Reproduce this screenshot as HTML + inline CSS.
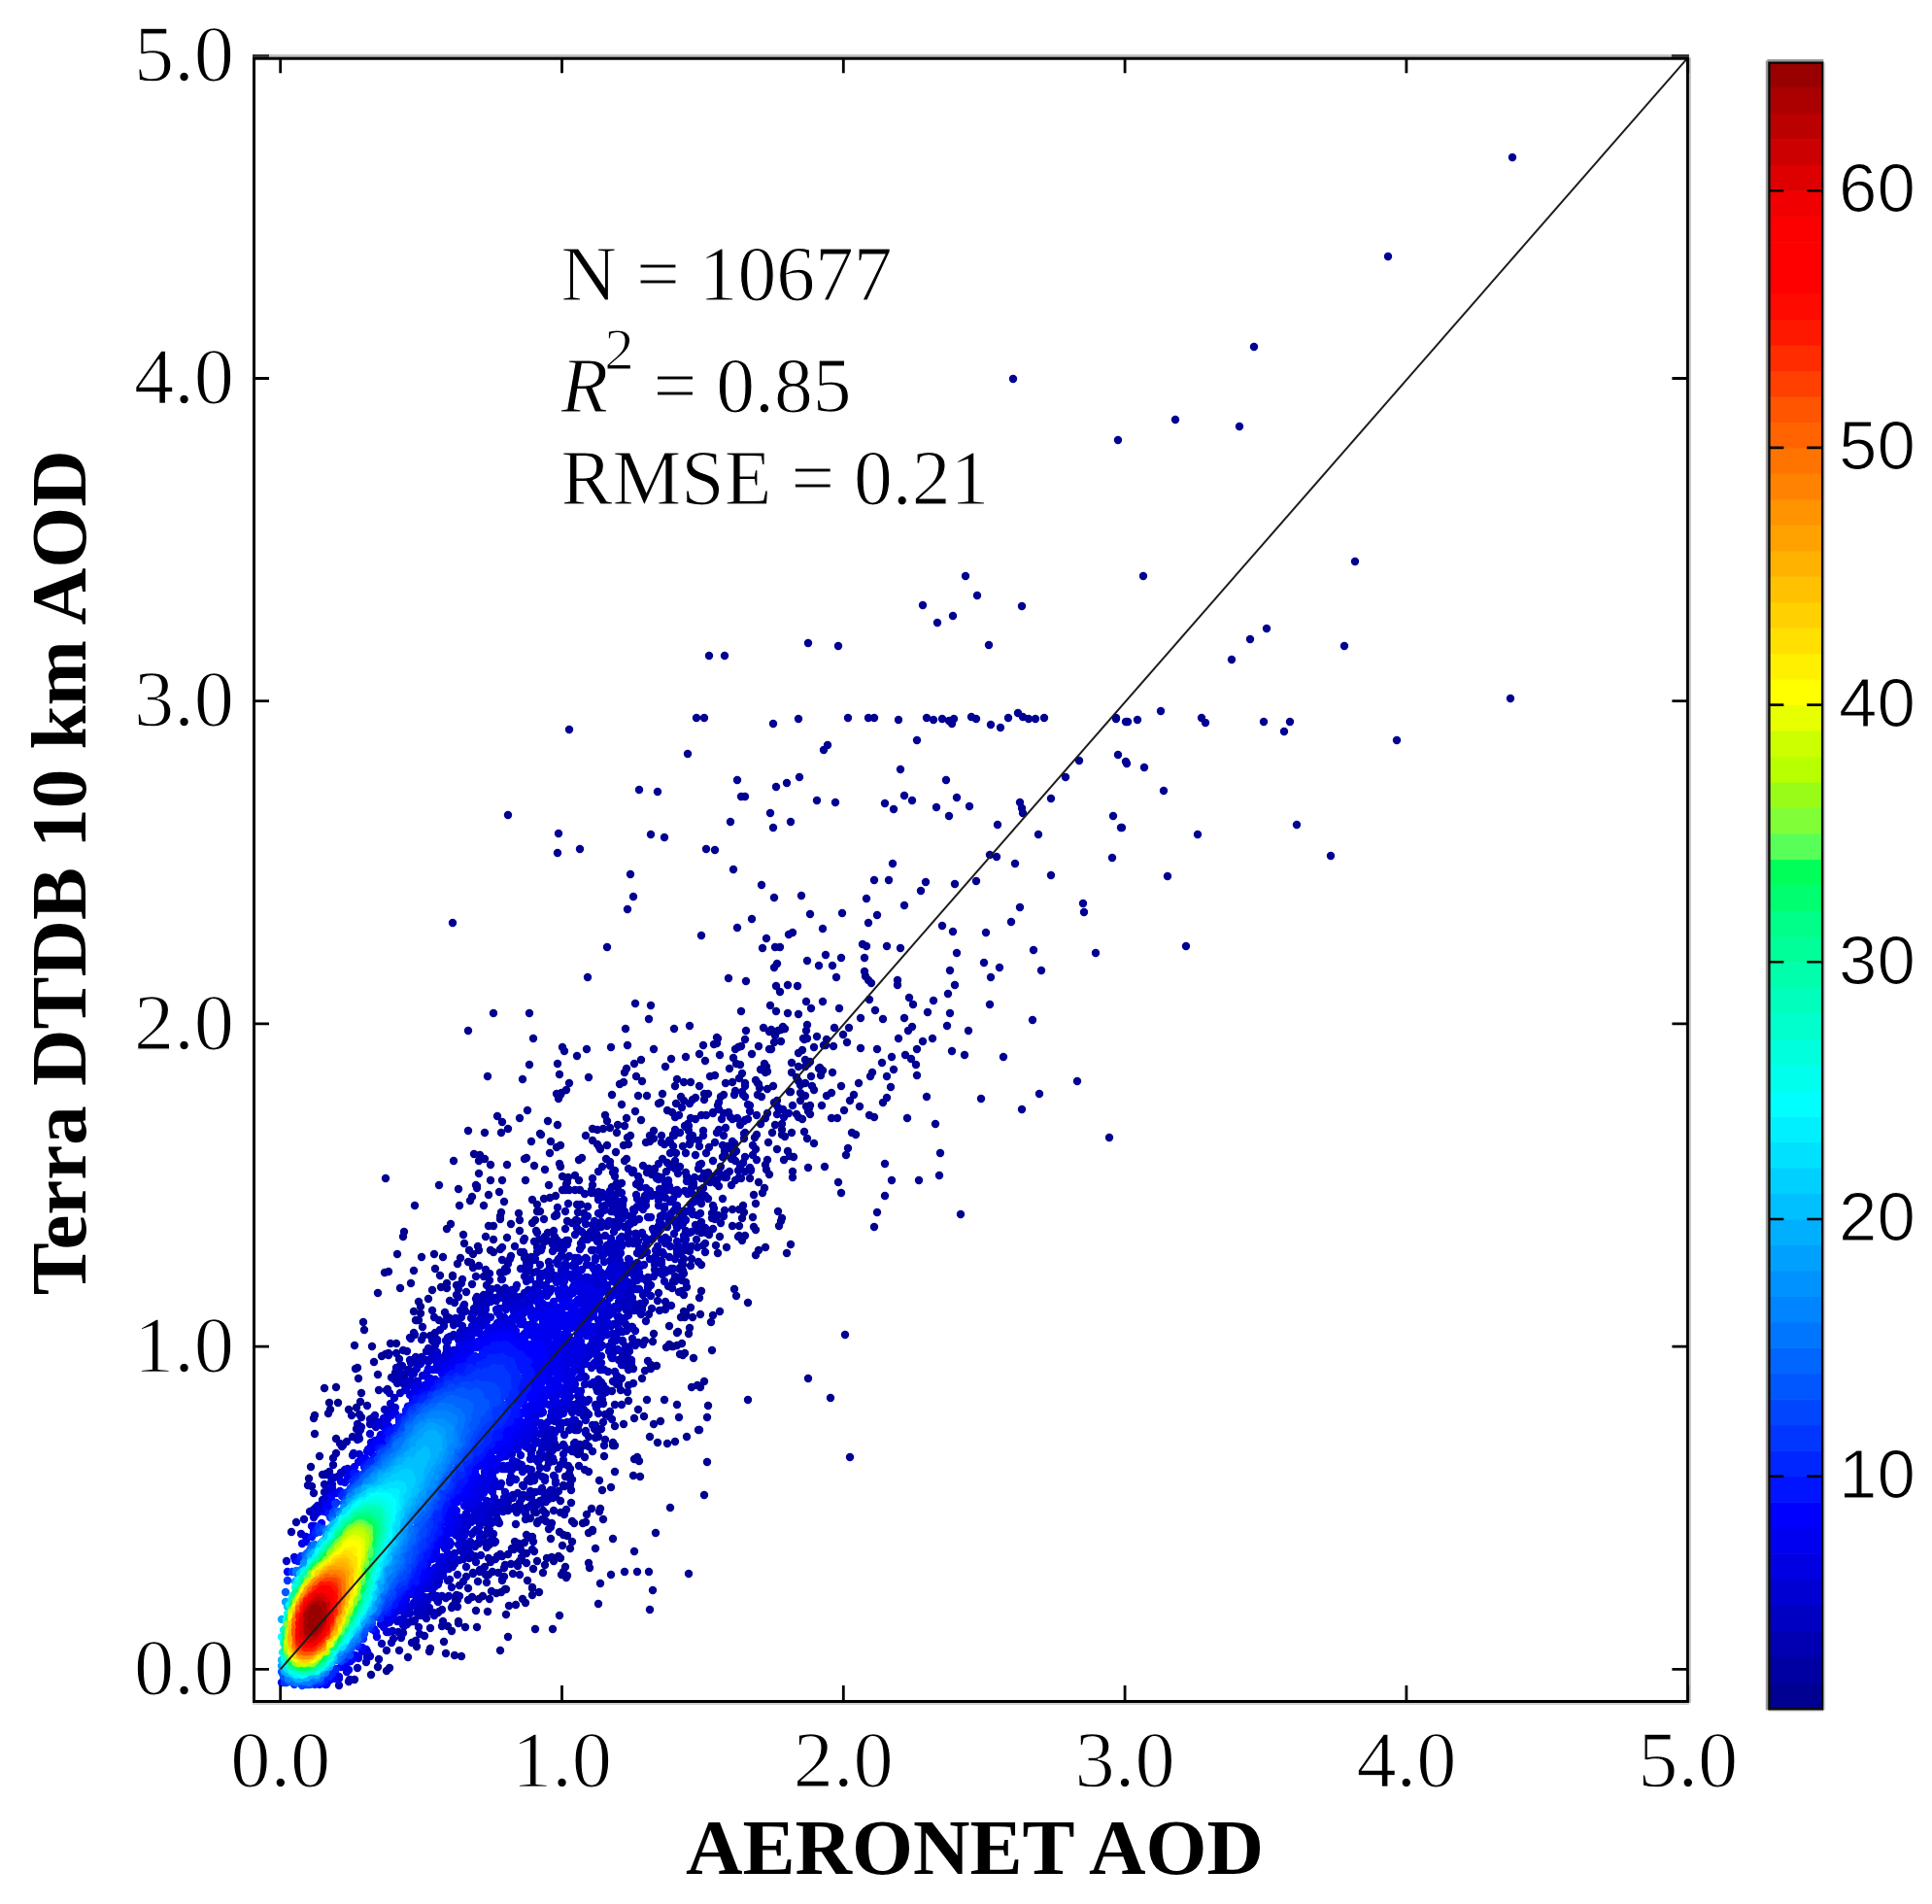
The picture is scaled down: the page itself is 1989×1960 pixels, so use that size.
<!DOCTYPE html>
<html><head><meta charset="utf-8"><title>Terra DTDB 10 km AOD vs AERONET AOD</title>
<style>html,body{margin:0;padding:0;background:#fff}svg{display:block}.s{font-family:"Liberation Serif",serif;font-size:79.6px;fill:#000;stroke:#fff;stroke-width:1.1px}.t{font-family:"Liberation Serif",serif;font-size:82.4px;fill:#000;stroke:#fff;stroke-width:1.3px}.b{font-family:"Liberation Serif",serif;font-size:81px;font-weight:bold;fill:#000}.c{font-family:"Liberation Sans",sans-serif;font-size:70.9px;fill:#000;stroke:#fff;stroke-width:1.2px}</style></head><body>
<svg width="1989" height="1960" viewBox="0 0 1989 1960">
<rect width="1989" height="1960" fill="#fff"/>
<g fill="none" stroke-linecap="round" stroke-width="8.4">
<path stroke="#000092" d="M1395 578h.01M1177 593h.01M1384 665h.01M1555 719h.01M1438 762h.01M1291 357h.01M1429 264h.01M1557 162h.01M586 751h.01M1221 974h.01M1043 390h.01M466 950h.01M875 1500h.01M1276 439h.01M1142 1171h.01M1210 432h.01M870 1374h.01M523 839h.01M1233 859h.01M1202 902h.01M1370 881h.01M1335 849h.01M989 1250h.01M1128 981h.01M1052 624h.01M1109 1113h.01M1063 1050h.01M1018 664h.01M397 1213h.01M1010 1131h.01M605 1006h.01M709 1620h.01M722 963h.01M770 1441h.01M625 975h.01M482 1061h.01M1033 1088h.01M708 776h.01M863 665h.01M832 662h.01M1082 901h.01M502 1108h.01M1198 814h.01M508 1043h.01M725 1539h.01M855 1439h.01M832 1419h.01M1268 679h.01M690 1552h.01M545 1043h.01M1052 1142h.01M1070 1126h.01M796 745h.01M1304 647h.01M994 593h.01M950 623h.01M822 740h.01M1072 999h.01M675 1578h.01M728 1505h.01M860 826h.01M658 813h.01M755 895h.01M1019 1034h.01M677 815h.01M927 792h.01M597 874h.01M1006 613h.01M649 900h.01M1064 978h.01M669 1657h.01M1287 658h.01M1195 732h.01M1301 743h.01M750 1007h.01M1111 783h.01M1069 859h.01M746 675h.01M730 675h.01M963 1157h.01M1050 934h.01M670 859h.01M427 1241h.01M684 862h.01M646 936h.01M1082 822h.01M1015 960h.01M968 1187h.01M575 858h.01M1097 800h.01M983 910h.01M974 803h.01M752 846h.01M1005 907h.01M784 911h.01M574 878h.01M1045 889h.01M841 824h.01M967 1210h.01M825 922h.01M873 739h.01M965 641h.01M1041 949h.01M1027 849h.01M759 955h.01M981 634h.01M946 1215h.01M616 1651h.01M1328 743h.01M1116 939h.01M911 1198h.01M1115 930h.01M900 1263h.01M549 1069h.01M759 803h.01M725 739h.01M1241 744h.01M717 739h.01M727 874h.01M1237 739h.01M954 1129h.01M652 923h.01M919 889h.01M970 953h.01M1151 453h.01M1151 453h.01M1322 753h.01M814 846h.01M866 1228h.01M797 924h.01M931 932h.01M944 762h.01M925 741h.01M867 940h.01M515 1699h.01M848 772h.01M852 767h.01M934 1151h.01M993 1086h.01M823 800h.01M736 875h.01M569 1677h.01M538 1111h.01M903 1248h.01M981 959h.01M997 1061h.01M774 946h.01M911 1231h.01M953 908h.01M998 830h.01M796 852h.01M770 1341h.01M927 976h.01M654 1033h.01M918 1215h.01M1145 883h.01M1145 883h.01M672 1637h.01M768 1010h.01M670 1035h.01M900 739h.01M900 906h.01M1029 996h.01M985 981h.01M948 917h.01M911 827h.01M1019 880h.01M894 739h.01M1178 790h.01M799 810h.01M964 831h.01M1020 1006h.01M545 1096h.01M576 1663h.01M389 1331h.01M1026 882h.01M977 840h.01M834 941h.01M892 925h.01M1013 991h.01M810 806h.01M644 1059h.01M694 1059h.01M863 1217h.01M551 1677h.01M920 833h.01M452 1220h.01M793 837h.01M915 906h.01M978 999h.01M668 1618h.01M710 1056h.01M416 1268h.01M847 956h.01M653 1597h.01M763 820h.01M939 824h.01M523 1685h.01M985 821h.01M767 820h.01M668 1049h.01M980 1082h.01M931 819h.01M903 942h.01M1050 826h.01M763 1041h.01M467 1195h.01M374 1361h.01M415 1273h.01M1053 837h.01M482 1164h.01M1052 832h.01M756 1327h.01M1146 840h.01M983 1014h.01M604 1080h.01M913 974h.01M894 950h.01M629 1078h.01M733 1390h.01M871 1189h.01M1075 739h.01M396 1310h.01M758 1334h.01M1146 840h.01M606 1109h.01M409 1291h.01M1155 852h.01M849 1201h.01M656 1618h.01M1030 749h.01M1154 852h.01M1005 740h.01M1020 746h.01M729 1447h.01M618 1630h.01M400 1309h.01M873 1182h.01M954 739h.01M643 1618h.01M976 1023h.01M978 1043h.01M543 1143h.01M629 1621h.01M728 1459h.01M673 1080h.01M1171 741h.01M1160 786h.01M924 1009h.01M975 1056h.01M1151 777h.01M1151 777h.01M831 989h.01M816 960h.01M579 1078h.01M375 1369h.01M1000 738h.01M475 1705h.01M861 1006h.01M1149 740h.01M1149 739h.01M631 1584h.01M924 1014h.01M1159 784h.01M512 1149h.01M850 983h.01M864 1038h.01M810 1290h.01M909 1049h.01M812 962h.01M843 994h.01M961 1030h.01M886 1048h.01M719 1472h.01M720 1472h.01M1066 740h.01M334 1429h.01M594 1087h.01M646 1076h.01M936 1027h.01M464 1260h.01M659 1520h.01M888 972h.01M1038 739h.01M365 1385h.01M900 1150h.01M892 974h.01M814 1281h.01M814 1281h.01M725 1422h.01M960 1069h.01M581 1082h.01M901 1040h.01M785 976h.01M847 1031h.01M1161 743h.01M535 1151h.01M697 1446h.01M789 966h.01M866 986h.01M1159 743h.01M961 741h.01M881 1168h.01M499 1166h.01M857 994h.01M324 1476h.01M895 1029h.01M944 1107h.01M695 1484h.01M460 1265h.01M886 1079h.01M1048 734h.01M940 1034h.01M877 1166h.01M323 1460h.01M707 1479h.01M721 1428h.01M574 1095h.01M821 1015h.01M1059 740h.01M712 1428h.01M955 1042h.01M517 1155h.01M913 1130h.01M832 1202h.01M909 1135h.01M434 1294h.01M1053 738h.01M741 1350h.01M980 745h.01M797 996h.01M718 1426h.01M699 1459h.01M982 740h.01M412 1326h.01M970 740h.01M652 1519h.01M691 1090h.01M799 1015h.01M895 1148h.01M426 1308h.01M890 986h.01M687 1486h.01M931 1048h.01M516 1166h.01M523 1162h.01M800 992h.01M977 742h.01M684 1441h.01M468 1704h.01M805 1254h.01M903 1080h.01M472 1224h.01M897 1012h.01M473 1241h.01M801 1247h.01M811 1014h.01M629 1531h.01M894 1009h.01M891 1005h.01M630 1127h.01M677 1485h.01M804 1257h.01M890 1000h.01M798 975h.01M778 1292h.01M803 975h.01M660 1091h.01M943 1096h.01M917 1119h.01M874 1058h.01M324 1457h.01M522 1199h.01M950 1072h.01M830 1031h.01M368 1408h.01M447 1291h.01M488 1188h.01M564 1154h.01M607 1614h.01M816 1212h.01M884 1115h.01M574 1158h.01M346 1428h.01M803 1021h.01M423 1321h.01M685 1098h.01M576 1106h.01M732 1361h.01M939 1057h.01M706 1088h.01M613 1594h.01M658 1504h.01M366 1409h.01M606 1609h.01M925 1069h.01M935 1061h.01M838 1177h.01M541 1215h.01M586 1115h.01M542 1192h.01M802 1262h.01M540 1193h.01M547 1175h.01M575 1131h.01M793 1035h.01M669 1479h.01M885 1139h.01M898 1104h.01M896 1108h.01M653 1095h.01M573 1126h.01M653 1502h.01M680 1463h.01M835 1038h.01M734 1354h.01M944 1080h.01M816 1206h.01M577 1127h.01M578 1125h.01M583 1122h.01M638 1116h.01M656 1500h.01M938 1090h.01M908 1094h.01M459 1702h.01M918 1088h.01M643 1104h.01M879 1127h.01M673 1466h.01M788 1284h.01M872 1073h.01M517 1215h.01M913 1108h.01M720 1085h.01M557 1168h.01M556 1167h.01M494 1189h.01M920 1101h.01M788 1284h.01M932 1086h.01M862 1151h.01M633 1515h.01M550 1200h.01M521 1662h.01M645 1100h.01M781 1287h.01M724 1076h.01M642 1114h.01M875 1133h.01M869 1143h.01M714 1398h.01M856 1151h.01M493 1195h.01M621 1564h.01M505 1199h.01M868 1065h.01M620 1534h.01M499 1193h.01M339 1444h.01M661 1113h.01M369 1419h.01M477 1271h.01M859 1058h.01M491 1675h.01M866 1118h.01M655 1108h.01M567 1175h.01M577 1179h.01M640 1137h.01M768 1061h.01M657 1128h.01M340 1451h.01M514 1227h.01M383 1386h.01M666 1128h.01M484 1236h.01M739 1069h.01M738 1068h.01M338 1455h.01M618 1553h.01M617 1524h.01M663 1458h.01M666 1441h.01M573 1181h.01M799 1041h.01M493 1208h.01M486 1232h.01M654 1144h.01M735 1075h.01M617 1556h.01M603 1169h.01M584 1622h.01M566 1187h.01M505 1215h.01M831 1172h.01M726 1092h.01M498 1241h.01M541 1650h.01M519 1237h.01M623 1148h.01M811 1043h.01M456 1294h.01M822 1044h.01M738 1074h.01M697 1111h.01M817 1191h.01M491 1223h.01M491 1221h.01M490 1220h.01M857 1104h.01M583 1624h.01M548 1642h.01M503 1230h.01M610 1162h.01M555 1639h.01M653 1460h.01M561 1204h.01M767 1070h.01M448 1306h.01M858 1077h.01M401 1717h.01M657 1451h.01M645 1151h.01M813 1190h.01M320 1510h.01M524 1653h.01M516 1248h.01M610 1576h.01M610 1575h.01M705 1393h.01M578 1621h.01M721 1353h.01M682 1126h.01M503 1262h.01M831 1055h.01M348 1444h.01M786 1058h.01M431 1340h.01M828 1165h.01M606 1578h.01M660 1153h.01M515 1252h.01M609 1553h.01M615 1163h.01M778 1266h.01M420 1706h.01M531 1652h.01M785 1228h.01M442 1700h.01M443 1697h.01M722 1329h.01M704 1114h.01M695 1118h.01M478 1280h.01M625 1154h.01M502 1659h.01M538 1646h.01M807 1194h.01M548 1235h.01M703 1395h.01M700 1394h.01M457 1690h.01M856 1125h.01M515 1255h.01M778 1239h.01M678 1136h.01M596 1194h.01M741 1086h.01M610 1174h.01M576 1198h.01M711 1114h.01M811 1185h.01M851 1070h.01M580 1618h.01M599 1192h.01M792 1209h.01M760 1078h.01M582 1613h.01M763 1077h.01M680 1135h.01M764 1277h.01M508 1262h.01M787 1223h.01M479 1675h.01M731 1108h.01M850 1076h.01M643 1159h.01M709 1373h.01M534 1249h.01M776 1263h.01M676 1406h.01M841 1067h.01M775 1253h.01M329 1499h.01M398 1720h.01M767 1272h.01M776 1230h.01M736 1107h.01M851 1128h.01M636 1158h.01M621 1162h.01M830 1061h.01M757 1080h.01M577 1201h.01M748 1284h.01M426 1350h.01M846 1138h.01M445 1328h.01M720 1336h.01M589 1587h.01M781 1077h.01M587 1594h.01M372 1434h.01M710 1367h.01M615 1178h.01M483 1287h.01M565 1220h.01M794 1060h.01M792 1062h.01M500 1273h.01M548 1634h.01M548 1635h.01M713 1356h.01M760 1273h.01M806 1057h.01M808 1059h.01M603 1567h.01M526 1260h.01M604 1559h.01M453 1313h.01M649 1169h.01M720 1118h.01M385 1402h.01M628 1161h.01M792 1080h.01M474 1295h.01M794 1080h.01M702 1383h.01M755 1089h.01M739 1290h.01M848 1076h.01M697 1385h.01M646 1171h.01M774 1085h.01M508 1276h.01M560 1234h.01M804 1060h.01M801 1061h.01M642 1466h.01M798 1066h.01M492 1283h.01M797 1073h.01M751 1100h.01M789 1204h.01M693 1386h.01M635 1166h.01M577 1604h.01M600 1568h.01M804 1072h.01M761 1272h.01M617 1181h.01M618 1183h.01M800 1183h.01M490 1658h.01M692 1386h.01M828 1070h.01M831 1069h.01M781 1217h.01M827 1069h.01M465 1679h.01M787 1095h.01M441 1337h.01M359 1451h.01M765 1241h.01M433 1345h.01M758 1095h.01M633 1488h.01M535 1256h.01M789 1098h.01M687 1143h.01M766 1248h.01M647 1178h.01M553 1240h.01M686 1387h.01M845 1107h.01M847 1102h.01M402 1383h.01M579 1211h.01M815 1094h.01M697 1372h.01M689 1384h.01M815 1166h.01M762 1096h.01M471 1301h.01M642 1179h.01M487 1291h.01M698 1371h.01M834 1147h.01M559 1619h.01M493 1287h.01M790 1103h.01M788 1104h.01M808 1170h.01M805 1168h.01M625 1179h.01M711 1346h.01M838 1078h.01M790 1194h.01M826 1152h.01M705 1356h.01M472 1671h.01M472 1669h.01M575 1602h.01M318 1522h.01M631 1488h.01M371 1443h.01M701 1356h.01M822 1084h.01M579 1591h.01M761 1262h.01M584 1581h.01M504 1646h.01M669 1169h.01M689 1365h.01M761 1245h.01M570 1607h.01M553 1247h.01M706 1352h.01M815 1104h.01M747 1115h.01M833 1141h.01M670 1409h.01M701 1129h.01M826 1081h.01M346 1481h.01M764 1254h.01M783 1101h.01M791 1176h.01M844 1099h.01M673 1164h.01M585 1212h.01M843 1100h.01M454 1325h.01M665 1176h.01M832 1144h.01M568 1603h.01M566 1233h.01M622 1499h.01M393 1396h.01M589 1566h.01M591 1568h.01M696 1136h.01M725 1126h.01M561 1611h.01M788 1199h.01M634 1186h.01M592 1210h.01M543 1627h.01M834 1138h.01M482 1299h.01M408 1383h.01M669 1175h.01M429 1695h.01M522 1274h.01M580 1580h.01M631 1485h.01M632 1487h.01M704 1350h.01M838 1122h.01M729 1126h.01M572 1231h.01M624 1193h.01M822 1098h.01M795 1166h.01M836 1118h.01M505 1287h.01M556 1247h.01M805 1163h.01M796 1118h.01M511 1640h.01M764 1105h.01M673 1172h.01M535 1267h.01M829 1091h.01M716 1130h.01M563 1604h.01M382 1724h.01M670 1405h.01M431 1359h.01M428 1359h.01M431 1359h.01M822 1150h.01M647 1442h.01M737 1282h.01M754 1114h.01M832 1095h.01M834 1093h.01M516 1639h.01M831 1095h.01M433 1352h.01M606 1515h.01M830 1139h.01M466 1314h.01M466 1313h.01M761 1110h.01M778 1112h.01M583 1219h.01M584 1217h.01M820 1109h.01M704 1133h.01M805 1157h.01M754 1262h.01M829 1098h.01M790 1121h.01M781 1116h.01M780 1115h.01M835 1108h.01M460 1326h.01M549 1615h.01M814 1124h.01M813 1124h.01M389 1415h.01M822 1113h.01M798 1158h.01M461 1674h.01M829 1128h.01M389 1716h.01M493 1646h.01M722 1302h.01M692 1145h.01M829 1115h.01M772 1213h.01M824 1117h.01M367 1449h.01M713 1132h.01M661 1419h.01M754 1245h.01M520 1636h.01M521 1636h.01M672 1381h.01M515 1286h.01M579 1225h.01M576 1577h.01M645 1193h.01M643 1195h.01M745 1127h.01M596 1215h.01M633 1468h.01M460 1321h.01M767 1115h.01M485 1300h.01M824 1133h.01M567 1584h.01M725 1132h.01M782 1120h.01M548 1259h.01M551 1256h.01M820 1147h.01M553 1607h.01M741 1273h.01M397 1394h.01M400 1395h.01M673 1373h.01M508 1289h.01M824 1125h.01M704 1333h.01M783 1157h.01M784 1129h.01M788 1151h.01M497 1643h.01M742 1129h.01M777 1171h.01M797 1135h.01M780 1127h.01M800 1133h.01M778 1183h.01M779 1168h.01M790 1146h.01"/>
<path stroke="#0000a2" d="M807 1150h.01M767 1118h.01M757 1123h.01M616 1206h.01M695 1150h.01M710 1136h.01M506 1638h.01M317 1529h.01M799 1137h.01M702 1140h.01M628 1200h.01M628 1196h.01M517 1284h.01M756 1127h.01M801 1140h.01M812 1146h.01M764 1124h.01M800 1147h.01M620 1201h.01M779 1194h.01M816 1138h.01M582 1225h.01M806 1142h.01M779 1148h.01M740 1135h.01M428 1689h.01M535 1621h.01M681 1169h.01M765 1127h.01M362 1457h.01M602 1513h.01M411 1699h.01M775 1179h.01M487 1305h.01M493 1303h.01M773 1205h.01M739 1138h.01M767 1129h.01M574 1243h.01M770 1137h.01M772 1138h.01M560 1255h.01M646 1433h.01M699 1148h.01M772 1144h.01M550 1597h.01M586 1225h.01M772 1202h.01M773 1204h.01M445 1349h.01M726 1289h.01M740 1142h.01M681 1176h.01M548 1595h.01M727 1148h.01M775 1189h.01M640 1446h.01M770 1152h.01M734 1145h.01M734 1146h.01M542 1609h.01M722 1148h.01M486 1644h.01M581 1559h.01M300 1577h.01M350 1486h.01M622 1488h.01M424 1691h.01M707 1325h.01M685 1348h.01M685 1347h.01M400 1393h.01M745 1252h.01M549 1587h.01M766 1154h.01M767 1153h.01M455 1674h.01M746 1246h.01M390 1431h.01M684 1178h.01M691 1344h.01M766 1167h.01M767 1166h.01M743 1152h.01M667 1401h.01M745 1146h.01M470 1323h.01M530 1283h.01M652 1424h.01M588 1547h.01M738 1166h.01M567 1572h.01M565 1574h.01M766 1172h.01M750 1145h.01M740 1163h.01M702 1329h.01M588 1534h.01M647 1203h.01M761 1212h.01M763 1213h.01M744 1234h.01M552 1267h.01M528 1620h.01M711 1151h.01M762 1158h.01M426 1372h.01M427 1374h.01M759 1151h.01M630 1461h.01M422 1377h.01M423 1378h.01M573 1250h.01M573 1251h.01M517 1626h.01M517 1627h.01M695 1163h.01M548 1582h.01M583 1554h.01M754 1152h.01M752 1150h.01M747 1161h.01M664 1411h.01M346 1496h.01M542 1599h.01M571 1252h.01M610 1213h.01M456 1669h.01M540 1588h.01M754 1152h.01M623 1482h.01M378 1447h.01M435 1366h.01M724 1164h.01M745 1169h.01M546 1583h.01M736 1176h.01M716 1152h.01M482 1647h.01M592 1225h.01M767 1206h.01M742 1259h.01M540 1275h.01M719 1299h.01M685 1340h.01M532 1610h.01M533 1612h.01M476 1317h.01M631 1207h.01M679 1349h.01M537 1603h.01M542 1580h.01M724 1169h.01M753 1220h.01M577 1557h.01M437 1684h.01M539 1277h.01M730 1181h.01M472 1327h.01M757 1215h.01M585 1239h.01M475 1321h.01M767 1191h.01M689 1174h.01M754 1175h.01M370 1456h.01M633 1205h.01M501 1629h.01M633 1446h.01M744 1179h.01M463 1339h.01M500 1307h.01M519 1623h.01M535 1607h.01M705 1159h.01M706 1160h.01M765 1197h.01M709 1159h.01M708 1157h.01M582 1247h.01M699 1330h.01M693 1168h.01M694 1169h.01M749 1180h.01M756 1177h.01M517 1297h.01M727 1187h.01M690 1176h.01M534 1589h.01M536 1595h.01M719 1174h.01M408 1393h.01M720 1180h.01M597 1225h.01M754 1184h.01M321 1530h.01M596 1509h.01M726 1280h.01M724 1282h.01M652 1205h.01M651 1207h.01M706 1320h.01M758 1185h.01M443 1676h.01M762 1201h.01M662 1200h.01M713 1169h.01M647 1426h.01M610 1494h.01M610 1494h.01M700 1166h.01M693 1180h.01M490 1314h.01M709 1164h.01M746 1185h.01M610 1220h.01M716 1189h.01M447 1356h.01M755 1188h.01M529 1595h.01M343 1501h.01M530 1587h.01M526 1610h.01M690 1187h.01M305 1567h.01M710 1171h.01M526 1293h.01M525 1296h.01M760 1205h.01M710 1178h.01M710 1177h.01M711 1175h.01M736 1255h.01M744 1191h.01M553 1269h.01M353 1488h.01M757 1195h.01M568 1568h.01M739 1251h.01M734 1265h.01M706 1187h.01M589 1523h.01M703 1180h.01M746 1188h.01M696 1187h.01M734 1195h.01M633 1211h.01M513 1619h.01M504 1311h.01M753 1193h.01M471 1654h.01M520 1611h.01M682 1193h.01M682 1193h.01M712 1296h.01M519 1614h.01M527 1594h.01M587 1528h.01M587 1529h.01M627 1458h.01M390 1708h.01M415 1390h.01M668 1353h.01M665 1360h.01M616 1479h.01M372 1459h.01M748 1212h.01M594 1240h.01M740 1221h.01M740 1221h.01M472 1335h.01M470 1333h.01M730 1271h.01M722 1198h.01M720 1199h.01M746 1212h.01M562 1566h.01M751 1206h.01M436 1375h.01M678 1198h.01M668 1203h.01M503 1621h.01M621 1464h.01M458 1351h.01M695 1195h.01M702 1318h.01M523 1301h.01M492 1628h.01M628 1453h.01M498 1314h.01M748 1208h.01M577 1545h.01M639 1431h.01M523 1600h.01M602 1229h.01M735 1254h.01M733 1254h.01M602 1500h.01M692 1326h.01M432 1682h.01M733 1249h.01M711 1303h.01M742 1201h.01M735 1244h.01M734 1241h.01M570 1267h.01M507 1618h.01M564 1269h.01M482 1635h.01M486 1322h.01M486 1322h.01M664 1380h.01M662 1384h.01M740 1207h.01M718 1284h.01M500 1621h.01M550 1278h.01M719 1203h.01M743 1211h.01M666 1207h.01M674 1203h.01M657 1211h.01M352 1489h.01M687 1197h.01M587 1522h.01M517 1602h.01M419 1391h.01M465 1655h.01M466 1653h.01M737 1218h.01M702 1313h.01M606 1489h.01M619 1471h.01M677 1339h.01M595 1248h.01M539 1289h.01M536 1289h.01M554 1566h.01M553 1568h.01M738 1215h.01M613 1480h.01M365 1729h.01M580 1529h.01M581 1530h.01M727 1269h.01M729 1207h.01M700 1201h.01M623 1456h.01M473 1643h.01M652 1409h.01M570 1555h.01M515 1310h.01M520 1306h.01M584 1257h.01M609 1228h.01M609 1225h.01M586 1517h.01M587 1520h.01M733 1211h.01M596 1241h.01M598 1240h.01M411 1399h.01M434 1379h.01M637 1425h.01M460 1355h.01M452 1359h.01M555 1276h.01M512 1602h.01M515 1600h.01M398 1699h.01M729 1209h.01M695 1203h.01M561 1273h.01M671 1347h.01M726 1264h.01M729 1234h.01M471 1647h.01M469 1648h.01M469 1644h.01M615 1474h.01M690 1201h.01M323 1537h.01M558 1564h.01M704 1311h.01M468 1341h.01M363 1479h.01M357 1484h.01M706 1207h.01M725 1212h.01M725 1208h.01M367 1471h.01M659 1216h.01M510 1605h.01M674 1204h.01M531 1569h.01M520 1309h.01M630 1432h.01M540 1295h.01M540 1292h.01M480 1330h.01M601 1488h.01M731 1217h.01M399 1430h.01M398 1431h.01M635 1218h.01M640 1218h.01M562 1558h.01M335 1518h.01M332 1518h.01M336 1517h.01M495 1616h.01M494 1618h.01M582 1265h.01M589 1259h.01M572 1541h.01M597 1495h.01M597 1493h.01M693 1319h.01M695 1319h.01M722 1269h.01M698 1208h.01M715 1212h.01M504 1318h.01M403 1418h.01M700 1305h.01M703 1308h.01M671 1209h.01M593 1256h.01M553 1284h.01M595 1497h.01M585 1509h.01M587 1512h.01M655 1219h.01M499 1613h.01M582 1520h.01M635 1425h.01M638 1421h.01M722 1213h.01M728 1216h.01M413 1686h.01M712 1283h.01M522 1308h.01M505 1608h.01M472 1643h.01M470 1642h.01M726 1231h.01M707 1211h.01M571 1273h.01M686 1206h.01M724 1223h.01M657 1382h.01M443 1375h.01M564 1277h.01M561 1278h.01M640 1419h.01M717 1276h.01M368 1466h.01M603 1486h.01M545 1563h.01M546 1563h.01M656 1218h.01M339 1515h.01M621 1445h.01M473 1632h.01M473 1632h.01M703 1302h.01M710 1288h.01M613 1467h.01M688 1324h.01M541 1564h.01M678 1331h.01M695 1314h.01M616 1227h.01M722 1262h.01M573 1276h.01M594 1496h.01M595 1257h.01M494 1616h.01M575 1535h.01M614 1228h.01M615 1230h.01M606 1479h.01M605 1242h.01M677 1211h.01M630 1222h.01M722 1258h.01M343 1508h.01M552 1557h.01M721 1225h.01M503 1604h.01M569 1542h.01M720 1232h.01M723 1230h.01M702 1299h.01M620 1441h.01M699 1306h.01M722 1239h.01M721 1236h.01M633 1221h.01M636 1222h.01M480 1623h.01M477 1628h.01M721 1249h.01M451 1660h.01M612 1471h.01M681 1212h.01M714 1218h.01M487 1620h.01M487 1619h.01M601 1249h.01M597 1487h.01M452 1659h.01M455 1657h.01M550 1556h.01M661 1348h.01M659 1222h.01M718 1267h.01M509 1588h.01M547 1295h.01M547 1294h.01M704 1296h.01M559 1555h.01M542 1299h.01M572 1525h.01M707 1287h.01M704 1285h.01M412 1406h.01M501 1323h.01M407 1413h.01M711 1217h.01M709 1216h.01M648 1405h.01M650 1405h.01M676 1213h.01M580 1507h.01M360 1729h.01M589 1494h.01M588 1492h.01M617 1229h.01M463 1357h.01M462 1358h.01M712 1223h.01M714 1221h.01M718 1262h.01M716 1261h.01M457 1361h.01M716 1231h.01M448 1372h.01M664 1340h.01M647 1410h.01"/>
<path stroke="#0000b2" d="M541 1558h.01M701 1291h.01M558 1284h.01M557 1287h.01M707 1216h.01M372 1469h.01M371 1472h.01M370 1472h.01M570 1535h.01M610 1467h.01M693 1306h.01M628 1226h.01M678 1214h.01M478 1343h.01M706 1282h.01M577 1508h.01M516 1317h.01M510 1587h.01M602 1255h.01M565 1543h.01M568 1541h.01M616 1446h.01M718 1251h.01M690 1308h.01M553 1289h.01M592 1485h.01M580 1503h.01M688 1215h.01M621 1435h.01M624 1433h.01M631 1422h.01M665 1223h.01M660 1353h.01M670 1334h.01M431 1675h.01M684 1319h.01M403 1691h.01M594 1264h.01M591 1491h.01M406 1420h.01M654 1385h.01M562 1546h.01M653 1381h.01M577 1279h.01M572 1527h.01M575 1512h.01M624 1230h.01M620 1228h.01M654 1370h.01M697 1290h.01M542 1302h.01M565 1537h.01M648 1401h.01M650 1402h.01M616 1455h.01M536 1306h.01M616 1235h.01M695 1296h.01M569 1281h.01M569 1280h.01M532 1557h.01M691 1306h.01M447 1663h.01M446 1660h.01M408 1408h.01M603 1473h.01M603 1475h.01M517 1317h.01M490 1608h.01M715 1237h.01M710 1269h.01M697 1287h.01M699 1285h.01M655 1230h.01M655 1230h.01M603 1260h.01M685 1310h.01M685 1309h.01M567 1534h.01M415 1681h.01M583 1277h.01M570 1519h.01M571 1520h.01M553 1549h.01M624 1430h.01M543 1552h.01M706 1276h.01M422 1400h.01M708 1229h.01M712 1228h.01M688 1216h.01M682 1312h.01M591 1486h.01M646 1407h.01M628 1231h.01M605 1252h.01M704 1276h.01M713 1250h.01M705 1226h.01M313 1564h.01M558 1547h.01M556 1545h.01M685 1218h.01M685 1219h.01M491 1335h.01M592 1271h.01M698 1282h.01M664 1231h.01M659 1351h.01M573 1284h.01M614 1449h.01M504 1328h.01M618 1440h.01M640 1228h.01M712 1268h.01M414 1406h.01M537 1554h.01M539 1553h.01M474 1349h.01M501 1593h.01M689 1294h.01M477 1345h.01M478 1348h.01M405 1687h.01M597 1267h.01M445 1380h.01M457 1365h.01M650 1400h.01M453 1369h.01M669 1228h.01M669 1226h.01M561 1539h.01M631 1232h.01M629 1231h.01M662 1343h.01M622 1232h.01M665 1232h.01M583 1492h.01M585 1277h.01M656 1234h.01M704 1272h.01M697 1278h.01M635 1229h.01M505 1586h.01M551 1296h.01M550 1297h.01M462 1643h.01M711 1240h.01M679 1224h.01M663 1235h.01M545 1303h.01M547 1549h.01M556 1545h.01M559 1544h.01M578 1282h.01M368 1482h.01M543 1307h.01M690 1283h.01M580 1497h.01M621 1426h.01M633 1412h.01M635 1416h.01M689 1221h.01M688 1221h.01M665 1236h.01M533 1553h.01M439 1666h.01M671 1231h.01M620 1432h.01M411 1413h.01M613 1446h.01M465 1634h.01M401 1434h.01M508 1579h.01M687 1222h.01M685 1280h.01M712 1246h.01M661 1239h.01M697 1225h.01M659 1239h.01M684 1307h.01M706 1267h.01M495 1601h.01M561 1524h.01M551 1547h.01M627 1235h.01M599 1268h.01M682 1289h.01M683 1291h.01M681 1301h.01M503 1589h.01M504 1590h.01M501 1590h.01M581 1489h.01M657 1346h.01M659 1346h.01M665 1241h.01M561 1521h.01M506 1327h.01M681 1298h.01M459 1645h.01M673 1230h.01M642 1235h.01M646 1402h.01M688 1276h.01M696 1226h.01M694 1226h.01M693 1226h.01M570 1504h.01M685 1274h.01M656 1242h.01M660 1243h.01M681 1276h.01M556 1535h.01M559 1535h.01M558 1532h.01M662 1245h.01M648 1391h.01M677 1283h.01M683 1226h.01M670 1253h.01M676 1310h.01M679 1309h.01M631 1235h.01M630 1233h.01M643 1405h.01M428 1397h.01M507 1582h.01M667 1253h.01M698 1229h.01M687 1225h.01M677 1269h.01M694 1270h.01M572 1285h.01M678 1229h.01M679 1229h.01M651 1384h.01M672 1265h.01M673 1267h.01M706 1256h.01M674 1269h.01M672 1275h.01M707 1247h.01M490 1337h.01M680 1261h.01M678 1262h.01M679 1264h.01M651 1378h.01M584 1281h.01M679 1257h.01M372 1469h.01M705 1248h.01M558 1520h.01M514 1568h.01M545 1541h.01M547 1542h.01M675 1287h.01M702 1261h.01M678 1236h.01M620 1242h.01M623 1241h.01M424 1401h.01M423 1403h.01M678 1241h.01M479 1350h.01M551 1536h.01M569 1501h.01M480 1613h.01M650 1366h.01M650 1367h.01M651 1366h.01M393 1692h.01M653 1247h.01M652 1245h.01M670 1276h.01M410 1418h.01M673 1314h.01M681 1260h.01M504 1331h.01M469 1357h.01M641 1239h.01M602 1271h.01M682 1232h.01M500 1588h.01M542 1310h.01M544 1541h.01M687 1263h.01M512 1326h.01M578 1286h.01M565 1506h.01M565 1505h.01M606 1456h.01M653 1349h.01M681 1253h.01M670 1323h.01M658 1255h.01M703 1260h.01M703 1260h.01M702 1257h.01M693 1234h.01M683 1250h.01M680 1252h.01M699 1261h.01M697 1264h.01M450 1379h.01M675 1293h.01M618 1250h.01M616 1249h.01M441 1388h.01M489 1602h.01M685 1233h.01M703 1247h.01M659 1342h.01M563 1511h.01M630 1240h.01M369 1478h.01M696 1260h.01M703 1252h.01M702 1252h.01M439 1391h.01M569 1288h.01M675 1297h.01M675 1296h.01M546 1535h.01M537 1543h.01M633 1238h.01M636 1237h.01M359 1731h.01M540 1314h.01M535 1547h.01M622 1246h.01M697 1243h.01M696 1241h.01M697 1241h.01M471 1621h.01M550 1524h.01M674 1302h.01M674 1307h.01M689 1257h.01M684 1242h.01M684 1244h.01M690 1237h.01M600 1277h.01M529 1552h.01M531 1551h.01M610 1261h.01M580 1286h.01M319 1556h.01M554 1518h.01M697 1246h.01M498 1333h.01M603 1462h.01M699 1256h.01M640 1405h.01M662 1333h.01M688 1254h.01M691 1254h.01M612 1257h.01M644 1402h.01M644 1400h.01M539 1539h.01M526 1553h.01M641 1241h.01M548 1523h.01M551 1520h.01M691 1249h.01M661 1270h.01M661 1270h.01M661 1269h.01M694 1246h.01M595 1472h.01M592 1472h.01M595 1469h.01M651 1251h.01M546 1525h.01M556 1302h.01M665 1281h.01M646 1395h.01M669 1296h.01M667 1327h.01M667 1327h.01M667 1325h.01M580 1487h.01M626 1412h.01M605 1271h.01M608 1268h.01M653 1258h.01M637 1243h.01M556 1511h.01M496 1337h.01M664 1274h.01M411 1420h.01M439 1660h.01M574 1490h.01M548 1524h.01M545 1522h.01M416 1416h.01M412 1413h.01M543 1524h.01M533 1537h.01M491 1342h.01M616 1420h.01M619 1423h.01M381 1461h.01M383 1460h.01M643 1247h.01M615 1432h.01M614 1429h.01M334 1528h.01M539 1530h.01M538 1529h.01M598 1280h.01M599 1283h.01M615 1263h.01M616 1263h.01M614 1260h.01M513 1566h.01M645 1390h.01M666 1289h.01M665 1289h.01M619 1258h.01M488 1347h.01M629 1247h.01M631 1247h.01M569 1493h.01M604 1272h.01M605 1276h.01M606 1272h.01M639 1247h.01M386 1457h.01M651 1257h.01M483 1604h.01M427 1668h.01M426 1669h.01M578 1292h.01M581 1477h.01M646 1388h.01M451 1649h.01M667 1321h.01M565 1498h.01M664 1331h.01M648 1252h.01M601 1458h.01M643 1249h.01M640 1398h.01M643 1399h.01M520 1326h.01M547 1519h.01M562 1500h.01M381 1705h.01M475 1356h.01M420 1410h.01M589 1470h.01M663 1285h.01M663 1288h.01M504 1575h.01M648 1260h.01M649 1260h.01M637 1400h.01M368 1717h.01M619 1263h.01M657 1278h.01M596 1466h.01M654 1270h.01M655 1270h.01M635 1248h.01M636 1250h.01M467 1364h.01M645 1370h.01M647 1260h.01M653 1342h.01M641 1254h.01M520 1553h.01M523 1555h.01M493 1589h.01M450 1381h.01M448 1385h.01M660 1292h.01M663 1290h.01M377 1711h.01M502 1578h.01M646 1368h.01M667 1318h.01M665 1318h.01M443 1391h.01M611 1274h.01M597 1286h.01M370 1481h.01M569 1489h.01M637 1254h.01M655 1275h.01M627 1257h.01M646 1264h.01M565 1299h.01M615 1272h.01M614 1270h.01M613 1271h.01M612 1268h.01M549 1310h.01M547 1513h.01M545 1513h.01M409 1424h.01M644 1363h.01M641 1396h.01M667 1315h.01M489 1592h.01M416 1419h.01M496 1342h.01M554 1505h.01M658 1285h.01M631 1258h.01M629 1259h.01M434 1397h.01M655 1279h.01M656 1278h.01M638 1257h.01M562 1499h.01M556 1502h.01M604 1454h.01M602 1453h.01M528 1542h.01M643 1263h.01M625 1262h.01M586 1472h.01M455 1643h.01M491 1347h.01M615 1423h.01M515 1331h.01M614 1274h.01M532 1323h.01M532 1323h.01M481 1603h.01M640 1400h.01M323 1554h.01M477 1605h.01M433 1663h.01M632 1262h.01M636 1263h.01M486 1352h.01M429 1403h.01M431 1400h.01M644 1389h.01M656 1290h.01M512 1567h.01M512 1564h.01M590 1467h.01M410 1680h.01M528 1539h.01M647 1269h.01M571 1486h.01M542 1319h.01M606 1441h.01M615 1278h.01M652 1280h.01M421 1670h.01M423 1669h.01M647 1354h.01M623 1272h.01M418 1414h.01M450 1647h.01M451 1645h.01M663 1302h.01M502 1574h.01M644 1386h.01M617 1274h.01M503 1338h.01M622 1410h.01M565 1491h.01M646 1274h.01M647 1275h.01M461 1627h.01M463 1626h.01M491 1589h.01M583 1295h.01M556 1312h.01M553 1309h.01M421 1410h.01M641 1381h.01M523 1546h.01M601 1451h.01M520 1554h.01M518 1556h.01M516 1330h.01M519 1328h.01M499 1580h.01M472 1362h.01M661 1316h.01M442 1655h.01M381 1466h.01M334 1536h.01M641 1380h.01M510 1336h.01M608 1425h.01M566 1304h.01M617 1279h.01M609 1287h.01M611 1287h.01M632 1268h.01M647 1280h.01M586 1293h.01M640 1273h.01M412 1423h.01M531 1326h.01M349 1735h.01M645 1349h.01"/>
<path stroke="#0000c2" d="M573 1299h.01M575 1296h.01M494 1583h.01M641 1371h.01M570 1481h.01M341 1521h.01M495 1346h.01M538 1515h.01M658 1327h.01M531 1523h.01M592 1295h.01M416 1674h.01M415 1673h.01M638 1275h.01M639 1275h.01M638 1275h.01M484 1599h.01M481 1597h.01M546 1317h.01M629 1275h.01M543 1512h.01M590 1462h.01M592 1462h.01M565 1485h.01M406 1439h.01M595 1295h.01M522 1540h.01M637 1390h.01M506 1337h.01M505 1340h.01M616 1287h.01M519 1549h.01M363 1498h.01M660 1303h.01M525 1526h.01M473 1606h.01M295 1607h.01M611 1423h.01M506 1568h.01M559 1311h.01M647 1344h.01M551 1502h.01M651 1336h.01M639 1279h.01M618 1410h.01M619 1410h.01M572 1473h.01M576 1469h.01M577 1471h.01M628 1280h.01M556 1496h.01M429 1660h.01M643 1357h.01M635 1280h.01M558 1492h.01M500 1344h.01M502 1340h.01M657 1308h.01M603 1295h.01M556 1316h.01M484 1589h.01M485 1591h.01M450 1643h.01M493 1577h.01M310 1579h.01M631 1398h.01M630 1398h.01M630 1398h.01M430 1406h.01M618 1285h.01M524 1329h.01M527 1328h.01M656 1300h.01M659 1316h.01M656 1318h.01M419 1672h.01M417 1670h.01M417 1669h.01M604 1443h.01M600 1441h.01M603 1443h.01M600 1441h.01M625 1282h.01M327 1550h.01M658 1310h.01M656 1310h.01M512 1555h.01M515 1555h.01M640 1283h.01M637 1283h.01M396 1451h.01M567 1308h.01M596 1452h.01M596 1449h.01M435 1658h.01M658 1313h.01M537 1511h.01M604 1296h.01M466 1613h.01M425 1412h.01M511 1339h.01M520 1334h.01M631 1281h.01M526 1520h.01M525 1524h.01M482 1592h.01M574 1301h.01M476 1365h.01M650 1335h.01M437 1652h.01M636 1372h.01M519 1542h.01M636 1389h.01M440 1648h.01M655 1327h.01M596 1454h.01M563 1309h.01M495 1351h.01M511 1559h.01M592 1299h.01M546 1502h.01M529 1328h.01M477 1599h.01M637 1368h.01M465 1376h.01M467 1374h.01M351 1516h.01M626 1286h.01M402 1445h.01M638 1286h.01M378 1706h.01M380 1704h.01M504 1340h.01M595 1297h.01M593 1299h.01M631 1393h.01M629 1396h.01M571 1475h.01M461 1377h.01M463 1376h.01M559 1490h.01M558 1488h.01M500 1567h.01M503 1567h.01M459 1380h.01M559 1313h.01M579 1465h.01M576 1467h.01M577 1465h.01M523 1336h.01M450 1392h.01M488 1352h.01M515 1550h.01M446 1393h.01M630 1285h.01M632 1288h.01M596 1298h.01M648 1297h.01M444 1398h.01M443 1400h.01M514 1336h.01M597 1445h.01M648 1340h.01M637 1361h.01M566 1478h.01M647 1296h.01M472 1606h.01M488 1577h.01M336 1537h.01M613 1295h.01M438 1400h.01M622 1291h.01M622 1291h.01M520 1536h.01M649 1331h.01M584 1464h.01M485 1357h.01M482 1590h.01M481 1589h.01M544 1328h.01M654 1310h.01M654 1317h.01M566 1310h.01M566 1312h.01M565 1311h.01M566 1309h.01M653 1314h.01M537 1508h.01M433 1404h.01M639 1290h.01M638 1290h.01M582 1302h.01M582 1301h.01M561 1480h.01M516 1548h.01M514 1547h.01M468 1610h.01M464 1611h.01M511 1553h.01M595 1451h.01M341 1526h.01M342 1528h.01M651 1302h.01M650 1301h.01M633 1378h.01M634 1380h.01M636 1379h.01M387 1466h.01M499 1348h.01M499 1348h.01M518 1336h.01M635 1291h.01M630 1292h.01M643 1340h.01M589 1454h.01M477 1595h.01M479 1592h.01M637 1355h.01M644 1336h.01M429 1409h.01M634 1376h.01M616 1403h.01M619 1403h.01M648 1326h.01M649 1327h.01M560 1486h.01M558 1485h.01M547 1497h.01M445 1644h.01M494 1571h.01M506 1557h.01M507 1557h.01M426 1414h.01M424 1414h.01M499 1566h.01M500 1565h.01M616 1406h.01M630 1384h.01M567 1474h.01M568 1472h.01M490 1575h.01M504 1564h.01M589 1303h.01M592 1304h.01M590 1303h.01M389 1464h.01M620 1293h.01M652 1306h.01M474 1596h.01M530 1334h.01M484 1587h.01M433 1653h.01M435 1652h.01M474 1371h.01M442 1644h.01M462 1615h.01M613 1297h.01M637 1294h.01M602 1425h.01M521 1337h.01M521 1338h.01M651 1323h.01M510 1552h.01M471 1376h.01M628 1390h.01M627 1391h.01M486 1579h.01M630 1381h.01M630 1381h.01M597 1437h.01M578 1307h.01M645 1332h.01M527 1513h.01M525 1513h.01M532 1510h.01M651 1308h.01M491 1360h.01M595 1445h.01M552 1322h.01M647 1303h.01M500 1348h.01M637 1347h.01M640 1345h.01M461 1381h.01M404 1679h.01M632 1292h.01M633 1363h.01M636 1363h.01M533 1506h.01M533 1506h.01M460 1387h.01M325 1552h.01M338 1534h.01M448 1633h.01M567 1314h.01M451 1396h.01M344 1521h.01M348 1520h.01M631 1380h.01M479 1591h.01M477 1589h.01M536 1335h.01M604 1302h.01M540 1331h.01M399 1455h.01M416 1425h.01M419 1428h.01M441 1402h.01M592 1450h.01M511 1348h.01M527 1337h.01M528 1337h.01M465 1606h.01M582 1305h.01M582 1307h.01M507 1555h.01M627 1386h.01M364 1496h.01M597 1436h.01M598 1432h.01M512 1548h.01M452 1628h.01M550 1327h.01M552 1325h.01M631 1373h.01M630 1373h.01M637 1340h.01M499 1355h.01M609 1303h.01M422 1661h.01M638 1298h.01M622 1299h.01M500 1557h.01M548 1492h.01M610 1406h.01M611 1406h.01M609 1408h.01M610 1405h.01M636 1356h.01M515 1530h.01M560 1476h.01M562 1474h.01M643 1303h.01M595 1444h.01M323 1562h.01M445 1637h.01M558 1323h.01M635 1297h.01M528 1337h.01M528 1337h.01M422 1423h.01M423 1421h.01M509 1542h.01M646 1323h.01M514 1347h.01M521 1341h.01M647 1310h.01M628 1298h.01M619 1396h.01M569 1316h.01M571 1313h.01M602 1417h.01M601 1417h.01M603 1418h.01M546 1332h.01M548 1332h.01M412 1434h.01M642 1331h.01M640 1331h.01M351 1517h.01M332 1544h.01M629 1365h.01M495 1357h.01M478 1371h.01M479 1372h.01M479 1370h.01M468 1599h.01M505 1549h.01M506 1550h.01M647 1320h.01M578 1309h.01M578 1311h.01M525 1510h.01M599 1307h.01M615 1397h.01M615 1397h.01M620 1385h.01M528 1504h.01M531 1505h.01M529 1507h.01M409 1669h.01M387 1469h.01M429 1655h.01M432 1656h.01M589 1446h.01M516 1527h.01M564 1464h.01M565 1317h.01M633 1345h.01M571 1463h.01M632 1363h.01M489 1565h.01M642 1306h.01M640 1305h.01M450 1628h.01M451 1631h.01M500 1354h.01M587 1448h.01M584 1450h.01M595 1437h.01M433 1650h.01"/>
<path stroke="#0000d2" d="M437 1644h.01M494 1563h.01M342 1532h.01M625 1374h.01M527 1344h.01M612 1403h.01M472 1379h.01M512 1349h.01M637 1334h.01M642 1325h.01M520 1345h.01M520 1346h.01M543 1336h.01M456 1622h.01M466 1602h.01M497 1560h.01M553 1484h.01M575 1458h.01M561 1324h.01M562 1323h.01M582 1311h.01M355 1513h.01M357 1721h.01M633 1304h.01M634 1303h.01M458 1614h.01M458 1616h.01M611 1306h.01M548 1331h.01M550 1332h.01M506 1546h.01M412 1667h.01M478 1581h.01M460 1390h.01M641 1309h.01M551 1486h.01M389 1466h.01M448 1398h.01M417 1431h.01M544 1491h.01M642 1320h.01M332 1548h.01M614 1393h.01M612 1392h.01M596 1433h.01M638 1306h.01M613 1306h.01M556 1476h.01M636 1332h.01M580 1455h.01M521 1348h.01M486 1365h.01M488 1364h.01M487 1368h.01M642 1315h.01M617 1387h.01M618 1387h.01M643 1316h.01M512 1351h.01M505 1356h.01M445 1636h.01M511 1530h.01M631 1352h.01M631 1350h.01M417 1662h.01M544 1334h.01M592 1310h.01M485 1567h.01M484 1566h.01M616 1305h.01M395 1460h.01M396 1463h.01M501 1549h.01M576 1314h.01M578 1313h.01M623 1373h.01M593 1309h.01M562 1466h.01M562 1467h.01M633 1307h.01M635 1308h.01M635 1306h.01M633 1306h.01M585 1445h.01M636 1326h.01M521 1512h.01M523 1509h.01M484 1369h.01M482 1371h.01M597 1418h.01M381 1476h.01M568 1456h.01M624 1362h.01M627 1363h.01M555 1331h.01M554 1331h.01M554 1331h.01M495 1559h.01M423 1426h.01M638 1311h.01M596 1309h.01M632 1346h.01M481 1568h.01M481 1571h.01M500 1554h.01M533 1340h.01M517 1512h.01M520 1512h.01M421 1658h.01M494 1364h.01M628 1307h.01M629 1305h.01M630 1307h.01M398 1680h.01M400 1680h.01M325 1557h.01M325 1559h.01M453 1620h.01M543 1337h.01M542 1337h.01M396 1460h.01M639 1324h.01M638 1323h.01M623 1370h.01M536 1498h.01M624 1357h.01M558 1469h.01M501 1360h.01M574 1455h.01M573 1454h.01M581 1315h.01M636 1318h.01M619 1377h.01M619 1376h.01M551 1483h.01M632 1329h.01M612 1386h.01M551 1336h.01M549 1334h.01M476 1377h.01M632 1309h.01M501 1545h.01M598 1412h.01M531 1346h.01M532 1347h.01M613 1312h.01M615 1310h.01M430 1650h.01M543 1489h.01M541 1489h.01M543 1488h.01M627 1354h.01M626 1355h.01M628 1352h.01M479 1576h.01M621 1364h.01M621 1367h.01M435 1645h.01M539 1343h.01M537 1343h.01M507 1536h.01M505 1534h.01M484 1562h.01M605 1397h.01M401 1452h.01M585 1314h.01M587 1312h.01M586 1314h.01M588 1314h.01M472 1590h.01M616 1308h.01M617 1310h.01M619 1310h.01M618 1311h.01M579 1449h.01M578 1449h.01M473 1584h.01M474 1584h.01M631 1310h.01M631 1311h.01M614 1382h.01M615 1380h.01M490 1558h.01M608 1392h.01M610 1392h.01M610 1389h.01M461 1601h.01M515 1355h.01M515 1355h.01M514 1353h.01M567 1458h.01M626 1349h.01M624 1352h.01M633 1312h.01M498 1551h.01M463 1391h.01M627 1309h.01M626 1311h.01M548 1338h.01M632 1333h.01M495 1556h.01M582 1445h.01M635 1322h.01M634 1320h.01M459 1394h.01M620 1364h.01M623 1364h.01M633 1319h.01M509 1524h.01M565 1327h.01M568 1327h.01M496 1361h.01M535 1345h.01M532 1347h.01M598 1408h.01M598 1408h.01M450 1402h.01M625 1347h.01M625 1346h.01M594 1315h.01M594 1314h.01M601 1402h.01M603 1404h.01M557 1465h.01M616 1370h.01M568 1453h.01M571 1454h.01M570 1453h.01M571 1452h.01M508 1529h.01M507 1532h.01M505 1531h.01M507 1531h.01M370 1497h.01M597 1315h.01M451 1623h.01M487 1371h.01M487 1369h.01M607 1392h.01M607 1395h.01M608 1385h.01M631 1316h.01M628 1314h.01M630 1315h.01M629 1313h.01M603 1315h.01M407 1449h.01M477 1571h.01M518 1509h.01M520 1510h.01M455 1612h.01M605 1315h.01M519 1356h.01M528 1504h.01M623 1357h.01M620 1357h.01M624 1341h.01M624 1344h.01M624 1343h.01M625 1342h.01M549 1478h.01M610 1316h.01M573 1320h.01M441 1409h.01M475 1577h.01M475 1577h.01M581 1317h.01M581 1319h.01M592 1430h.01M631 1319h.01M530 1349h.01M529 1350h.01M458 1606h.01M620 1313h.01M623 1313h.01M622 1314h.01M628 1336h.01M611 1380h.01M440 1634h.01M442 1635h.01M444 1633h.01M599 1404h.01M620 1353h.01M587 1438h.01M603 1399h.01M606 1390h.01M547 1481h.01M437 1416h.01M507 1525h.01M494 1367h.01M419 1657h.01M493 1551h.01M495 1550h.01M494 1550h.01M558 1332h.01M560 1332h.01M624 1348h.01M480 1378h.01M477 1378h.01M617 1363h.01M590 1427h.01M592 1425h.01M627 1330h.01M625 1330h.01M581 1442h.01M583 1443h.01M611 1380h.01M610 1380h.01M329 1556h.01M329 1554h.01M614 1371h.01M435 1416h.01M479 1567h.01M461 1599h.01M625 1323h.01M545 1343h.01M625 1326h.01M624 1327h.01M621 1319h.01M589 1316h.01M602 1394h.01M604 1393h.01M474 1574h.01M427 1428h.01M427 1426h.01M473 1381h.01M599 1404h.01M396 1466h.01M394 1468h.01M565 1331h.01M566 1330h.01M430 1422h.01M429 1422h.01M593 1318h.01M377 1698h.01M378 1700h.01M549 1475h.01M551 1474h.01M551 1475h.01M613 1317h.01M614 1317h.01M425 1652h.01M426 1650h.01M595 1410h.01M595 1409h.01M605 1319h.01M608 1317h.01M601 1317h.01M601 1316h.01M602 1320h.01M616 1359h.01M586 1433h.01M585 1433h.01M586 1433h.01M591 1422h.01M572 1449h.01M556 1340h.01M552 1339h.01M429 1645h.01M431 1648h.01M452 1617h.01M449 1617h.01M611 1374h.01M621 1323h.01M614 1368h.01M469 1580h.01M454 1609h.01M452 1611h.01M456 1609h.01M467 1390h.01M600 1389h.01M602 1388h.01M507 1522h.01M504 1521h.01M580 1323h.01M337 1543h.01M620 1326h.01M621 1326h.01M358 1512h.01M563 1334h.01M462 1394h.01M463 1394h.01M463 1395h.01M480 1558h.01M538 1351h.01M619 1320h.01M619 1322h.01M399 1461h.01M594 1407h.01M487 1554h.01M589 1419h.01M460 1396h.01M457 1397h.01M545 1478h.01M492 1546h.01M492 1546h.01M527 1497h.01M498 1364h.01M477 1562h.01M601 1387h.01M373 1700h.01M491 1551h.01M455 1403h.01M453 1402h.01M582 1436h.01M583 1438h.01M612 1323h.01M615 1322h.01M614 1323h.01M619 1349h.01M587 1431h.01"/>
<path stroke="#0000e2" d="M497 1536h.01M496 1538h.01M498 1536h.01M498 1537h.01M600 1393h.01M486 1374h.01M484 1375h.01M450 1404h.01M580 1443h.01M511 1513h.01M542 1481h.01M579 1327h.01M349 1726h.01M349 1728h.01M533 1492h.01M533 1489h.01M532 1352h.01M532 1355h.01M550 1471h.01M546 1347h.01M590 1413h.01M590 1413h.01M556 1336h.01M379 1492h.01M592 1401h.01M594 1402h.01M595 1403h.01M595 1401h.01M537 1487h.01M591 1323h.01M617 1330h.01M619 1331h.01M369 1706h.01M369 1707h.01M446 1410h.01M448 1409h.01M617 1342h.01M620 1343h.01M608 1372h.01M359 1719h.01M460 1592h.01M604 1323h.01M602 1322h.01M616 1332h.01M617 1336h.01M617 1337h.01M594 1321h.01M595 1323h.01M403 1457h.01M597 1388h.01M598 1392h.01M600 1390h.01M611 1366h.01M599 1323h.01M598 1321h.01M503 1525h.01M401 1670h.01M586 1426h.01M584 1426h.01M542 1349h.01M541 1349h.01M527 1360h.01M524 1359h.01M504 1518h.01M505 1520h.01M507 1519h.01M588 1412h.01M473 1565h.01M595 1398h.01M595 1400h.01M440 1412h.01M575 1331h.01M575 1328h.01M405 1664h.01M315 1582h.01M582 1327h.01M583 1328h.01M495 1541h.01M555 1344h.01M554 1341h.01M596 1387h.01M448 1614h.01M580 1434h.01M581 1434h.01M608 1326h.01M492 1372h.01M479 1382h.01M608 1369h.01M606 1371h.01M613 1331h.01M539 1352h.01M438 1635h.01M503 1367h.01M547 1472h.01M588 1420h.01M528 1356h.01M591 1405h.01M303 1603h.01M515 1362h.01M512 1362h.01M485 1552h.01M488 1546h.01M492 1545h.01M489 1546h.01M604 1326h.01M605 1327h.01M604 1327h.01M613 1332h.01M475 1384h.01M473 1386h.01M413 1658h.01M422 1436h.01M423 1435h.01M407 1455h.01M598 1381h.01M551 1465h.01M574 1444h.01M572 1441h.01M613 1348h.01M604 1375h.01M615 1343h.01M559 1454h.01M557 1455h.01M351 1525h.01M418 1652h.01M595 1389h.01M502 1521h.01M504 1523h.01M501 1522h.01M611 1328h.01M609 1331h.01M586 1419h.01M587 1416h.01M589 1400h.01M388 1685h.01M578 1329h.01M578 1328h.01M433 1639h.01M590 1325h.01M607 1365h.01M342 1538h.01M499 1530h.01M545 1350h.01M520 1499h.01M521 1499h.01M321 1571h.01M324 1571h.01M593 1324h.01M552 1456h.01M552 1457h.01M542 1477h.01M544 1480h.01M581 1431h.01M427 1429h.01M382 1485h.01M383 1487h.01M509 1509h.01M511 1510h.01M472 1563h.01M431 1642h.01M596 1377h.01M467 1394h.01M464 1396h.01M596 1385h.01M595 1385h.01M559 1342h.01M557 1341h.01M587 1415h.01M586 1412h.01M608 1332h.01M461 1590h.01M463 1591h.01M460 1590h.01M464 1589h.01M462 1591h.01M461 1592h.01M530 1489h.01M529 1489h.01M611 1354h.01M610 1355h.01M602 1372h.01M567 1446h.01M565 1446h.01M536 1483h.01M539 1484h.01M534 1488h.01M536 1484h.01M521 1361h.01M522 1364h.01M580 1329h.01M504 1514h.01M505 1514h.01M468 1571h.01M472 1569h.01M443 1624h.01M444 1625h.01M441 1627h.01M590 1394h.01M605 1361h.01M576 1333h.01M609 1338h.01M610 1340h.01M611 1349h.01M544 1472h.01M600 1331h.01M457 1403h.01M609 1341h.01M611 1341h.01M608 1342h.01M609 1343h.01M611 1346h.01M538 1359h.01M549 1461h.01M552 1463h.01M590 1390h.01M579 1433h.01M578 1435h.01M492 1542h.01M527 1364h.01M525 1361h.01M485 1380h.01M485 1379h.01M570 1441h.01M585 1404h.01M447 1617h.01M586 1329h.01M585 1332h.01M585 1330h.01M605 1334h.01M500 1526h.01M599 1331h.01M597 1330h.01M483 1552h.01M482 1551h.01M480 1550h.01M483 1548h.01M602 1366h.01M600 1365h.01M607 1357h.01M606 1357h.01M590 1329h.01M590 1331h.01M596 1329h.01M502 1517h.01M494 1535h.01M455 1603h.01M595 1378h.01M595 1376h.01M591 1385h.01M588 1384h.01M583 1422h.01M583 1421h.01M580 1336h.01M580 1334h.01M578 1334h.01M578 1334h.01M578 1335h.01M450 1410h.01M449 1409h.01M570 1340h.01M605 1338h.01M557 1450h.01M558 1452h.01M311 1589h.01M511 1367h.01M509 1366h.01M510 1365h.01M510 1366h.01M585 1398h.01M481 1381h.01M480 1380h.01M547 1355h.01M599 1369h.01M598 1368h.01M604 1353h.01M543 1475h.01M543 1475h.01M581 1417h.01M580 1419h.01M584 1418h.01M607 1343h.01M605 1343h.01M560 1445h.01M592 1380h.01M458 1594h.01M602 1363h.01M602 1363h.01M602 1362h.01M400 1468h.01M397 1464h.01M440 1631h.01M440 1629h.01M386 1483h.01M605 1349h.01M606 1350h.01M535 1361h.01M536 1363h.01M579 1429h.01M608 1345h.01M584 1333h.01M583 1333h.01M584 1332h.01M581 1335h.01M596 1373h.01M595 1374h.01M598 1336h.01M599 1336h.01M545 1467h.01M583 1413h.01M581 1416h.01M588 1390h.01M461 1586h.01M463 1587h.01M460 1586h.01M558 1345h.01M557 1345h.01M496 1522h.01M515 1368h.01M516 1500h.01M587 1333h.01M517 1497h.01M583 1410h.01M492 1529h.01M598 1365h.01M539 1480h.01M537 1477h.01M538 1476h.01M604 1360h.01M601 1357h.01M502 1371h.01M520 1492h.01M378 1494h.01M585 1387h.01M583 1405h.01M582 1407h.01M576 1432h.01M575 1435h.01M573 1434h.01M573 1432h.01M574 1435h.01M443 1419h.01M537 1363h.01M538 1362h.01M536 1363h.01M553 1349h.01M602 1342h.01M601 1343h.01M570 1436h.01M568 1436h.01M570 1439h.01M569 1439h.01M534 1481h.01M531 1484h.01M531 1485h.01M584 1402h.01M465 1575h.01M467 1574h.01M468 1575h.01M359 1516h.01M359 1518h.01M434 1636h.01M435 1634h.01M434 1632h.01M602 1354h.01M603 1354h.01M519 1367h.01M485 1543h.01M470 1560h.01M472 1562h.01M581 1397h.01M581 1397h.01M440 1621h.01M444 1620h.01M441 1620h.01M552 1353h.01M550 1355h.01M548 1354h.01M603 1346h.01M603 1348h.01M576 1336h.01M578 1338h.01M484 1546h.01M483 1548h.01M478 1550h.01M504 1512h.01M500 1513h.01M599 1363h.01M597 1364h.01M581 1395h.01M583 1392h.01M451 1605h.01M452 1606h.01M595 1338h.01M562 1344h.01M431 1639h.01M555 1449h.01M581 1391h.01M580 1391h.01M582 1340h.01M408 1659h.01M599 1342h.01M547 1463h.01M545 1462h.01M544 1461h.01M524 1365h.01M526 1364h.01M404 1662h.01M424 1641h.01M428 1643h.01M494 1524h.01M392 1477h.01M586 1340h.01M584 1338h.01M541 1364h.01M491 1534h.01M579 1416h.01M577 1419h.01M403 1667h.01M587 1379h.01M529 1367h.01M573 1429h.01M576 1431h.01M573 1429h.01M572 1430h.01M580 1385h.01M504 1370h.01M461 1401h.01M499 1519h.01M552 1456h.01M400 1670h.01M397 1671h.01M398 1671h.01M579 1413h.01M464 1568h.01M467 1571h.01M458 1590h.01M599 1354h.01M598 1355h.01M433 1427h.01M558 1350h.01M558 1349h.01M600 1348h.01M597 1351h.01M599 1350h.01M594 1342h.01M565 1436h.01M498 1374h.01M499 1374h.01M429 1429h.01M430 1429h.01M579 1402h.01M537 1472h.01M538 1472h.01M395 1675h.01M392 1672h.01M596 1363h.01M593 1364h.01M594 1364h.01M459 1408h.01M566 1344h.01M582 1381h.01M382 1489h.01"/>
<path stroke="#0000f1" d="M553 1354h.01M592 1341h.01M588 1342h.01M365 1510h.01M580 1341h.01M584 1373h.01M585 1375h.01M549 1358h.01M551 1357h.01M549 1357h.01M575 1426h.01M488 1539h.01M483 1385h.01M437 1625h.01M585 1341h.01M594 1357h.01M592 1359h.01M540 1467h.01M543 1465h.01M592 1366h.01M588 1367h.01M454 1411h.01M533 1477h.01M546 1460h.01M336 1552h.01M334 1556h.01M593 1351h.01M594 1351h.01M594 1351h.01M515 1498h.01M511 1502h.01M512 1504h.01M518 1494h.01M519 1495h.01M516 1494h.01M583 1378h.01M507 1507h.01M480 1390h.01M477 1388h.01M479 1391h.01M521 1490h.01M523 1492h.01M524 1491h.01M522 1491h.01M520 1491h.01M465 1565h.01M465 1568h.01M570 1347h.01M529 1481h.01M526 1485h.01M563 1351h.01M592 1348h.01M591 1344h.01M369 1505h.01M341 1540h.01M554 1444h.01M501 1510h.01M463 1578h.01M462 1576h.01M443 1617h.01M443 1617h.01M570 1430h.01M557 1443h.01M558 1442h.01M560 1442h.01M556 1441h.01M591 1363h.01M591 1364h.01M574 1420h.01M575 1418h.01M574 1418h.01M551 1451h.01M548 1451h.01M496 1378h.01M576 1347h.01M572 1347h.01M572 1345h.01M472 1392h.01M585 1345h.01M315 1587h.01M562 1436h.01M574 1413h.01M574 1414h.01M556 1355h.01M558 1354h.01M367 1705h.01M366 1706h.01M366 1704h.01M499 1515h.01M580 1375h.01M580 1374h.01M580 1376h.01M581 1374h.01M589 1360h.01M591 1358h.01M576 1408h.01M573 1407h.01M573 1402h.01M584 1344h.01M578 1345h.01M579 1346h.01M578 1346h.01M579 1347h.01M573 1397h.01M363 1708h.01M361 1710h.01M504 1373h.01M504 1373h.01M503 1374h.01M501 1376h.01M575 1393h.01M540 1471h.01M588 1365h.01M587 1366h.01M519 1370h.01M518 1369h.01M567 1351h.01M485 1534h.01M488 1536h.01M485 1532h.01M356 1714h.01M574 1391h.01M575 1389h.01M471 1398h.01M470 1555h.01M521 1371h.01M522 1371h.01M522 1371h.01M448 1420h.01M569 1428h.01M490 1526h.01M531 1370h.01M524 1369h.01M545 1364h.01M577 1377h.01M323 1573h.01M386 1485h.01M388 1484h.01M387 1487h.01M465 1562h.01M547 1455h.01M304 1606h.01M345 1728h.01M574 1385h.01M584 1363h.01M398 1472h.01M462 1574h.01M461 1574h.01M571 1351h.01M588 1352h.01M564 1355h.01M562 1355h.01M563 1356h.01M562 1355h.01M561 1353h.01M569 1423h.01M534 1474h.01M482 1539h.01M480 1538h.01M482 1539h.01M482 1538h.01M573 1351h.01M574 1352h.01M578 1351h.01M572 1382h.01M575 1382h.01M543 1369h.01M443 1424h.01M441 1421h.01M559 1360h.01M559 1358h.01M559 1359h.01M583 1368h.01M485 1385h.01M556 1437h.01M559 1438h.01M564 1432h.01M561 1433h.01M563 1434h.01M355 1526h.01M551 1365h.01M551 1445h.01M583 1355h.01M582 1355h.01M582 1356h.01M582 1354h.01M570 1412h.01M422 1641h.01M479 1544h.01M440 1623h.01M569 1402h.01M568 1403h.01M571 1401h.01M418 1647h.01M570 1408h.01M571 1392h.01M569 1395h.01M569 1392h.01M565 1354h.01M462 1406h.01M461 1405h.01M461 1406h.01M528 1481h.01M527 1483h.01M574 1377h.01M537 1464h.01M540 1467h.01M540 1465h.01M570 1391h.01M582 1358h.01M521 1485h.01M523 1487h.01M445 1605h.01M499 1377h.01M497 1377h.01M482 1390h.01M481 1391h.01M489 1523h.01M507 1503h.01M545 1369h.01M548 1370h.01M546 1370h.01M420 1448h.01M501 1508h.01M504 1504h.01M501 1506h.01M449 1596h.01M449 1598h.01M456 1583h.01M457 1582h.01M459 1584h.01M577 1353h.01M567 1427h.01M566 1425h.01M466 1558h.01M570 1386h.01M571 1388h.01M410 1653h.01M412 1655h.01M290 1732h.01M547 1449h.01M439 1428h.01M437 1426h.01M438 1428h.01M438 1426h.01M453 1590h.01M574 1356h.01M564 1358h.01M575 1375h.01M579 1365h.01M577 1364h.01M576 1364h.01M577 1364h.01M390 1484h.01M391 1480h.01M571 1383h.01M346 1537h.01M457 1409h.01M559 1363h.01M576 1358h.01M578 1358h.01M579 1360h.01M554 1368h.01M552 1366h.01M554 1367h.01M337 1549h.01M405 1658h.01M509 1375h.01M510 1373h.01M577 1363h.01M576 1361h.01M567 1420h.01M564 1422h.01M549 1371h.01M563 1432h.01M564 1430h.01M539 1374h.01M571 1376h.01M533 1469h.01M567 1359h.01M565 1359h.01M574 1371h.01M541 1372h.01M483 1536h.01M484 1535h.01M574 1357h.01M572 1360h.01M557 1435h.01M558 1435h.01M557 1436h.01M566 1419h.01M532 1375h.01M528 1373h.01M492 1381h.01M555 1437h.01M567 1392h.01M571 1356h.01M570 1357h.01M473 1397h.01M475 1397h.01M473 1397h.01M566 1391h.01M566 1397h.01M430 1436h.01M431 1435h.01M462 1565h.01M568 1401h.01M565 1415h.01M402 1660h.01M401 1663h.01M434 1628h.01M455 1414h.01M567 1387h.01M567 1388h.01M565 1387h.01M540 1455h.01M512 1374h.01M358 1521h.01M545 1372h.01M545 1374h.01M487 1527h.01M485 1527h.01M484 1525h.01M564 1361h.01M562 1361h.01M566 1408h.01M550 1444h.01M573 1360h.01M575 1364h.01M565 1409h.01M564 1411h.01M527 1374h.01M524 1375h.01M527 1373h.01M552 1369h.01M521 1376h.01M518 1372h.01M490 1519h.01M489 1518h.01M459 1576h.01M381 1494h.01M382 1495h.01M529 1472h.01M530 1475h.01M572 1361h.01M568 1363h.01M567 1364h.01M567 1362h.01M568 1361h.01M500 1379h.01M569 1371h.01M571 1370h.01M571 1371h.01M548 1373h.01M548 1373h.01M550 1375h.01M564 1380h.01M546 1447h.01M571 1365h.01M490 1387h.01M489 1387h.01M490 1385h.01M465 1555h.01M563 1366h.01M561 1367h.01M563 1367h.01M469 1401h.01M471 1400h.01M558 1370h.01M398 1665h.01M397 1665h.01M566 1375h.01M567 1373h.01M566 1366h.01M568 1368h.01M564 1366h.01M556 1373h.01M567 1371h.01M565 1371h.01M446 1603h.01M447 1603h.01M474 1542h.01M472 1543h.01M439 1618h.01M437 1617h.01M558 1431h.01M523 1483h.01M523 1481h.01M562 1421h.01M560 1386h.01M561 1388h.01M440 1610h.01M561 1390h.01M560 1380h.01M335 1734h.01M336 1734h.01M562 1374h.01M563 1373h.01M564 1375h.01M563 1373h.01M558 1375h.01M558 1374h.01M430 1630h.01M485 1389h.01M564 1395h.01M516 1490h.01M535 1465h.01M536 1465h.01M536 1467h.01M509 1493h.01M561 1397h.01M504 1498h.01M506 1500h.01M481 1530h.01M481 1532h.01M551 1379h.01M550 1377h.01M501 1502h.01M500 1502h.01M555 1434h.01M555 1433h.01M555 1435h.01M558 1380h.01M558 1379h.01M496 1507h.01M538 1378h.01M538 1379h.01M539 1378h.01M537 1378h.01M540 1378h.01M541 1450h.01M562 1403h.01M561 1402h.01M465 1405h.01M472 1544h.01M471 1546h.01M471 1546h.01M470 1544h.01M558 1381h.01M559 1384h.01M560 1381h.01M559 1383h.01M560 1381h.01M563 1414h.01M562 1413h.01M561 1404h.01M563 1405h.01M564 1406h.01M493 1509h.01M494 1508h.01M482 1394h.01M426 1635h.01M411 1460h.01M411 1460h.01M505 1378h.01M506 1378h.01M560 1386h.01M499 1384h.01M500 1381h.01"/>
<path stroke="#0000ff" d="M557 1428h.01M365 1516h.01M350 1535h.01M559 1390h.01M422 1639h.01M388 1490h.01M384 1491h.01M549 1384h.01M489 1515h.01M488 1515h.01M529 1468h.01M478 1398h.01M478 1398h.01M480 1398h.01M480 1399h.01M476 1398h.01M476 1398h.01M479 1398h.01M417 1641h.01M397 1473h.01M399 1473h.01M557 1394h.01M558 1393h.01M546 1384h.01M479 1535h.01M478 1536h.01M477 1534h.01M478 1534h.01M477 1536h.01M478 1536h.01M554 1384h.01M553 1387h.01M342 1547h.01M341 1544h.01M373 1696h.01M559 1420h.01M559 1422h.01M555 1428h.01M552 1430h.01M416 1646h.01M415 1645h.01M412 1645h.01M413 1644h.01M415 1646h.01M465 1549h.01M467 1551h.01M464 1559h.01M462 1556h.01M559 1398h.01M560 1397h.01M558 1400h.01M525 1379h.01M526 1377h.01M526 1377h.01M509 1378h.01M510 1377h.01M538 1454h.01M539 1455h.01M539 1455h.01M534 1463h.01M534 1462h.01M533 1462h.01M534 1463h.01M492 1387h.01M493 1384h.01M526 1473h.01M435 1621h.01M435 1622h.01M433 1621h.01M441 1424h.01M482 1525h.01M550 1385h.01M550 1387h.01M556 1402h.01M557 1417h.01M551 1432h.01M551 1432h.01M536 1383h.01M539 1384h.01M540 1380h.01M520 1377h.01M524 1377h.01M559 1405h.01M557 1406h.01M559 1406h.01M474 1402h.01M476 1403h.01M520 1478h.01M523 1480h.01M513 1379h.01M513 1376h.01M373 1505h.01M557 1408h.01M559 1409h.01M558 1408h.01M458 1412h.01M456 1415h.01M554 1393h.01M554 1395h.01M518 1482h.01M520 1484h.01M517 1483h.01M545 1385h.01M545 1387h.01M553 1424h.01M500 1382h.01M502 1383h.01M503 1384h.01M548 1439h.01M544 1438h.01M546 1439h.01M513 1484h.01M515 1486h.01M552 1389h.01M532 1382h.01M535 1382h.01M510 1490h.01M508 1490h.01M508 1491h.01M401 1470h.01M389 1485h.01M532 1467h.01M555 1396h.01M485 1395h.01M505 1495h.01M507 1492h.01M505 1495h.01M468 1543h.01M471 1543h.01M420 1448h.01M498 1501h.01M498 1502h.01M460 1564h.01M458 1567h.01M542 1387h.01M386 1679h.01M387 1680h.01M385 1677h.01M534 1460h.01M536 1456h.01M534 1459h.01M472 1405h.01M471 1408h.01M554 1423h.01M376 1501h.01M477 1531h.01M476 1529h.01M480 1531h.01M478 1528h.01M552 1429h.01M556 1401h.01M554 1403h.01M454 1577h.01M453 1580h.01M461 1554h.01M462 1555h.01M529 1381h.01M544 1389h.01M434 1433h.01M436 1436h.01M482 1397h.01M482 1398h.01M483 1521h.01M481 1520h.01M554 1419h.01M423 1447h.01M424 1446h.01M422 1448h.01M323 1577h.01M539 1388h.01M536 1386h.01M537 1386h.01M538 1384h.01M498 1387h.01M498 1385h.01M553 1414h.01M552 1409h.01M554 1412h.01M337 1732h.01M340 1729h.01M506 1383h.01M425 1441h.01M426 1443h.01M465 1547h.01M546 1433h.01M546 1433h.01M546 1434h.01M402 1660h.01M450 1588h.01M527 1383h.01M486 1512h.01M485 1513h.01M425 1629h.01M428 1630h.01M551 1427h.01M551 1427h.01M331 1568h.01M446 1595h.01M445 1592h.01M446 1592h.01M447 1595h.01M522 1475h.01M521 1473h.01M458 1561h.01M466 1410h.01M465 1408h.01M468 1410h.01M543 1388h.01M442 1601h.01M440 1603h.01M440 1601h.01M362 1707h.01M361 1708h.01M360 1705h.01M362 1707h.01M545 1394h.01M547 1393h.01M548 1394h.01M537 1444h.01M530 1460h.01M435 1618h.01M535 1456h.01M533 1453h.01M396 1483h.01M392 1483h.01M534 1384h.01M535 1387h.01M534 1385h.01M551 1400h.01M550 1404h.01M453 1575h.01M454 1574h.01M454 1576h.01M541 1438h.01M420 1636h.01M423 1636h.01M420 1634h.01M512 1380h.01M521 1381h.01M339 1552h.01M339 1553h.01M337 1552h.01M513 1483h.01M515 1482h.01M479 1525h.01M544 1428h.01M545 1431h.01M549 1405h.01M551 1405h.01M548 1405h.01M517 1384h.01M519 1382h.01M517 1381h.01M513 1382h.01M397 1661h.01M548 1399h.01M469 1540h.01M470 1540h.01M549 1409h.01M550 1411h.01M552 1411h.01M501 1384h.01M502 1387h.01M503 1386h.01M551 1414h.01M551 1416h.01M529 1388h.01M526 1466h.01M525 1466h.01M474 1405h.01M499 1499h.01M500 1497h.01M485 1399h.01M485 1400h.01M487 1398h.01M296 1618h.01M447 1425h.01M493 1500h.01M493 1504h.01M494 1502h.01M537 1443h.01M539 1443h.01M537 1440h.01M537 1442h.01M532 1450h.01M450 1583h.01M449 1583h.01M451 1584h.01M452 1580h.01M450 1582h.01M411 1461h.01M490 1506h.01M453 1569h.01M540 1435h.01M545 1426h.01M544 1403h.01M397 1478h.01M399 1477h.01M397 1478h.01M399 1478h.01M351 1716h.01M412 1648h.01M410 1646h.01M412 1646h.01M431 1624h.01M428 1622h.01M524 1385h.01M467 1541h.01M344 1723h.01M345 1722h.01M486 1510h.01M483 1404h.01M442 1598h.01M440 1598h.01M442 1599h.01M472 1528h.01M543 1396h.01M537 1394h.01M545 1406h.01M544 1422h.01M548 1422h.01M506 1387h.01M507 1388h.01M504 1387h.01M506 1384h.01M518 1474h.01M437 1606h.01M441 1431h.01M442 1429h.01M433 1616h.01M435 1614h.01M432 1612h.01M432 1612h.01"/>
<path stroke="#0014ff" d="M478 1524h.01M476 1520h.01M478 1520h.01M545 1412h.01M546 1411h.01M544 1416h.01M546 1417h.01M538 1439h.01M541 1428h.01M541 1431h.01M533 1446h.01M533 1447h.01M535 1444h.01M514 1479h.01M513 1479h.01M544 1415h.01M547 1414h.01M545 1413h.01M525 1464h.01M453 1564h.01M454 1565h.01M523 1386h.01M522 1385h.01M521 1385h.01M523 1386h.01M413 1459h.01M412 1459h.01M406 1649h.01M406 1652h.01M405 1650h.01M329 1734h.01M529 1391h.01M532 1456h.01M530 1453h.01M450 1578h.01M452 1577h.01M542 1402h.01M544 1401h.01M509 1480h.01M428 1628h.01M482 1515h.01M508 1385h.01M511 1385h.01M326 1575h.01M457 1554h.01M476 1407h.01M489 1399h.01M489 1396h.01M488 1397h.01M489 1398h.01M402 1473h.01M400 1475h.01M364 1517h.01M366 1520h.01M367 1517h.01M365 1517h.01M519 1385h.01M519 1384h.01M519 1386h.01M536 1394h.01M471 1534h.01M468 1535h.01M471 1534h.01M537 1398h.01M539 1398h.01M536 1398h.01M437 1436h.01M504 1485h.01M506 1487h.01M391 1491h.01M390 1491h.01M460 1547h.01M513 1385h.01M512 1385h.01M542 1424h.01M543 1428h.01M542 1425h.01M455 1421h.01M455 1421h.01M456 1423h.01M501 1390h.01M501 1389h.01M503 1488h.01M502 1488h.01M500 1491h.01M542 1405h.01M540 1407h.01M540 1406h.01M465 1414h.01M538 1433h.01M538 1434h.01M497 1496h.01M497 1493h.01M419 1454h.01M418 1455h.01M418 1452h.01M418 1455h.01M484 1400h.01M485 1401h.01M536 1442h.01M524 1392h.01M526 1388h.01M493 1497h.01M494 1500h.01M493 1499h.01M493 1497h.01M453 1562h.01M541 1423h.01M540 1421h.01M542 1423h.01M541 1421h.01M441 1593h.01M489 1504h.01M433 1439h.01M433 1439h.01M475 1527h.01M475 1525h.01M472 1526h.01M376 1512h.01M375 1510h.01M528 1450h.01M530 1448h.01M531 1450h.01M543 1412h.01M526 1460h.01M403 1652h.01M449 1576h.01M450 1576h.01M450 1572h.01M497 1393h.01M497 1395h.01M539 1401h.01M439 1602h.01M439 1601h.01M438 1602h.01M417 1632h.01M419 1633h.01M416 1633h.01M543 1415h.01M541 1412h.01M430 1617h.01M429 1620h.01M530 1393h.01M474 1411h.01M472 1408h.01M422 1448h.01M486 1506h.01M487 1505h.01M465 1539h.01M465 1536h.01M428 1440h.01M432 1442h.01M431 1440h.01M436 1611h.01M432 1612h.01M436 1609h.01M435 1610h.01M507 1390h.01M507 1389h.01M507 1390h.01M536 1429h.01M537 1429h.01M425 1447h.01M427 1444h.01M513 1474h.01M379 1507h.01M377 1508h.01M407 1470h.01M451 1424h.01M523 1389h.01M494 1398h.01M493 1397h.01M493 1398h.01M414 1639h.01M480 1406h.01M482 1407h.01M535 1437h.01M461 1417h.01M509 1478h.01M511 1479h.01M512 1477h.01M511 1478h.01M512 1478h.01M539 1404h.01M458 1549h.01M522 1461h.01M483 1511h.01M482 1511h.01M531 1448h.01M447 1583h.01M447 1582h.01M519 1392h.01M511 1391h.01M510 1391h.01M508 1388h.01M536 1424h.01M451 1571h.01M451 1569h.01M451 1572h.01M491 1401h.01M488 1402h.01M490 1403h.01M504 1480h.01M527 1394h.01M455 1556h.01M455 1558h.01M514 1391h.01M472 1528h.01M527 1454h.01M526 1455h.01M528 1454h.01M307 1607h.01M410 1644h.01M408 1644h.01M382 1504h.01M383 1503h.01M535 1404h.01M536 1404h.01M536 1402h.01M532 1401h.01M533 1402h.01M502 1394h.01M501 1395h.01M502 1393h.01M502 1395h.01M537 1410h.01M537 1409h.01M539 1408h.01M537 1410h.01M531 1400h.01M531 1397h.01M500 1484h.01M501 1488h.01M442 1591h.01M443 1588h.01M443 1592h.01M399 1660h.01M427 1624h.01M426 1623h.01M470 1413h.01M470 1414h.01M534 1434h.01M535 1435h.01M447 1430h.01M519 1466h.01M519 1464h.01M516 1465h.01M540 1417h.01M538 1420h.01M498 1492h.01M499 1488h.01M500 1488h.01M368 1694h.01M369 1695h.01M411 1465h.01M439 1600h.01M440 1598h.01M437 1598h.01M438 1599h.01M438 1599h.01M400 1483h.01M499 1398h.01M486 1407h.01M529 1442h.01M529 1441h.01M457 1422h.01M521 1394h.01M522 1396h.01M477 1515h.01M480 1513h.01M535 1405h.01M535 1407h.01M534 1405h.01M515 1471h.01M513 1471h.01M346 1547h.01M488 1499h.01M508 1393h.01M449 1566h.01M448 1567h.01M449 1566h.01M451 1568h.01M404 1646h.01M407 1644h.01M407 1648h.01M404 1647h.01M406 1645h.01M445 1576h.01M535 1430h.01M522 1460h.01M523 1456h.01M523 1458h.01M522 1459h.01M387 1499h.01M321 1582h.01M495 1403h.01M526 1399h.01M524 1400h.01M528 1400h.01M484 1502h.01M511 1474h.01M518 1395h.01M517 1395h.01M519 1393h.01M517 1393h.01M442 1435h.01M535 1409h.01M532 1412h.01M535 1410h.01M510 1392h.01M509 1395h.01M339 1558h.01M338 1558h.01M383 1677h.01M455 1554h.01M455 1554h.01M533 1426h.01M515 1396h.01M513 1394h.01M516 1395h.01M468 1418h.01M464 1416h.01M468 1419h.01M468 1418h.01M465 1420h.01M505 1480h.01M442 1585h.01M500 1397h.01M503 1396h.01M414 1461h.01M481 1412h.01M403 1477h.01M404 1478h.01M419 1630h.01M420 1631h.01M483 1506h.01M519 1460h.01M520 1464h.01M535 1423h.01M536 1423h.01M470 1527h.01M476 1414h.01M474 1414h.01M334 1731h.01M392 1663h.01M453 1427h.01M455 1425h.01"/>
<path stroke="#0026ff" d="M534 1418h.01M534 1418h.01M533 1418h.01M526 1445h.01M526 1445h.01M503 1481h.01M500 1481h.01M500 1483h.01M501 1484h.01M528 1407h.01M446 1574h.01M447 1572h.01M451 1562h.01M451 1563h.01M449 1561h.01M391 1495h.01M391 1495h.01M438 1440h.01M440 1440h.01M438 1440h.01M522 1454h.01M473 1519h.01M476 1516h.01M526 1401h.01M525 1403h.01M530 1435h.01M530 1433h.01M499 1403h.01M416 1633h.01M415 1632h.01M499 1485h.01M497 1487h.01M514 1467h.01M507 1398h.01M507 1398h.01M505 1398h.01M505 1399h.01M506 1399h.01M432 1601h.01M517 1397h.01M516 1399h.01M518 1400h.01M520 1399h.01M494 1492h.01M492 1490h.01M529 1410h.01M363 1525h.01M524 1442h.01M525 1443h.01M525 1441h.01M528 1431h.01M434 1443h.01M435 1441h.01M511 1399h.01M511 1398h.01M486 1409h.01M485 1409h.01M484 1408h.01M325 1733h.01M324 1734h.01M463 1420h.01M461 1420h.01M461 1422h.01M460 1421h.01M460 1420h.01M514 1398h.01M443 1584h.01M443 1582h.01M440 1584h.01M441 1581h.01M494 1405h.01M410 1639h.01M409 1638h.01M411 1637h.01M492 1494h.01M490 1494h.01M447 1570h.01M352 1540h.01M521 1401h.01M520 1457h.01M518 1457h.01M519 1459h.01M531 1413h.01M529 1413h.01M466 1529h.01M465 1530h.01M466 1528h.01M522 1452h.01M530 1425h.01M531 1424h.01M470 1417h.01M470 1419h.01M470 1418h.01M471 1419h.01M504 1475h.01M452 1551h.01M422 1455h.01M394 1491h.01M395 1491h.01M484 1498h.01M484 1498h.01M486 1496h.01M532 1418h.01M368 1520h.01M366 1524h.01M366 1522h.01M529 1422h.01M428 1449h.01M425 1450h.01M451 1557h.01M451 1559h.01M388 1664h.01M391 1666h.01M439 1591h.01M438 1589h.01M528 1438h.01M525 1437h.01M422 1622h.01M421 1623h.01M501 1476h.01M468 1522h.01M459 1542h.01M355 1708h.01M520 1403h.01M507 1401h.01M506 1403h.01M504 1401h.01M497 1406h.01M497 1406h.01M516 1464h.01M514 1463h.01M525 1410h.01M525 1409h.01M480 1502h.01M483 1503h.01M405 1642h.01M406 1642h.01M442 1578h.01M441 1577h.01M443 1580h.01M399 1655h.01M497 1483h.01M473 1513h.01M474 1515h.01M523 1405h.01M523 1404h.01M325 1578h.01M310 1602h.01M482 1412h.01M527 1434h.01M528 1435h.01M524 1433h.01M377 1511h.01M456 1427h.01M339 1726h.01M520 1455h.01M517 1453h.01M519 1455h.01M409 1471h.01M411 1472h.01M429 1606h.01M428 1608h.01M510 1468h.01M509 1467h.01M425 1615h.01M424 1615h.01M418 1627h.01M524 1414h.01M526 1416h.01M527 1413h.01M525 1415h.01M492 1485h.01M494 1485h.01M494 1487h.01M463 1535h.01M462 1533h.01M526 1429h.01M381 1506h.01M384 1505h.01M380 1508h.01M382 1505h.01M493 1410h.01M493 1410h.01M493 1411h.01M519 1405h.01M518 1406h.01M479 1506h.01M525 1426h.01M521 1408h.01M522 1409h.01M522 1409h.01M525 1423h.01M527 1422h.01M490 1489h.01M484 1416h.01M374 1687h.01M443 1576h.01M354 1537h.01M450 1556h.01M507 1404h.01M513 1460h.01M516 1457h.01M346 1718h.01M467 1524h.01M516 1407h.01M516 1407h.01M515 1405h.01M342 1723h.01M504 1474h.01M503 1472h.01M443 1438h.01M444 1439h.01M444 1436h.01M455 1545h.01M454 1546h.01M453 1545h.01M452 1547h.01M519 1452h.01M520 1449h.01M510 1404h.01M512 1407h.01M509 1404h.01M434 1595h.01M436 1594h.01M432 1595h.01M499 1410h.01M402 1483h.01M400 1482h.01M446 1560h.01M445 1563h.01M488 1495h.01M455 1430h.01M453 1428h.01M453 1428h.01M402 1647h.01M523 1438h.01M521 1437h.01M412 1467h.01M414 1466h.01M413 1465h.01M412 1466h.01M523 1413h.01M522 1415h.01M470 1519h.01M468 1519h.01M477 1419h.01M477 1418h.01M500 1478h.01M519 1409h.01M520 1408h.01M518 1410h.01M423 1617h.01M423 1617h.01M421 1619h.01M423 1618h.01M491 1415h.01M488 1414h.01M511 1461h.01M510 1462h.01M411 1636h.01M412 1635h.01M432 1603h.01M428 1600h.01M502 1408h.01M502 1409h.01M500 1411h.01M501 1411h.01M523 1436h.01M396 1658h.01M392 1659h.01"/>
<path stroke="#0036ff" d="M474 1511h.01M473 1508h.01M521 1417h.01M521 1416h.01M522 1418h.01M425 1610h.01M462 1428h.01M461 1425h.01M462 1427h.01M463 1426h.01M463 1425h.01M471 1422h.01M472 1420h.01M470 1421h.01M483 1499h.01M483 1499h.01M518 1446h.01M517 1445h.01M442 1570h.01M441 1569h.01M494 1481h.01M493 1481h.01M494 1483h.01M494 1480h.01M515 1409h.01M516 1409h.01M515 1455h.01M513 1454h.01M505 1465h.01M504 1468h.01M505 1464h.01M523 1428h.01M507 1409h.01M522 1424h.01M520 1423h.01M522 1424h.01M522 1423h.01M492 1413h.01M493 1416h.01M508 1409h.01M509 1408h.01M511 1411h.01M509 1410h.01M483 1419h.01M523 1428h.01M522 1425h.01M518 1413h.01M519 1415h.01M345 1548h.01M417 1463h.01M417 1461h.01M406 1479h.01M462 1530h.01M434 1588h.01M435 1590h.01M436 1590h.01M501 1469h.01M358 1536h.01M451 1435h.01M450 1435h.01M450 1435h.01M450 1434h.01M488 1486h.01M491 1485h.01M419 1622h.01M419 1621h.01M451 1551h.01M452 1549h.01M382 1672h.01M380 1675h.01M438 1578h.01M439 1579h.01M437 1576h.01M438 1578h.01M511 1457h.01M510 1457h.01M509 1456h.01M511 1458h.01M486 1418h.01M485 1418h.01M516 1419h.01M518 1417h.01M517 1418h.01M518 1417h.01M328 1572h.01M395 1494h.01M513 1414h.01M513 1413h.01M295 1732h.01M293 1732h.01M293 1729h.01M293 1728h.01M498 1474h.01M473 1421h.01M474 1423h.01M472 1423h.01M474 1422h.01M476 1422h.01M515 1448h.01M513 1448h.01M431 1596h.01M422 1456h.01M424 1458h.01M340 1562h.01M442 1567h.01M500 1412h.01M503 1415h.01M518 1437h.01M517 1436h.01M429 1449h.01M430 1448h.01M455 1542h.01M454 1542h.01M399 1649h.01M400 1650h.01M510 1415h.01M511 1413h.01M509 1415h.01M425 1455h.01M426 1453h.01M425 1453h.01M424 1452h.01M425 1454h.01M458 1431h.01M460 1430h.01M508 1412h.01M506 1412h.01M507 1415h.01M516 1421h.01M517 1422h.01M416 1628h.01M416 1627h.01M416 1625h.01M420 1615h.01M303 1734h.01M425 1607h.01M426 1606h.01M490 1417h.01M489 1416h.01M516 1435h.01M516 1433h.01M520 1435h.01M519 1432h.01M520 1433h.01M519 1435h.01M495 1476h.01M495 1479h.01M516 1425h.01M432 1586h.01M434 1586h.01M435 1588h.01M434 1585h.01M516 1430h.01M517 1428h.01M518 1430h.01M520 1430h.01M445 1438h.01M446 1439h.01M444 1437h.01M361 1532h.01M516 1448h.01M514 1447h.01M514 1444h.01M514 1446h.01M437 1574h.01M438 1574h.01M439 1576h.01M440 1574h.01M478 1421h.01M478 1422h.01M480 1424h.01M389 1660h.01M367 1693h.01M365 1693h.01M367 1694h.01M510 1454h.01M511 1454h.01M512 1455h.01M502 1467h.01M502 1466h.01M503 1466h.01M459 1533h.01M458 1534h.01M328 1729h.01M330 1731h.01M328 1730h.01M481 1493h.01M490 1481h.01M490 1480h.01M401 1642h.01M401 1643h.01M404 1644h.01M409 1632h.01M410 1630h.01M409 1631h.01M511 1418h.01M509 1419h.01M500 1419h.01M498 1418h.01M497 1419h.01M499 1419h.01M514 1421h.01M514 1422h.01M514 1421h.01M513 1421h.01M514 1422h.01M514 1421h.01M431 1593h.01M513 1441h.01M500 1470h.01M496 1470h.01M500 1420h.01M482 1422h.01M484 1423h.01M481 1422h.01M482 1423h.01M445 1552h.01M445 1552h.01M442 1561h.01M440 1563h.01M441 1561h.01M301 1618h.01M367 1526h.01M367 1527h.01M461 1526h.01M463 1528h.01M460 1524h.01M462 1524h.01M505 1457h.01M504 1458h.01M507 1458h.01M506 1459h.01M472 1426h.01M471 1426h.01M471 1426h.01M468 1427h.01M417 1620h.01M417 1616h.01M432 1581h.01M432 1584h.01M433 1583h.01M435 1582h.01M512 1424h.01M513 1424h.01M513 1428h.01M513 1427h.01M515 1439h.01M513 1439h.01M512 1451h.01M510 1449h.01M510 1450h.01M509 1452h.01M511 1448h.01M403 1485h.01M449 1546h.01M415 1469h.01M371 1522h.01M368 1524h.01M371 1522h.01M370 1524h.01M426 1602h.01M427 1602h.01M477 1496h.01M480 1500h.01M478 1500h.01M375 1517h.01M373 1518h.01M379 1512h.01M380 1514h.01M487 1423h.01M437 1571h.01M436 1569h.01M439 1570h.01M494 1475h.01M495 1472h.01M493 1474h.01M485 1486h.01M484 1486h.01M461 1428h.01M465 1519h.01M465 1517h.01M465 1516h.01M361 1698h.01M516 1436h.01M513 1436h.01M513 1428h.01M515 1429h.01M515 1430h.01M513 1429h.01M510 1422h.01M512 1424h.01M296 1627h.01M383 1511h.01M421 1610h.01M421 1608h.01M421 1608h.01M501 1460h.01M502 1463h.01M490 1422h.01M491 1423h.01M472 1509h.01M453 1540h.01M452 1536h.01M388 1508h.01M505 1421h.01M511 1447h.01M473 1427h.01M473 1426h.01M473 1428h.01M492 1424h.01M495 1421h.01M495 1422h.01M496 1422h.01M493 1423h.01M493 1424h.01M394 1655h.01M396 1654h.01M430 1590h.01M504 1456h.01M505 1454h.01M490 1478h.01M503 1422h.01M502 1420h.01M498 1423h.01M500 1421h.01M498 1422h.01M499 1422h.01M509 1425h.01M511 1427h.01M511 1427h.01M511 1427h.01M496 1466h.01M499 1465h.01"/>
<path stroke="#0046ff" d="M415 1621h.01M412 1621h.01M414 1622h.01M414 1623h.01M415 1623h.01M415 1622h.01M438 1447h.01M435 1579h.01M436 1576h.01M435 1576h.01M343 1557h.01M317 1732h.01M319 1734h.01M317 1734h.01M406 1482h.01M407 1482h.01M480 1489h.01M483 1492h.01M358 1702h.01M360 1704h.01M385 1665h.01M512 1443h.01M508 1441h.01M510 1444h.01M419 1468h.01M420 1467h.01M419 1464h.01M389 1502h.01M451 1436h.01M450 1440h.01M450 1438h.01M449 1437h.01M510 1430h.01M510 1430h.01M473 1502h.01M477 1426h.01M440 1558h.01M458 1529h.01M511 1440h.01M509 1437h.01M512 1437h.01M436 1567h.01M438 1565h.01M427 1597h.01M427 1597h.01M511 1434h.01M466 1431h.01M465 1428h.01M501 1459h.01M503 1458h.01M503 1459h.01M507 1427h.01M507 1427h.01M356 1544h.01M356 1544h.01M447 1550h.01M445 1551h.01M481 1426h.01M481 1426h.01M481 1426h.01M483 1427h.01M456 1433h.01M457 1435h.01M458 1436h.01M485 1481h.01M435 1452h.01M432 1449h.01M433 1452h.01M419 1615h.01M419 1612h.01M420 1616h.01M419 1614h.01M421 1607h.01M422 1607h.01M420 1604h.01M421 1604h.01M423 1606h.01M423 1605h.01M423 1605h.01M422 1607h.01M375 1682h.01M460 1521h.01M500 1426h.01M503 1426h.01M411 1625h.01M408 1627h.01M430 1585h.01M484 1427h.01M486 1428h.01M393 1497h.01M392 1496h.01M395 1499h.01M423 1461h.01M420 1464h.01M320 1594h.01M319 1596h.01M436 1575h.01M497 1462h.01M497 1462h.01M497 1464h.01M497 1426h.01M497 1428h.01M504 1430h.01M491 1424h.01M479 1494h.01M478 1494h.01M400 1636h.01M400 1636h.01M404 1640h.01M412 1477h.01M412 1480h.01M412 1477h.01M494 1427h.01M504 1446h.01M489 1472h.01M448 1542h.01M449 1541h.01M465 1512h.01M465 1515h.01M465 1515h.01M432 1454h.01M431 1453h.01M427 1456h.01M425 1457h.01M428 1460h.01M424 1456h.01M425 1459h.01M500 1456h.01M472 1430h.01M470 1430h.01M505 1435h.01M505 1433h.01M505 1435h.01M505 1441h.01M505 1440h.01M447 1442h.01M446 1444h.01M448 1440h.01M332 1724h.01M506 1439h.01M505 1438h.01M506 1436h.01M494 1466h.01M494 1465h.01M315 1732h.01M314 1734h.01M503 1431h.01M500 1432h.01M469 1504h.01M470 1504h.01M472 1506h.01M426 1593h.01M481 1488h.01M482 1485h.01M484 1485h.01M480 1485h.01M397 1493h.01M400 1494h.01M400 1495h.01M310 1734h.01M308 1732h.01M311 1735h.01M474 1429h.01M430 1581h.01M430 1581h.01M432 1580h.01M414 1618h.01M413 1617h.01M415 1617h.01M413 1619h.01M413 1617h.01M498 1457h.01M497 1459h.01M503 1451h.01M406 1629h.01M486 1477h.01M488 1476h.01M460 1435h.01M462 1432h.01M463 1435h.01M498 1429h.01M351 1710h.01M455 1439h.01M454 1437h.01M454 1440h.01M454 1440h.01M453 1436h.01M455 1438h.01M434 1570h.01M433 1571h.01M443 1555h.01M382 1669h.01M383 1671h.01M389 1658h.01M423 1602h.01M421 1604h.01M424 1603h.01M423 1601h.01M422 1603h.01M501 1434h.01M480 1429h.01M476 1429h.01M478 1428h.01M491 1471h.01M492 1470h.01M475 1497h.01M475 1497h.01M413 1473h.01M415 1475h.01M493 1429h.01M494 1430h.01M493 1430h.01M493 1429h.01M494 1430h.01M345 1555h.01M419 1609h.01M418 1611h.01M418 1611h.01M501 1446h.01M502 1447h.01M500 1446h.01M491 1431h.01M491 1430h.01M489 1429h.01M488 1431h.01M401 1489h.01M402 1491h.01M401 1490h.01M482 1429h.01M481 1431h.01M483 1428h.01M481 1431h.01M487 1428h.01M485 1428h.01M488 1431h.01M502 1438h.01M501 1437h.01M502 1437h.01M501 1438h.01M503 1439h.01M502 1442h.01M501 1443h.01M502 1443h.01M503 1444h.01M440 1448h.01M441 1444h.01M492 1461h.01M495 1464h.01M493 1463h.01M494 1462h.01M495 1464h.01M496 1461h.01M492 1461h.01M495 1461h.01M493 1463h.01M495 1460h.01M370 1688h.01M371 1687h.01M369 1686h.01M498 1455h.01M498 1455h.01M499 1454h.01M498 1454h.01M499 1454h.01M445 1547h.01M447 1545h.01M497 1434h.01M496 1433h.01M463 1517h.01M478 1492h.01M479 1490h.01M479 1488h.01M427 1590h.01M424 1591h.01M428 1576h.01M429 1578h.01M432 1576h.01M465 1436h.01M466 1435h.01M464 1433h.01M466 1434h.01M466 1436h.01M394 1650h.01M483 1483h.01M481 1483h.01M486 1472h.01M360 1534h.01M362 1535h.01M496 1451h.01M499 1450h.01M329 1577h.01M493 1432h.01M493 1434h.01M492 1435h.01M400 1644h.01M397 1640h.01M499 1437h.01M499 1437h.01M405 1485h.01M489 1467h.01M489 1465h.01M493 1458h.01M494 1458h.01M448 1538h.01M450 1539h.01M449 1539h.01M449 1539h.01M418 1470h.01M418 1471h.01M419 1471h.01M416 1468h.01"/>
<path stroke="#0056ff" d="M433 1567h.01M433 1566h.01M434 1565h.01M452 1442h.01M448 1443h.01M449 1443h.01M450 1441h.01M500 1444h.01M499 1447h.01M500 1448h.01M497 1446h.01M499 1445h.01M500 1444h.01M420 1597h.01M421 1599h.01M296 1729h.01M298 1731h.01M437 1449h.01M436 1452h.01M490 1436h.01M491 1433h.01M491 1435h.01M459 1437h.01M325 1729h.01M403 1633h.01M403 1633h.01M440 1558h.01M440 1556h.01M438 1557h.01M440 1559h.01M439 1558h.01M472 1433h.01M470 1502h.01M468 1503h.01M472 1503h.01M415 1613h.01M412 1612h.01M413 1615h.01M384 1512h.01M488 1434h.01M484 1436h.01M420 1606h.01M417 1605h.01M418 1604h.01M493 1438h.01M494 1439h.01M494 1436h.01M493 1437h.01M321 1591h.01M294 1639h.01M385 1512h.01M384 1512h.01M386 1511h.01M386 1511h.01M385 1512h.01M388 1509h.01M366 1532h.01M365 1531h.01M368 1531h.01M474 1435h.01M472 1433h.01M377 1519h.01M480 1434h.01M481 1435h.01M481 1436h.01M496 1454h.01M425 1588h.01M453 1529h.01M455 1530h.01M454 1529h.01M476 1432h.01M479 1434h.01M374 1521h.01M374 1521h.01M490 1463h.01M473 1495h.01M474 1494h.01M474 1493h.01M486 1469h.01M487 1469h.01M484 1468h.01M485 1469h.01M370 1528h.01M371 1527h.01M369 1527h.01M442 1552h.01M377 1672h.01M408 1481h.01M410 1483h.01M495 1442h.01M495 1441h.01M495 1441h.01M481 1479h.01M422 1465h.01M422 1465h.01M406 1625h.01M407 1626h.01M495 1451h.01M495 1451h.01M435 1455h.01M433 1453h.01M434 1455h.01M435 1454h.01M435 1455h.01M365 1689h.01M367 1690h.01M365 1689h.01M365 1690h.01M480 1486h.01M479 1485h.01M479 1486h.01M478 1485h.01M314 1601h.01M315 1603h.01M489 1437h.01M491 1438h.01M490 1437h.01M496 1446h.01M495 1447h.01M458 1522h.01M460 1523h.01M458 1521h.01M460 1522h.01M464 1436h.01M461 1437h.01M384 1662h.01M387 1661h.01M395 1501h.01M393 1503h.01M395 1500h.01M396 1504h.01M446 1446h.01M446 1446h.01M445 1445h.01M489 1457h.01M491 1458h.01M490 1459h.01M491 1460h.01M491 1460h.01M491 1458h.01M432 1459h.01M429 1458h.01M429 1459h.01M421 1595h.01M427 1462h.01M426 1461h.01M425 1460h.01M427 1464h.01M426 1461h.01M426 1462h.01M448 1541h.01M491 1440h.01M488 1440h.01M436 1562h.01M425 1583h.01M428 1583h.01M425 1584h.01M425 1583h.01M453 1443h.01M456 1442h.01M454 1440h.01M408 1620h.01M411 1619h.01M409 1618h.01M491 1455h.01M431 1571h.01M430 1570h.01M482 1440h.01M398 1498h.01M465 1436h.01M464 1436h.01M466 1437h.01M464 1439h.01M465 1436h.01M468 1438h.01M491 1446h.01M413 1477h.01M483 1475h.01M482 1473h.01M490 1449h.01M491 1450h.01M415 1609h.01M413 1609h.01M479 1437h.01M476 1439h.01M478 1440h.01M480 1437h.01M477 1438h.01M436 1556h.01M437 1555h.01M448 1536h.01M448 1532h.01M470 1437h.01M485 1441h.01M472 1498h.01M486 1462h.01M486 1460h.01M485 1460h.01M486 1462h.01M487 1463h.01M488 1462h.01M476 1484h.01M480 1481h.01M362 1694h.01M362 1696h.01M362 1695h.01M291 1721h.01M291 1723h.01M290 1721h.01M398 1640h.01M400 1494h.01M403 1495h.01M476 1489h.01M473 1491h.01M476 1490h.01M472 1491h.01M342 1561h.01M390 1656h.01M391 1653h.01M442 1450h.01M403 1632h.01M404 1631h.01M402 1631h.01M393 1646h.01M354 1547h.01M423 1588h.01M423 1588h.01M428 1576h.01M453 1524h.01M453 1527h.01M453 1526h.01M333 1574h.01M334 1575h.01M334 1575h.01M488 1444h.01M484 1447h.01M487 1448h.01M487 1446h.01M486 1458h.01M487 1459h.01M485 1457h.01M485 1456h.01M483 1472h.01M481 1469h.01M483 1468h.01M480 1441h.01M483 1442h.01M484 1442h.01M458 1442h.01M458 1442h.01M459 1443h.01M458 1443h.01M376 1678h.01M374 1676h.01M292 1726h.01M294 1726h.01M441 1545h.01M443 1546h.01M442 1546h.01M484 1455h.01M407 1491h.01M406 1489h.01M406 1488h.01M449 1445h.01M450 1444h.01M405 1621h.01M406 1621h.01M407 1620h.01M406 1622h.01M404 1622h.01M417 1597h.01M480 1441h.01M479 1441h.01M477 1477h.01M478 1476h.01M478 1478h.01M478 1479h.01M481 1465h.01M483 1467h.01"/>
<path stroke="#0066ff" d="M433 1557h.01M434 1557h.01M461 1510h.01M463 1510h.01M463 1509h.01M480 1445h.01M480 1444h.01M484 1447h.01M461 1441h.01M436 1455h.01M439 1452h.01M439 1452h.01M440 1454h.01M410 1614h.01M411 1614h.01M412 1612h.01M360 1696h.01M358 1698h.01M414 1606h.01M380 1664h.01M381 1668h.01M382 1668h.01M472 1442h.01M476 1444h.01M475 1443h.01M446 1538h.01M446 1539h.01M421 1588h.01M424 1584h.01M424 1585h.01M426 1575h.01M427 1575h.01M425 1574h.01M468 1502h.01M464 1501h.01M467 1501h.01M465 1504h.01M409 1485h.01M412 1485h.01M410 1485h.01M412 1486h.01M476 1485h.01M474 1486h.01M472 1486h.01M481 1462h.01M480 1460h.01M481 1461h.01M465 1440h.01M468 1441h.01M469 1442h.01M469 1443h.01M470 1441h.01M470 1441h.01M483 1451h.01M482 1451h.01M420 1468h.01M421 1469h.01M471 1492h.01M482 1460h.01M316 1599h.01M480 1472h.01M478 1474h.01M478 1473h.01M479 1472h.01M481 1455h.01M482 1453h.01M482 1454h.01M479 1444h.01M479 1448h.01M478 1445h.01M478 1445h.01M480 1445h.01M478 1447h.01M480 1448h.01M437 1551h.01M439 1551h.01M436 1552h.01M449 1531h.01M449 1530h.01M434 1459h.01M454 1446h.01M455 1446h.01M444 1451h.01M445 1450h.01M444 1449h.01M322 1728h.01M323 1730h.01M323 1730h.01M426 1466h.01M424 1466h.01M428 1465h.01M418 1594h.01M417 1593h.01M418 1593h.01M416 1592h.01M429 1462h.01M430 1461h.01M387 1516h.01M385 1513h.01M452 1523h.01M330 1727h.01M329 1728h.01M391 1512h.01M399 1633h.01M413 1483h.01M413 1483h.01M402 1626h.01M353 1704h.01M348 1556h.01M430 1563h.01M429 1563h.01M429 1563h.01M476 1451h.01M477 1452h.01M383 1519h.01M380 1516h.01M380 1517h.01M423 1582h.01M424 1582h.01M424 1581h.01M421 1580h.01M424 1582h.01M421 1580h.01M420 1582h.01M300 1731h.01M303 1729h.01M302 1731h.01M303 1730h.01M301 1728h.01M475 1484h.01M473 1482h.01M393 1507h.01M392 1507h.01M396 1505h.01M368 1683h.01M364 1539h.01M362 1536h.01M459 1515h.01M459 1516h.01M407 1619h.01M404 1619h.01M405 1618h.01M405 1619h.01M456 1445h.01M458 1448h.01M457 1448h.01M460 1445h.01M459 1446h.01M457 1447h.01M442 1543h.01M478 1465h.01M478 1465h.01M392 1641h.01M393 1640h.01M409 1610h.01M409 1610h.01M409 1611h.01M377 1521h.01M377 1521h.01M377 1523h.01M386 1657h.01M388 1659h.01M388 1657h.01M479 1453h.01M478 1456h.01M477 1455h.01M478 1455h.01M397 1504h.01M396 1501h.01M396 1502h.01M398 1503h.01M469 1447h.01M463 1508h.01M461 1508h.01M460 1508h.01M464 1504h.01M479 1463h.01M477 1463h.01M477 1460h.01M434 1554h.01M432 1552h.01M436 1554h.01M436 1555h.01M470 1488h.01M468 1492h.01M468 1492h.01M461 1446h.01M464 1446h.01M466 1446h.01M467 1445h.01M464 1446h.01M467 1500h.01M368 1536h.01M365 1533h.01M367 1535h.01M366 1533h.01M364 1535h.01M374 1525h.01M374 1528h.01M373 1525h.01M373 1526h.01M392 1648h.01M389 1652h.01M389 1649h.01M402 1496h.01M400 1498h.01M401 1499h.01M403 1497h.01M402 1499h.01M474 1448h.01M476 1450h.01M419 1476h.01M416 1478h.01M416 1478h.01M420 1479h.01M419 1480h.01M419 1476h.01M449 1448h.01M449 1448h.01M449 1451h.01M452 1450h.01M476 1478h.01M472 1476h.01M475 1476h.01M475 1478h.01M371 1531h.01M368 1531h.01M369 1530h.01M444 1533h.01M445 1534h.01M445 1535h.01M377 1672h.01M420 1588h.01M420 1590h.01M418 1589h.01M418 1591h.01M418 1591h.01M418 1591h.01M420 1590h.01M421 1580h.01M350 1706h.01M406 1492h.01M405 1495h.01M405 1495h.01M407 1493h.01M405 1495h.01M406 1494h.01M406 1496h.01M448 1528h.01M449 1526h.01M449 1526h.01M472 1453h.01M474 1454h.01M474 1453h.01M474 1473h.01M473 1474h.01M473 1473h.01M473 1474h.01M476 1474h.01M437 1547h.01M439 1548h.01M437 1547h.01M437 1547h.01M427 1564h.01M427 1565h.01M414 1599h.01M413 1596h.01M412 1597h.01M470 1452h.01M471 1449h.01M471 1449h.01M469 1448h.01M469 1451h.01M470 1449h.01"/>
<path stroke="#0076ff" d="M453 1518h.01M453 1517h.01M438 1459h.01M437 1458h.01M409 1489h.01M411 1491h.01M408 1488h.01M411 1491h.01M422 1472h.01M421 1472h.01M420 1476h.01M421 1476h.01M454 1448h.01M452 1450h.01M455 1452h.01M453 1450h.01M455 1451h.01M455 1450h.01M472 1487h.01M470 1484h.01M470 1487h.01M471 1488h.01M470 1488h.01M473 1470h.01M474 1468h.01M473 1458h.01M475 1458h.01M474 1458h.01M473 1458h.01M472 1457h.01M412 1607h.01M411 1604h.01M411 1606h.01M403 1621h.01M404 1621h.01M368 1687h.01M366 1685h.01M365 1685h.01M366 1686h.01M365 1688h.01M404 1613h.01M407 1614h.01M407 1614h.01M408 1613h.01M320 1596h.01M398 1629h.01M458 1510h.01M457 1511h.01M473 1467h.01M473 1464h.01M472 1462h.01M475 1462h.01M305 1619h.01M305 1617h.01M464 1451h.01M465 1450h.01M465 1450h.01M418 1584h.01M445 1454h.01M422 1575h.01M421 1573h.01M422 1574h.01M457 1448h.01M459 1451h.01M460 1451h.01M458 1451h.01M464 1496h.01M461 1504h.01M461 1501h.01M463 1502h.01M462 1503h.01M460 1504h.01M463 1501h.01M464 1449h.01M462 1450h.01M462 1451h.01M441 1539h.01M442 1539h.01M441 1536h.01M348 1708h.01M347 1709h.01M433 1462h.01M432 1460h.01M435 1461h.01M436 1463h.01M433 1464h.01M436 1462h.01M335 1722h.01M332 1722h.01M413 1484h.01M425 1472h.01M425 1469h.01M425 1472h.01M425 1472h.01M426 1469h.01M424 1470h.01M425 1472h.01M469 1454h.01M469 1456h.01M469 1455h.01M471 1453h.01M433 1550h.01M435 1551h.01M434 1550h.01M394 1637h.01M396 1636h.01M395 1638h.01M432 1465h.01M431 1465h.01M429 1465h.01M470 1480h.01M318 1732h.01M318 1729h.01M315 1605h.01M445 1531h.01M414 1595h.01M413 1594h.01M415 1594h.01M380 1660h.01M471 1458h.01M469 1460h.01M471 1460h.01M469 1459h.01M308 1730h.01M308 1729h.01M306 1730h.01M306 1731h.01M305 1732h.01M425 1560h.01M448 1524h.01M450 1522h.01M465 1452h.01M464 1452h.01M449 1453h.01M451 1455h.01M449 1455h.01M355 1552h.01M420 1481h.01M418 1482h.01M420 1481h.01M418 1482h.01M416 1483h.01M419 1481h.01M471 1476h.01M343 1565h.01M409 1603h.01M409 1603h.01M417 1582h.01M417 1583h.01M418 1583h.01M418 1582h.01M419 1582h.01M419 1581h.01M336 1718h.01M442 1458h.01M441 1457h.01M441 1459h.01M444 1456h.01M441 1459h.01M443 1459h.01M455 1514h.01M455 1515h.01M454 1514h.01M453 1516h.01M453 1513h.01M455 1514h.01M421 1569h.01M421 1572h.01M421 1571h.01M470 1462h.01M470 1461h.01M395 1510h.01M390 1648h.01M391 1513h.01M389 1516h.01M388 1513h.01M439 1544h.01M439 1541h.01M438 1542h.01M436 1543h.01M440 1542h.01M363 1691h.01M362 1691h.01M363 1688h.01M396 1506h.01M397 1506h.01M399 1507h.01M398 1504h.01M406 1609h.01M407 1609h.01M471 1474h.01M470 1474h.01M428 1555h.01M430 1555h.01M469 1465h.01M469 1466h.01M459 1505h.01M456 1507h.01M459 1506h.01M459 1504h.01M387 1516h.01M385 1518h.01M462 1455h.01M462 1453h.01M462 1455h.01M462 1456h.01M470 1470h.01M471 1470h.01M469 1469h.01M402 1620h.01M403 1618h.01M404 1503h.01M403 1500h.01M401 1501h.01M456 1454h.01M456 1455h.01M453 1456h.01M387 1653h.01M385 1655h.01M384 1655h.01M461 1496h.01M460 1497h.01M463 1499h.01M456 1455h.01M459 1454h.01M397 1624h.01M400 1627h.01M397 1624h.01M408 1499h.01M407 1497h.01M406 1499h.01M466 1457h.01M467 1457h.01M466 1459h.01M465 1457h.01M420 1479h.01M424 1476h.01M420 1479h.01M422 1476h.01M384 1521h.01M383 1520h.01M384 1524h.01M442 1535h.01M442 1532h.01M442 1536h.01M442 1534h.01M444 1534h.01M292 1718h.01M414 1588h.01M416 1589h.01M414 1592h.01M409 1493h.01M410 1493h.01M316 1730h.01M313 1731h.01M316 1730h.01M314 1730h.01M314 1730h.01M316 1729h.01M356 1547h.01M360 1544h.01M440 1460h.01M438 1460h.01M437 1461h.01M438 1460h.01M436 1462h.01M324 1590h.01"/>
<path stroke="#0084ff" d="M309 1728h.01M309 1729h.01M310 1728h.01M310 1729h.01M468 1486h.01M468 1486h.01M465 1487h.01M465 1486h.01M467 1487h.01M416 1577h.01M416 1577h.01M416 1577h.01M444 1526h.01M446 1527h.01M448 1524h.01M447 1528h.01M447 1528h.01M444 1526h.01M447 1527h.01M444 1524h.01M446 1458h.01M447 1458h.01M448 1459h.01M445 1457h.01M432 1548h.01M434 1545h.01M434 1547h.01M297 1728h.01M299 1725h.01M297 1727h.01M297 1724h.01M395 1633h.01M392 1636h.01M392 1635h.01M393 1632h.01M396 1633h.01M379 1527h.01M377 1527h.01M380 1525h.01M378 1525h.01M467 1460h.01M465 1461h.01M466 1464h.01M464 1461h.01M416 1491h.01M451 1520h.01M409 1597h.01M421 1567h.01M427 1558h.01M426 1559h.01M425 1557h.01M426 1560h.01M426 1557h.01M463 1459h.01M462 1457h.01M463 1460h.01M462 1457h.01M463 1460h.01M462 1459h.01M434 1465h.01M436 1466h.01M358 1693h.01M358 1694h.01M453 1510h.01M455 1510h.01M455 1512h.01M361 1541h.01M364 1543h.01M360 1541h.01M429 1470h.01M430 1471h.01M468 1481h.01M467 1484h.01M466 1481h.01M468 1483h.01M404 1605h.01M407 1606h.01M406 1608h.01M407 1606h.01M464 1494h.01M461 1495h.01M460 1494h.01M465 1467h.01M467 1464h.01M465 1465h.01M369 1677h.01M369 1679h.01M376 1529h.01M373 1532h.01M376 1532h.01M376 1531h.01M375 1531h.01M449 1456h.01M452 1459h.01M449 1457h.01M452 1458h.01M452 1456h.01M451 1457h.01M449 1457h.01M326 1727h.01M326 1726h.01M326 1727h.01M460 1501h.01M458 1501h.01M459 1503h.01M458 1504h.01M459 1501h.01M459 1504h.01M459 1456h.01M458 1456h.01M420 1487h.01M420 1487h.01M419 1485h.01M420 1486h.01M378 1668h.01M377 1666h.01M377 1666h.01M439 1537h.01M439 1538h.01M438 1537h.01M437 1539h.01M402 1614h.01M403 1615h.01M402 1613h.01M366 1536h.01M368 1538h.01M464 1478h.01M465 1477h.01M465 1477h.01M465 1468h.01M454 1457h.01M370 1535h.01M369 1534h.01M414 1586h.01M415 1587h.01M416 1584h.01M318 1603h.01M318 1601h.01M417 1574h.01M465 1473h.01M465 1475h.01M467 1475h.01M465 1475h.01M429 1550h.01M430 1551h.01M431 1549h.01M428 1550h.01M442 1463h.01M443 1462h.01M442 1461h.01M441 1460h.01M442 1461h.01M440 1463h.01M463 1464h.01M462 1464h.01M388 1643h.01M398 1620h.01M398 1620h.01M311 1615h.01M443 1530h.01M440 1530h.01M443 1531h.01M296 1721h.01M293 1721h.01M296 1721h.01M296 1722h.01M447 1521h.01M445 1522h.01M444 1521h.01M445 1522h.01M447 1523h.01M422 1481h.01M422 1481h.01M423 1480h.01M422 1480h.01M423 1482h.01M338 1574h.01M338 1575h.01M336 1576h.01M461 1491h.01M411 1596h.01M450 1515h.01M450 1513h.01M451 1514h.01M449 1515h.01M450 1515h.01M451 1516h.01M420 1564h.01M423 1564h.01M420 1560h.01M356 1697h.01M464 1467h.01M464 1464h.01M398 1511h.01M397 1509h.01M399 1508h.01M453 1508h.01M455 1505h.01M402 1507h.01M402 1505h.01M401 1505h.01M402 1506h.01M433 1540h.01M433 1541h.01M434 1541h.01M460 1462h.01M457 1461h.01M458 1462h.01M460 1462h.01M407 1501h.01M406 1503h.01M405 1500h.01M396 1515h.01M396 1513h.01M392 1630h.01M392 1628h.01M394 1630h.01M395 1630h.01M394 1632h.01M392 1630h.01M457 1500h.01M457 1496h.01M458 1500h.01M458 1496h.01M457 1496h.01M446 1464h.01M446 1464h.01M408 1601h.01M406 1601h.01M438 1465h.01M382 1659h.01M381 1659h.01M382 1659h.01M381 1656h.01M383 1658h.01M409 1498h.01M410 1498h.01M409 1498h.01M411 1499h.01M331 1588h.01M386 1651h.01M416 1584h.01M425 1477h.01M424 1480h.01M417 1570h.01M390 1517h.01M391 1518h.01M390 1520h.01M389 1516h.01M388 1519h.01M390 1516h.01M389 1518h.01M389 1518h.01M416 1494h.01M412 1495h.01M462 1486h.01M461 1487h.01M461 1487h.01M463 1487h.01M453 1463h.01M453 1460h.01M452 1461h.01M455 1463h.01M450 1461h.01M449 1464h.01"/>
<path stroke="#0092ff" d="M464 1471h.01M461 1471h.01M461 1469h.01M401 1608h.01M402 1609h.01M434 1468h.01M435 1471h.01M436 1471h.01M431 1473h.01M432 1473h.01M429 1475h.01M430 1472h.01M352 1558h.01M350 1559h.01M366 1682h.01M366 1683h.01M365 1682h.01M419 1489h.01M418 1489h.01M386 1522h.01M385 1522h.01M387 1522h.01M385 1520h.01M463 1482h.01M461 1484h.01M460 1482h.01M442 1526h.01M440 1524h.01M444 1528h.01M440 1528h.01M442 1525h.01M441 1528h.01M461 1475h.01M461 1474h.01M462 1475h.01M462 1474h.01M446 1518h.01M447 1520h.01M446 1517h.01M444 1518h.01M448 1520h.01M446 1518h.01M445 1520h.01M446 1520h.01M429 1546h.01M432 1547h.01M462 1477h.01M461 1476h.01M461 1478h.01M456 1468h.01M457 1466h.01M411 1589h.01M411 1589h.01M400 1617h.01M398 1617h.01M396 1617h.01M398 1619h.01M400 1617h.01M452 1508h.01M449 1508h.01M451 1509h.01M449 1509h.01M449 1509h.01M452 1511h.01M450 1510h.01M449 1509h.01M457 1495h.01M458 1495h.01M350 1701h.01M441 1466h.01M442 1468h.01M442 1464h.01M441 1467h.01M422 1558h.01M423 1558h.01M422 1560h.01M420 1559h.01M453 1502h.01M455 1503h.01M455 1503h.01M455 1502h.01M389 1636h.01M388 1639h.01M389 1636h.01M421 1486h.01M422 1484h.01M323 1598h.01M321 1598h.01M321 1600h.01M412 1577h.01M415 1579h.01M415 1580h.01M383 1525h.01M383 1525h.01M381 1525h.01M408 1597h.01M404 1596h.01M455 1466h.01M454 1466h.01M456 1465h.01M454 1467h.01M454 1464h.01M434 1536h.01M434 1537h.01M433 1540h.01M434 1537h.01M434 1538h.01M435 1540h.01M460 1468h.01M457 1471h.01M456 1468h.01M457 1470h.01M426 1551h.01M427 1548h.01M426 1550h.01M444 1465h.01M446 1467h.01M447 1464h.01M394 1626h.01M354 1555h.01M354 1552h.01M427 1482h.01M425 1481h.01M425 1482h.01M451 1466h.01M452 1466h.01M437 1470h.01M438 1468h.01M440 1469h.01M440 1530h.01M437 1530h.01M436 1528h.01M402 1605h.01M403 1607h.01M401 1606h.01M402 1605h.01M403 1607h.01M448 1514h.01M446 1512h.01M446 1513h.01M331 1722h.01M328 1721h.01M379 1531h.01M377 1530h.01M411 1501h.01M411 1500h.01M411 1503h.01M409 1503h.01M409 1503h.01M413 1497h.01M412 1498h.01M415 1497h.01M449 1504h.01M448 1506h.01M430 1477h.01M431 1477h.01M429 1477h.01M430 1477h.01M458 1474h.01M460 1473h.01M459 1476h.01M459 1476h.01M458 1474h.01M407 1507h.01M405 1506h.01M405 1508h.01M406 1507h.01M313 1609h.01M336 1582h.01M409 1586h.01M362 1687h.01M362 1686h.01M434 1473h.01M435 1474h.01M434 1475h.01M456 1500h.01M455 1499h.01M454 1499h.01M456 1499h.01M403 1508h.01M403 1509h.01M418 1493h.01M420 1493h.01M418 1496h.01M412 1574h.01M458 1487h.01M457 1486h.01M459 1485h.01M460 1485h.01M459 1487h.01M458 1484h.01M344 1707h.01M387 1645h.01M388 1647h.01M384 1645h.01M386 1645h.01M388 1645h.01M387 1645h.01M384 1646h.01M397 1514h.01M397 1513h.01M399 1514h.01M304 1628h.01M377 1662h.01M377 1661h.01M458 1476h.01M457 1478h.01M458 1480h.01M457 1479h.01M459 1479h.01M457 1477h.01M458 1478h.01M457 1477h.01M359 1549h.01M359 1549h.01M398 1614h.01M398 1613h.01M397 1613h.01M455 1470h.01M455 1472h.01M303 1725h.01M302 1724h.01M303 1726h.01M302 1726h.01M457 1480h.01M458 1481h.01M456 1483h.01M456 1483h.01M459 1483h.01M322 1724h.01M320 1725h.01M418 1562h.01M420 1561h.01M375 1534h.01M373 1534h.01M372 1534h.01M421 1489h.01M421 1492h.01M421 1491h.01M421 1489h.01M420 1488h.01M421 1554h.01M421 1553h.01M424 1554h.01M424 1555h.01"/>
<path stroke="#00a0ff" d="M395 1518h.01M392 1519h.01M395 1519h.01M395 1518h.01M394 1518h.01M392 1517h.01M396 1518h.01M392 1519h.01M441 1470h.01M441 1469h.01M444 1471h.01M405 1596h.01M290 1715h.01M391 1636h.01M389 1633h.01M443 1517h.01M443 1516h.01M440 1519h.01M443 1516h.01M440 1518h.01M433 1533h.01M433 1533h.01M433 1534h.01M435 1536h.01M372 1672h.01M370 1675h.01M369 1672h.01M370 1675h.01M368 1674h.01M361 1547h.01M361 1546h.01M364 1548h.01M360 1546h.01M383 1655h.01M381 1652h.01M384 1656h.01M383 1655h.01M381 1652h.01M445 1510h.01M445 1508h.01M449 1471h.01M449 1470h.01M369 1536h.01M370 1537h.01M371 1538h.01M369 1539h.01M438 1527h.01M437 1527h.01M438 1525h.01M438 1525h.01M437 1525h.01M438 1526h.01M453 1493h.01M455 1493h.01M452 1494h.01M452 1495h.01M454 1495h.01M453 1493h.01M445 1468h.01M446 1472h.01M447 1470h.01M447 1471h.01M446 1470h.01M446 1469h.01M445 1470h.01M427 1486h.01M426 1486h.01M428 1485h.01M426 1484h.01M425 1484h.01M426 1486h.01M365 1543h.01M368 1543h.01M366 1543h.01M391 1521h.01M389 1523h.01M392 1523h.01M451 1503h.01M449 1504h.01M452 1501h.01M327 1595h.01M454 1474h.01M455 1474h.01M455 1473h.01M426 1544h.01M428 1545h.01M394 1622h.01M394 1623h.01M394 1623h.01M416 1571h.01M415 1570h.01M410 1581h.01M409 1583h.01M411 1582h.01M408 1581h.01M411 1584h.01M410 1584h.01M410 1583h.01M437 1473h.01M439 1475h.01M437 1473h.01M342 1709h.01M344 1709h.01M343 1710h.01M428 1481h.01M429 1482h.01M332 1718h.01M435 1480h.01M435 1477h.01M434 1478h.01M434 1476h.01M433 1476h.01M456 1489h.01M452 1491h.01M453 1490h.01M453 1488h.01M345 1567h.01M294 1649h.01M452 1478h.01M453 1479h.01M455 1477h.01M417 1499h.01M418 1498h.01M418 1500h.01M414 1501h.01M416 1501h.01M413 1502h.01M412 1502h.01M386 1528h.01M386 1524h.01M387 1526h.01M442 1515h.01M440 1515h.01M442 1513h.01M443 1512h.01M429 1538h.01M428 1536h.01M429 1537h.01M428 1536h.01M430 1540h.01M428 1539h.01M445 1507h.01M445 1506h.01M445 1507h.01M418 1558h.01M417 1560h.01M419 1556h.01M422 1495h.01M338 1714h.01M338 1715h.01M339 1716h.01M337 1714h.01M410 1505h.01M408 1505h.01M410 1508h.01M409 1505h.01M449 1473h.01M450 1474h.01M440 1522h.01M437 1520h.01M437 1523h.01M456 1486h.01M455 1487h.01M399 1609h.01M398 1609h.01M456 1483h.01M452 1482h.01M454 1481h.01M453 1482h.01M452 1481h.01M455 1481h.01M450 1498h.01M452 1496h.01M450 1500h.01M440 1475h.01M442 1475h.01M442 1475h.01M441 1472h.01M441 1474h.01M442 1475h.01M441 1472h.01M435 1529h.01M424 1552h.01M423 1550h.01M406 1509h.01M406 1511h.01M408 1591h.01M404 1589h.01M407 1590h.01M407 1591h.01M444 1473h.01M446 1472h.01M448 1473h.01M425 1488h.01M338 1577h.01M386 1641h.01M387 1640h.01M400 1515h.01M403 1515h.01M400 1515h.01M403 1513h.01M412 1564h.01M413 1564h.01M410 1577h.01M390 1628h.01M392 1629h.01M430 1488h.01M432 1485h.01M432 1487h.01M432 1485h.01M430 1487h.01M442 1512h.01M383 1529h.01M384 1531h.01M382 1530h.01M439 1478h.01M437 1477h.01M439 1477h.01M439 1480h.01M452 1479h.01M448 1476h.01M452 1479h.01M373 1666h.01M373 1668h.01M373 1666h.01M372 1665h.01M374 1665h.01M375 1667h.01M372 1668h.01M376 1665h.01M427 1544h.01M425 1542h.01M424 1542h.01M424 1540h.01M425 1543h.01M426 1542h.01M449 1495h.01M449 1494h.01M397 1518h.01M398 1517h.01M447 1501h.01M445 1502h.01M448 1500h.01M445 1500h.01M447 1501h.01M436 1516h.01M440 1517h.01M437 1518h.01M437 1518h.01M434 1482h.01M434 1481h.01M434 1482h.01M435 1484h.01M404 1598h.01"/>
<path stroke="#00b0ff" d="M392 1619h.01M392 1618h.01M367 1678h.01M364 1677h.01M365 1678h.01M364 1679h.01M311 1618h.01M310 1620h.01M433 1527h.01M330 1590h.01M331 1592h.01M431 1532h.01M429 1532h.01M429 1533h.01M421 1498h.01M420 1498h.01M421 1500h.01M421 1499h.01M421 1500h.01M423 1500h.01M421 1498h.01M451 1480h.01M450 1480h.01M449 1482h.01M450 1491h.01M450 1488h.01M452 1491h.01M419 1502h.01M416 1504h.01M420 1503h.01M443 1477h.01M440 1478h.01M443 1476h.01M446 1476h.01M445 1476h.01M445 1479h.01M448 1477h.01M445 1479h.01M445 1478h.01M445 1477h.01M444 1479h.01M394 1522h.01M393 1520h.01M392 1522h.01M426 1493h.01M426 1493h.01M425 1495h.01M319 1724h.01M353 1694h.01M354 1694h.01M419 1554h.01M417 1556h.01M419 1552h.01M418 1555h.01M451 1485h.01M449 1484h.01M451 1486h.01M449 1488h.01M448 1486h.01M441 1508h.01M444 1505h.01M306 1724h.01M306 1728h.01M304 1725h.01M305 1727h.01M305 1725h.01M413 1507h.01M412 1504h.01M415 1507h.01M436 1515h.01M437 1515h.01M439 1513h.01M448 1498h.01M448 1497h.01M446 1499h.01M446 1498h.01M446 1498h.01M448 1497h.01M448 1498h.01M399 1606h.01M399 1607h.01M396 1604h.01M382 1651h.01M381 1650h.01M300 1721h.01M298 1721h.01M299 1722h.01M296 1722h.01M298 1722h.01M378 1535h.01M376 1532h.01M377 1535h.01M380 1534h.01M422 1545h.01M424 1547h.01M421 1545h.01M422 1547h.01M423 1547h.01M423 1545h.01M405 1586h.01M404 1586h.01M405 1586h.01M407 1587h.01M405 1584h.01M404 1588h.01M415 1564h.01M415 1563h.01M412 1564h.01M411 1574h.01M440 1483h.01M437 1482h.01M439 1481h.01M437 1482h.01M293 1717h.01M294 1716h.01M293 1720h.01M380 1659h.01M377 1657h.01M412 1510h.01M411 1508h.01M410 1511h.01M411 1511h.01M434 1485h.01M434 1486h.01M433 1485h.01M435 1486h.01M435 1486h.01M436 1487h.01M433 1487h.01M432 1487h.01M435 1488h.01M432 1486h.01M435 1521h.01M432 1520h.01M434 1522h.01M447 1484h.01M445 1481h.01M447 1484h.01M445 1481h.01M447 1483h.01M444 1481h.01M290 1667h.01M390 1526h.01M392 1527h.01M446 1494h.01M447 1495h.01M445 1493h.01M446 1496h.01M445 1492h.01M447 1496h.01M446 1496h.01M448 1492h.01M440 1500h.01M440 1503h.01M442 1502h.01M442 1503h.01M443 1500h.01M437 1510h.01M437 1512h.01M440 1510h.01M426 1538h.01M427 1539h.01M427 1539h.01M444 1483h.01M441 1482h.01M440 1483h.01M442 1482h.01M442 1480h.01M408 1516h.01M405 1515h.01M404 1513h.01M407 1512h.01M408 1513h.01M404 1515h.01M404 1515h.01M407 1513h.01M430 1530h.01M429 1529h.01M431 1529h.01M429 1530h.01M432 1530h.01M431 1531h.01M427 1498h.01M425 1497h.01M424 1499h.01M427 1499h.01M426 1499h.01M447 1484h.01M448 1485h.01M447 1485h.01M444 1485h.01M421 1503h.01M423 1504h.01M423 1504h.01M422 1503h.01M420 1501h.01M423 1504h.01M446 1490h.01M447 1491h.01M446 1491h.01M445 1490h.01M447 1490h.01M391 1627h.01M430 1496h.01M430 1495h.01M432 1496h.01M432 1493h.01M430 1495h.01M431 1494h.01M431 1492h.01M387 1638h.01M385 1639h.01M386 1639h.01M387 1639h.01M402 1594h.01M403 1593h.01M400 1595h.01M401 1595h.01M403 1594h.01M403 1592h.01M435 1518h.01M436 1516h.01M435 1517h.01M439 1487h.01M440 1488h.01M439 1488h.01M436 1485h.01M374 1538h.01M373 1540h.01M375 1540h.01M434 1488h.01M434 1490h.01M434 1491h.01M433 1488h.01M433 1489h.01M434 1491h.01M433 1491h.01M343 1575h.01M342 1574h.01M341 1572h.01M437 1507h.01M437 1507h.01M437 1505h.01M437 1506h.01M441 1497h.01M442 1499h.01M443 1499h.01M443 1497h.01M419 1505h.01M419 1508h.01M417 1507h.01M418 1505h.01M400 1516h.01M400 1518h.01M401 1520h.01M400 1518h.01M402 1516h.01M444 1485h.01M443 1485h.01M442 1484h.01M444 1485h.01M442 1486h.01M323 1601h.01M320 1602h.01M323 1604h.01M321 1602h.01M322 1602h.01M416 1552h.01M417 1550h.01M408 1570h.01M410 1572h.01M444 1492h.01M442 1492h.01M443 1492h.01M444 1495h.01M441 1495h.01M441 1495h.01M442 1493h.01M443 1494h.01M432 1515h.01M315 1727h.01M316 1727h.01M316 1725h.01M315 1727h.01M442 1490h.01M441 1489h.01M440 1489h.01M440 1502h.01M429 1499h.01M431 1496h.01M430 1497h.01M415 1558h.01M413 1557h.01M412 1560h.01M414 1557h.01M312 1725h.01M309 1726h.01M308 1728h.01M311 1725h.01M309 1728h.01M439 1491h.01M439 1490h.01M352 1696h.01M350 1697h.01M434 1495h.01M430 1527h.01M431 1526h.01M429 1525h.01M424 1541h.01M424 1543h.01M420 1540h.01M363 1681h.01M426 1502h.01M426 1502h.01M388 1531h.01M387 1529h.01M416 1511h.01M405 1584h.01M406 1583h.01M404 1580h.01M326 1724h.01M325 1721h.01"/>
<path stroke="#00c0ff" d="M400 1521h.01M399 1523h.01M399 1520h.01M398 1520h.01M436 1496h.01M436 1497h.01M437 1497h.01M439 1499h.01M439 1496h.01M439 1498h.01M437 1496h.01M438 1497h.01M368 1543h.01M370 1542h.01M369 1543h.01M370 1543h.01M369 1542h.01M433 1510h.01M433 1508h.01M438 1493h.01M333 1586h.01M333 1586h.01M335 1586h.01M336 1587h.01M306 1627h.01M425 1536h.01M427 1534h.01M425 1532h.01M428 1534h.01M433 1498h.01M433 1499h.01M432 1497h.01M434 1499h.01M435 1498h.01M434 1500h.01M434 1497h.01M436 1500h.01M290 1709h.01M357 1555h.01M359 1555h.01M398 1601h.01M397 1602h.01M400 1604h.01M436 1507h.01M433 1506h.01M436 1505h.01M433 1505h.01M434 1505h.01M423 1504h.01M421 1504h.01M421 1505h.01M422 1507h.01M422 1504h.01M436 1502h.01M431 1501h.01M430 1501h.01M431 1502h.01M430 1503h.01M364 1547h.01M367 1548h.01M366 1547h.01M367 1546h.01M412 1516h.01M412 1512h.01M409 1513h.01M409 1514h.01M430 1520h.01M431 1521h.01M429 1521h.01M431 1522h.01M430 1522h.01M429 1524h.01M428 1521h.01M432 1522h.01M429 1523h.01M429 1520h.01M430 1524h.01M429 1520h.01M363 1551h.01M362 1549h.01M361 1551h.01M362 1550h.01M364 1550h.01M431 1507h.01M430 1506h.01M429 1505h.01M427 1505h.01M428 1508h.01M425 1505h.01M420 1511h.01M419 1510h.01M419 1508h.01M418 1508h.01M417 1510h.01M418 1511h.01M432 1517h.01M393 1525h.01M394 1525h.01M394 1527h.01M429 1512h.01M431 1508h.01M296 1654h.01M431 1515h.01M431 1515h.01M432 1514h.01M410 1566h.01M409 1568h.01M404 1519h.01M406 1517h.01M408 1520h.01M416 1548h.01M419 1548h.01M417 1544h.01M417 1547h.01M417 1545h.01M416 1547h.01M420 1545h.01M420 1546h.01M417 1547h.01M424 1531h.01M425 1530h.01M425 1531h.01M391 1623h.01M388 1622h.01M388 1624h.01M390 1621h.01M382 1644h.01M381 1647h.01M384 1645h.01M382 1646h.01M401 1590h.01M404 1589h.01M314 1616h.01M424 1537h.01M424 1536h.01M422 1539h.01M424 1538h.01M422 1537h.01M421 1538h.01M414 1555h.01M382 1534h.01M381 1532h.01M421 1511h.01M424 1508h.01M422 1511h.01M421 1510h.01M423 1510h.01M427 1511h.01M428 1509h.01M428 1511h.01M425 1508h.01M386 1636h.01M385 1633h.01M395 1609h.01M394 1609h.01M393 1608h.01M393 1612h.01M408 1579h.01M404 1576h.01M405 1579h.01M407 1579h.01M413 1516h.01M415 1514h.01M413 1514h.01M414 1515h.01M374 1661h.01M374 1663h.01M427 1525h.01M425 1526h.01M425 1525h.01M428 1526h.01M424 1524h.01M426 1527h.01M427 1525h.01M403 1521h.01M402 1523h.01M401 1522h.01M403 1521h.01M400 1520h.01M404 1522h.01M400 1523h.01M403 1524h.01M403 1520h.01M427 1515h.01M426 1514h.01M426 1515h.01M426 1514h.01M427 1512h.01M427 1514h.01M427 1514h.01M324 1598h.01M327 1598h.01M324 1598h.01M344 1569h.01M344 1572h.01M426 1522h.01M427 1522h.01M424 1523h.01M428 1521h.01M426 1520h.01M427 1519h.01M427 1517h.01M425 1520h.01M427 1518h.01M424 1518h.01M428 1519h.01M416 1514h.01M417 1516h.01M416 1513h.01M417 1513h.01M418 1512h.01M417 1514h.01M417 1514h.01M389 1530h.01M391 1530h.01M390 1530h.01M392 1528h.01M376 1655h.01M379 1655h.01M377 1653h.01M420 1512h.01M422 1513h.01M423 1514h.01M422 1513h.01M422 1514h.01M423 1516h.01M398 1600h.01M421 1533h.01M421 1536h.01M420 1532h.01M421 1535h.01M409 1519h.01M411 1517h.01M411 1518h.01M409 1516h.01M411 1517h.01M410 1563h.01M409 1562h.01M411 1560h.01M408 1563h.01M408 1563h.01M358 1686h.01M417 1542h.01M416 1543h.01M418 1543h.01M412 1551h.01M413 1550h.01M413 1550h.01M414 1551h.01M398 1526h.01M399 1526h.01M400 1525h.01M399 1526h.01"/>
<path stroke="#00d0ff" d="M337 1584h.01M338 1580h.01M339 1581h.01M339 1583h.01M338 1583h.01M378 1538h.01M377 1538h.01M364 1672h.01M365 1674h.01M368 1674h.01M365 1673h.01M422 1517h.01M421 1520h.01M421 1519h.01M408 1574h.01M408 1573h.01M407 1574h.01M423 1528h.01M420 1532h.01M413 1518h.01M415 1517h.01M413 1519h.01M408 1523h.01M404 1523h.01M406 1521h.01M400 1587h.01M403 1586h.01M419 1519h.01M419 1516h.01M420 1517h.01M420 1521h.01M424 1524h.01M424 1523h.01M421 1520h.01M420 1524h.01M423 1522h.01M390 1618h.01M389 1620h.01M423 1525h.01M422 1527h.01M421 1526h.01M422 1524h.01M421 1525h.01M421 1525h.01M421 1525h.01M423 1527h.01M420 1537h.01M417 1540h.01M419 1539h.01M418 1538h.01M417 1536h.01M330 1718h.01M329 1717h.01M332 1716h.01M328 1718h.01M385 1632h.01M412 1560h.01M412 1560h.01M409 1560h.01M409 1556h.01M411 1559h.01M411 1559h.01M392 1607h.01M393 1605h.01M393 1607h.01M393 1608h.01M396 1608h.01M343 1706h.01M385 1536h.01M384 1534h.01M384 1534h.01M388 1534h.01M416 1544h.01M413 1546h.01M415 1545h.01M414 1548h.01M414 1548h.01M381 1642h.01M381 1643h.01M382 1643h.01M382 1641h.01M382 1644h.01M384 1644h.01M411 1520h.01M410 1522h.01M411 1523h.01M409 1523h.01M410 1522h.01M394 1531h.01M395 1530h.01M419 1524h.01M401 1526h.01M401 1528h.01M400 1525h.01M352 1567h.01M349 1565h.01M349 1568h.01M348 1567h.01M349 1565h.01M348 1566h.01M419 1534h.01M418 1536h.01M419 1535h.01M413 1521h.01M412 1520h.01M416 1520h.01M413 1522h.01M415 1523h.01M331 1594h.01M329 1592h.01M331 1593h.01M331 1592h.01M329 1596h.01M373 1541h.01M373 1541h.01M373 1543h.01M376 1541h.01M374 1542h.01M374 1542h.01M376 1541h.01M374 1543h.01M373 1541h.01M320 1612h.01M405 1568h.01M406 1568h.01M405 1569h.01M420 1524h.01M417 1525h.01M419 1525h.01M418 1524h.01M399 1595h.01M398 1594h.01M398 1596h.01M397 1594h.01M417 1531h.01M417 1531h.01M417 1529h.01M419 1530h.01M420 1531h.01M419 1531h.01M417 1530h.01M300 1721h.01M301 1723h.01M409 1554h.01M412 1556h.01M412 1553h.01M409 1555h.01M415 1542h.01M415 1543h.01M416 1541h.01M415 1543h.01M413 1542h.01M413 1543h.01M405 1527h.01M407 1526h.01M408 1527h.01M408 1526h.01M405 1525h.01M407 1525h.01M406 1525h.01M407 1526h.01M408 1527h.01M354 1689h.01M356 1690h.01M353 1691h.01M354 1691h.01M372 1664h.01M371 1666h.01M370 1665h.01M370 1666h.01M369 1665h.01M338 1709h.01M337 1708h.01M340 1712h.01M403 1583h.01M402 1583h.01M401 1582h.01M403 1582h.01M401 1583h.01M402 1581h.01M402 1582h.01M414 1526h.01M415 1526h.01M413 1527h.01M333 1712h.01M335 1716h.01M312 1623h.01M309 1620h.01M312 1622h.01M411 1527h.01M409 1526h.01M410 1525h.01M409 1528h.01M411 1528h.01M409 1528h.01M396 1529h.01M400 1530h.01M398 1530h.01M396 1531h.01M371 1545h.01M369 1548h.01M371 1545h.01M372 1545h.01M370 1547h.01M369 1546h.01M371 1547h.01M322 1721h.01M323 1720h.01M321 1721h.01M413 1536h.01"/>
<path stroke="#00e0ff" d="M343 1576h.01M390 1613h.01M390 1613h.01M406 1568h.01M405 1564h.01M405 1565h.01M408 1566h.01M408 1568h.01M405 1564h.01M407 1564h.01M408 1566h.01M413 1529h.01M414 1529h.01M300 1647h.01M392 1534h.01M391 1533h.01M389 1535h.01M392 1535h.01M391 1535h.01M381 1537h.01M382 1540h.01M382 1538h.01M383 1537h.01M381 1537h.01M384 1536h.01M380 1540h.01M383 1539h.01M381 1536h.01M382 1537h.01M354 1563h.01M355 1560h.01M352 1563h.01M353 1563h.01M353 1561h.01M414 1535h.01M415 1533h.01M415 1534h.01M415 1533h.01M414 1533h.01M377 1652h.01M379 1651h.01M378 1651h.01M384 1624h.01M409 1552h.01M410 1552h.01M409 1550h.01M410 1550h.01M410 1551h.01M294 1714h.01M296 1713h.01M294 1712h.01M294 1716h.01M295 1714h.01M293 1714h.01M295 1714h.01M295 1716h.01M363 1678h.01M360 1678h.01M361 1677h.01M360 1677h.01M360 1679h.01M362 1678h.01M361 1679h.01M362 1677h.01M361 1676h.01M394 1602h.01M393 1601h.01M394 1600h.01M401 1530h.01M402 1529h.01M402 1531h.01M402 1532h.01M375 1656h.01M374 1656h.01M373 1658h.01M372 1656h.01M374 1659h.01M373 1657h.01M409 1531h.01M410 1531h.01M412 1531h.01M411 1531h.01M412 1532h.01M409 1528h.01M366 1551h.01M368 1549h.01M366 1548h.01M405 1532h.01M404 1530h.01M406 1531h.01M381 1638h.01M358 1560h.01M356 1556h.01M358 1559h.01M412 1545h.01M412 1545h.01M411 1547h.01M410 1547h.01M410 1548h.01M362 1552h.01M360 1553h.01M361 1556h.01M362 1555h.01M399 1589h.01M334 1590h.01M332 1588h.01M335 1592h.01M406 1562h.01M406 1561h.01M407 1561h.01M406 1562h.01M400 1578h.01M403 1579h.01M404 1578h.01M401 1577h.01M403 1578h.01M403 1578h.01M400 1579h.01M411 1534h.01M408 1536h.01M409 1533h.01M320 1607h.01M324 1606h.01M396 1535h.01M395 1536h.01M396 1534h.01M395 1533h.01M394 1534h.01M410 1543h.01M409 1543h.01M410 1543h.01M411 1541h.01M409 1540h.01M411 1544h.01M410 1543h.01M411 1538h.01M410 1536h.01M410 1538h.01M298 1718h.01M299 1719h.01M296 1718h.01M297 1717h.01M300 1717h.01M297 1717h.01M299 1720h.01M298 1717h.01M348 1695h.01M352 1695h.01M406 1536h.01M404 1534h.01M407 1533h.01M405 1532h.01M404 1534h.01M406 1536h.01M406 1557h.01M408 1559h.01M406 1559h.01M406 1557h.01M405 1558h.01M405 1560h.01M398 1536h.01M397 1535h.01M398 1532h.01M376 1543h.01M379 1544h.01M376 1543h.01M306 1631h.01M305 1630h.01M387 1538h.01M387 1539h.01M386 1540h.01M388 1539h.01M385 1538h.01M386 1540h.01M402 1534h.01M400 1533h.01M404 1533h.01M389 1609h.01M391 1611h.01M391 1611h.01M389 1608h.01M389 1610h.01M386 1623h.01M387 1623h.01M385 1621h.01M403 1574h.01M402 1574h.01M401 1574h.01M403 1576h.01M402 1574h.01"/>
<path stroke="#00f0ff" d="M393 1599h.01M395 1598h.01M393 1599h.01M394 1598h.01M395 1598h.01M394 1597h.01M395 1596h.01M345 1575h.01M347 1575h.01M347 1572h.01M407 1553h.01M405 1556h.01M404 1554h.01M405 1554h.01M407 1553h.01M367 1671h.01M365 1668h.01M366 1668h.01M364 1670h.01M407 1540h.01M408 1536h.01M405 1537h.01M407 1537h.01M407 1540h.01M407 1539h.01M291 1701h.01M400 1584h.01M398 1587h.01M398 1585h.01M399 1585h.01M405 1550h.01M407 1551h.01M406 1549h.01M408 1550h.01M405 1550h.01M292 1678h.01M404 1540h.01M405 1542h.01M407 1544h.01M406 1542h.01M405 1543h.01M384 1634h.01M382 1635h.01M359 1682h.01M360 1683h.01M358 1680h.01M359 1684h.01M357 1680h.01M357 1681h.01M359 1683h.01M360 1683h.01M377 1645h.01M380 1644h.01M378 1647h.01M407 1546h.01M391 1537h.01M391 1537h.01M389 1538h.01M391 1537h.01M388 1539h.01M305 1722h.01M308 1720h.01M307 1721h.01M305 1723h.01M307 1723h.01M305 1721h.01M305 1724h.01M327 1601h.01M326 1604h.01M325 1603h.01M316 1617h.01M313 1617h.01M339 1588h.01M401 1537h.01M404 1539h.01M404 1538h.01M401 1537h.01M402 1537h.01M400 1538h.01M401 1537h.01M402 1536h.01M402 1569h.01M400 1570h.01M373 1547h.01M372 1545h.01M374 1546h.01M372 1545h.01M374 1547h.01M375 1547h.01M317 1720h.01M317 1721h.01M393 1537h.01M395 1539h.01M392 1536h.01M396 1538h.01M392 1539h.01M392 1539h.01M395 1539h.01M397 1538h.01M399 1540h.01M369 1660h.01M370 1661h.01M369 1663h.01M370 1663h.01M384 1543h.01M382 1542h.01M381 1540h.01M382 1543h.01M383 1544h.01M345 1697h.01M345 1697h.01M345 1699h.01M390 1604h.01M391 1605h.01M389 1605h.01M375 1655h.01M374 1653h.01M374 1652h.01M374 1655h.01M372 1655h.01M373 1655h.01M387 1619h.01M387 1620h.01M400 1564h.01M401 1566h.01M403 1566h.01M401 1543h.01M401 1542h.01M403 1544h.01M401 1542h.01M400 1543h.01M400 1540h.01M401 1543h.01M402 1542h.01M394 1595h.01M392 1595h.01M395 1592h.01M395 1592h.01M395 1593h.01M396 1594h.01M351 1568h.01M350 1569h.01M351 1569h.01M349 1570h.01M400 1584h.01M397 1582h.01M399 1582h.01"/>
<path stroke="#00ffff" d="M326 1720h.01M324 1717h.01M324 1717h.01M296 1661h.01M371 1550h.01M369 1549h.01M370 1550h.01M369 1549h.01M371 1548h.01M369 1551h.01M402 1560h.01M401 1562h.01M402 1560h.01M403 1561h.01M403 1563h.01M401 1545h.01M402 1546h.01M404 1545h.01M403 1548h.01M401 1544h.01M404 1546h.01M402 1547h.01M401 1546h.01M403 1548h.01M402 1546h.01M403 1545h.01M380 1630h.01M381 1629h.01M381 1629h.01M381 1632h.01M328 1599h.01M329 1597h.01M328 1597h.01M332 1597h.01M331 1599h.01M332 1598h.01M331 1600h.01M332 1600h.01M400 1541h.01M384 1542h.01M388 1542h.01M385 1542h.01M388 1542h.01M385 1541h.01M385 1542h.01M386 1543h.01M387 1542h.01M384 1541h.01M401 1558h.01M402 1557h.01M404 1557h.01M403 1557h.01M401 1560h.01M400 1558h.01M310 1722h.01M310 1723h.01M310 1721h.01M311 1724h.01M311 1722h.01M311 1721h.01M402 1549h.01M404 1549h.01M314 1723h.01M312 1723h.01M312 1720h.01M314 1722h.01M402 1555h.01M402 1553h.01M404 1555h.01M404 1556h.01M402 1554h.01M402 1552h.01M402 1553h.01M362 1674h.01M378 1644h.01M378 1641h.01M378 1641h.01M342 1584h.01M341 1581h.01M341 1582h.01M343 1582h.01M341 1582h.01M341 1583h.01M341 1584h.01M353 1684h.01M355 1688h.01M356 1688h.01M354 1688h.01M353 1687h.01M356 1684h.01M355 1687h.01M393 1542h.01M395 1543h.01M396 1540h.01M395 1543h.01M395 1541h.01M390 1541h.01M391 1543h.01M389 1540h.01M391 1544h.01M389 1544h.01M366 1554h.01M365 1554h.01M367 1556h.01M366 1552h.01M368 1552h.01M365 1555h.01M397 1576h.01M400 1576h.01M399 1580h.01M398 1578h.01M396 1577h.01M400 1578h.01M400 1577h.01M398 1580h.01M400 1580h.01M396 1578h.01M399 1578h.01M399 1576h.01M354 1564h.01M354 1567h.01M355 1568h.01M355 1567h.01M352 1564h.01M354 1566h.01M378 1547h.01M378 1548h.01M379 1545h.01M319 1613h.01M319 1613h.01M342 1701h.01M342 1702h.01M340 1702h.01M389 1604h.01M388 1615h.01M386 1613h.01M385 1614h.01M386 1616h.01M295 1712h.01M296 1710h.01M295 1709h.01M291 1686h.01M290 1685h.01M392 1589h.01M394 1588h.01M394 1589h.01M395 1590h.01M399 1548h.01M396 1546h.01M361 1558h.01M361 1558h.01M356 1563h.01M359 1563h.01M359 1563h.01M359 1564h.01M359 1561h.01M359 1562h.01M308 1626h.01M292 1691h.01M382 1627h.01M383 1626h.01M384 1624h.01M380 1628h.01M336 1596h.01M336 1596h.01M334 1593h.01M332 1596h.01M365 1668h.01M367 1668h.01M367 1664h.01M365 1668h.01M365 1666h.01M398 1574h.01M397 1574h.01M398 1574h.01M400 1576h.01M398 1575h.01M399 1574h.01"/>
<path stroke="#00ffec" d="M373 1652h.01M372 1649h.01M373 1649h.01M372 1650h.01M376 1651h.01M374 1649h.01M397 1549h.01M400 1550h.01M397 1549h.01M329 1712h.01M331 1716h.01M329 1712h.01M329 1715h.01M382 1545h.01M394 1545h.01M395 1545h.01M395 1547h.01M338 1708h.01M340 1707h.01M372 1658h.01M372 1659h.01M370 1658h.01M370 1658h.01M399 1572h.01M396 1569h.01M396 1569h.01M399 1569h.01M378 1639h.01M379 1636h.01M376 1640h.01M377 1638h.01M373 1550h.01M375 1548h.01M374 1549h.01M375 1552h.01M373 1551h.01M376 1551h.01M347 1579h.01M347 1577h.01M399 1555h.01M400 1556h.01M395 1584h.01M320 1609h.01M321 1612h.01M321 1610h.01M389 1596h.01M390 1600h.01M384 1612h.01M386 1610h.01M386 1611h.01M385 1609h.01M384 1609h.01M301 1643h.01M301 1719h.01M304 1719h.01M303 1719h.01M301 1720h.01M303 1719h.01M302 1719h.01M300 1718h.01M303 1719h.01M300 1718h.01M391 1548h.01M389 1547h.01M391 1546h.01M392 1545h.01M389 1548h.01M390 1548h.01M391 1544h.01M389 1544h.01M389 1545h.01M391 1546h.01M388 1547h.01M384 1545h.01M388 1546h.01M386 1546h.01M387 1548h.01M385 1544h.01M387 1546h.01M386 1547h.01M335 1712h.01M398 1565h.01M399 1564h.01M396 1567h.01M398 1566h.01M397 1567h.01M350 1691h.01M398 1558h.01M399 1560h.01M397 1556h.01M399 1559h.01M397 1559h.01M396 1560h.01M357 1679h.01M359 1678h.01M358 1679h.01M358 1679h.01M358 1679h.01M399 1563h.01M400 1564h.01M398 1564h.01M397 1560h.01M396 1561h.01M304 1634h.01M308 1635h.01M308 1634h.01M306 1636h.01M295 1667h.01M381 1622h.01M382 1623h.01M339 1588h.01M340 1591h.01M337 1591h.01M340 1589h.01M336 1590h.01M339 1590h.01M340 1591h.01M396 1548h.01M396 1551h.01M392 1548h.01M394 1549h.01M396 1549h.01"/>
<path stroke="#00ffdc" d="M299 1712h.01M299 1713h.01M296 1712h.01M299 1712h.01M299 1715h.01M299 1716h.01M300 1713h.01M394 1581h.01M396 1581h.01M393 1584h.01M392 1581h.01M372 1555h.01M369 1555h.01M368 1555h.01M371 1554h.01M371 1555h.01M368 1555h.01M326 1608h.01M377 1551h.01M377 1549h.01M376 1549h.01M377 1549h.01M378 1551h.01M380 1633h.01M378 1635h.01M379 1636h.01M380 1634h.01M349 1575h.01M351 1576h.01M349 1574h.01M350 1574h.01M351 1572h.01M321 1717h.01M320 1718h.01M324 1719h.01M320 1717h.01M392 1592h.01M388 1594h.01M390 1594h.01M392 1594h.01M388 1594h.01M391 1593h.01M375 1644h.01M373 1646h.01M374 1645h.01M376 1647h.01M376 1645h.01M373 1647h.01M387 1606h.01M386 1605h.01M385 1606h.01M387 1608h.01M363 1669h.01M362 1669h.01M362 1669h.01M361 1670h.01M363 1670h.01M364 1671h.01M389 1552h.01M388 1550h.01M389 1550h.01M392 1551h.01M389 1552h.01M392 1554h.01M393 1554h.01M394 1554h.01M394 1554h.01M392 1556h.01M312 1623h.01M315 1621h.01M315 1624h.01M315 1623h.01M313 1621h.01M312 1623h.01M298 1652h.01M381 1618h.01M383 1619h.01M381 1617h.01M383 1617h.01M393 1579h.01M394 1579h.01M396 1578h.01M394 1577h.01M393 1577h.01M395 1576h.01M382 1552h.01M380 1551h.01M384 1551h.01M380 1549h.01M381 1551h.01M380 1550h.01M383 1549h.01M383 1548h.01M343 1587h.01M344 1588h.01M346 1695h.01M347 1694h.01M346 1693h.01M368 1556h.01M365 1556h.01M368 1558h.01M365 1559h.01M367 1559h.01M387 1551h.01M386 1552h.01M387 1549h.01M366 1661h.01M366 1662h.01M365 1663h.01M366 1664h.01M365 1662h.01M371 1654h.01M372 1653h.01M369 1654h.01M371 1655h.01M369 1653h.01M293 1707h.01M295 1708h.01M293 1706h.01M296 1706h.01M293 1708h.01M293 1707h.01M330 1602h.01M331 1602h.01M329 1603h.01M332 1602h.01M393 1560h.01M395 1557h.01M395 1558h.01M354 1571h.01M354 1569h.01M354 1572h.01M352 1570h.01M354 1570h.01M353 1568h.01"/>
<path stroke="#00ffcc" d="M352 1683h.01M352 1680h.01M355 1681h.01M353 1681h.01M353 1684h.01M392 1575h.01M393 1575h.01M395 1576h.01M394 1573h.01M393 1574h.01M380 1628h.01M377 1630h.01M377 1632h.01M377 1629h.01M377 1628h.01M378 1631h.01M377 1632h.01M377 1632h.01M377 1629h.01M379 1631h.01M378 1630h.01M363 1563h.01M361 1564h.01M360 1564h.01M364 1562h.01M363 1560h.01M361 1563h.01M361 1564h.01M364 1560h.01M390 1588h.01M390 1592h.01M391 1592h.01M391 1589h.01M391 1590h.01M389 1588h.01M393 1561h.01M392 1561h.01M394 1561h.01M395 1563h.01M394 1563h.01M396 1564h.01M360 1566h.01M358 1564h.01M359 1565h.01M359 1564h.01M360 1565h.01M356 1565h.01M358 1567h.01M394 1572h.01M295 1670h.01M387 1600h.01M387 1603h.01M386 1600h.01M373 1553h.01M373 1554h.01M373 1553h.01M373 1556h.01M375 1553h.01M375 1555h.01M373 1555h.01M373 1555h.01M394 1566h.01M395 1566h.01M395 1565h.01M396 1566h.01M395 1566h.01M395 1565h.01M389 1556h.01M390 1554h.01M389 1552h.01M390 1553h.01M388 1552h.01M389 1553h.01M390 1552h.01M374 1643h.01M376 1643h.01M376 1642h.01M375 1642h.01M383 1613h.01M381 1615h.01M306 1717h.01M307 1718h.01M307 1718h.01M304 1717h.01M305 1719h.01M334 1597h.01M335 1598h.01M336 1598h.01M332 1598h.01M335 1599h.01M333 1597h.01M336 1600h.01M333 1597h.01M346 1583h.01M347 1583h.01M347 1581h.01M346 1581h.01M319 1619h.01M320 1618h.01M317 1619h.01M318 1617h.01M340 1696h.01M359 1675h.01M360 1673h.01M356 1673h.01M359 1675h.01M358 1675h.01M356 1676h.01M391 1586h.01M389 1587h.01M385 1553h.01M386 1552h.01M385 1554h.01M385 1553h.01M387 1554h.01M385 1555h.01"/>
<path stroke="#00ffbc" d="M378 1554h.01M377 1554h.01M379 1554h.01M380 1554h.01M377 1553h.01M378 1554h.01M378 1552h.01M379 1553h.01M319 1717h.01M320 1720h.01M318 1719h.01M319 1718h.01M317 1717h.01M318 1716h.01M319 1716h.01M318 1716h.01M319 1717h.01M310 1632h.01M309 1629h.01M377 1626h.01M380 1628h.01M377 1625h.01M388 1560h.01M389 1558h.01M388 1560h.01M389 1558h.01M391 1556h.01M390 1557h.01M390 1558h.01M391 1558h.01M388 1559h.01M388 1559h.01M391 1558h.01M388 1558h.01M392 1558h.01M302 1645h.01M382 1555h.01M383 1554h.01M383 1555h.01M383 1555h.01M380 1553h.01M383 1554h.01M380 1554h.01M383 1553h.01M381 1554h.01M387 1597h.01M386 1599h.01M327 1714h.01M326 1713h.01M326 1713h.01M326 1715h.01M325 1714h.01M326 1716h.01M371 1558h.01M368 1559h.01M371 1557h.01M369 1557h.01M372 1560h.01M372 1558h.01M369 1558h.01M369 1649h.01M370 1652h.01M370 1650h.01M371 1649h.01M338 1596h.01M340 1595h.01M340 1594h.01M340 1595h.01M336 1593h.01M380 1610h.01M383 1610h.01M382 1611h.01M382 1611h.01M382 1609h.01M384 1609h.01M381 1609h.01M350 1687h.01M349 1685h.01M349 1687h.01M360 1665h.01M360 1667h.01M361 1665h.01M360 1664h.01M361 1665h.01M388 1583h.01M391 1581h.01M389 1582h.01M392 1582h.01M389 1581h.01M390 1581h.01M390 1582h.01M388 1583h.01M374 1639h.01M375 1638h.01M374 1640h.01M374 1636h.01M373 1638h.01M374 1638h.01M376 1638h.01M373 1639h.01M375 1637h.01M367 1659h.01M366 1656h.01M368 1656h.01M351 1577h.01M352 1579h.01M349 1578h.01M351 1578h.01M350 1578h.01M350 1576h.01M349 1579h.01M348 1578h.01M349 1576h.01M391 1563h.01M388 1560h.01M391 1562h.01M388 1561h.01M389 1562h.01M391 1563h.01M306 1637h.01M305 1638h.01M305 1637h.01M322 1613h.01M324 1613h.01M324 1616h.01M320 1614h.01M324 1613h.01M321 1616h.01M323 1615h.01M300 1656h.01M294 1676h.01M310 1720h.01M309 1717h.01M295 1701h.01M337 1703h.01M339 1704h.01M339 1703h.01M316 1720h.01M315 1717h.01M315 1717h.01M314 1717h.01M314 1720h.01M313 1716h.01M316 1716h.01M315 1717h.01M315 1718h.01M376 1623h.01M378 1620h.01M378 1622h.01"/>
<path stroke="#00ffac" d="M388 1558h.01M386 1556h.01M387 1558h.01M385 1558h.01M388 1557h.01M387 1558h.01M390 1579h.01M388 1578h.01M390 1576h.01M389 1576h.01M388 1578h.01M388 1567h.01M390 1564h.01M390 1568h.01M385 1592h.01M385 1596h.01M386 1594h.01M368 1562h.01M366 1562h.01M367 1560h.01M366 1562h.01M368 1563h.01M365 1560h.01M365 1562h.01M299 1709h.01M298 1710h.01M299 1710h.01M297 1710h.01M300 1712h.01M300 1708h.01M300 1709h.01M297 1710h.01M298 1709h.01M343 1590h.01M343 1591h.01M344 1588h.01M343 1589h.01M343 1589h.01M344 1590h.01M344 1588h.01M341 1589h.01M341 1589h.01M392 1574h.01M388 1573h.01M389 1573h.01M390 1573h.01M391 1573h.01M392 1572h.01M391 1570h.01M389 1572h.01M375 1560h.01M376 1559h.01M375 1559h.01M374 1560h.01M373 1559h.01M375 1556h.01M331 1712h.01M330 1712h.01M330 1710h.01M329 1711h.01M330 1708h.01M382 1607h.01M382 1608h.01M380 1608h.01M381 1606h.01M381 1607h.01M382 1607h.01M382 1606h.01M384 1604h.01M354 1573h.01M354 1576h.01M356 1573h.01M355 1573h.01M356 1574h.01M355 1574h.01M325 1610h.01M325 1611h.01M326 1611h.01M327 1609h.01M327 1611h.01M328 1610h.01M325 1608h.01M327 1610h.01M325 1610h.01M301 1716h.01M301 1714h.01M303 1713h.01M301 1715h.01M302 1715h.01M300 1715h.01M304 1716h.01M302 1715h.01M333 1708h.01M335 1706h.01M334 1705h.01M334 1705h.01M332 1707h.01M355 1678h.01M353 1680h.01M355 1677h.01M380 1557h.01M382 1557h.01M382 1557h.01M381 1558h.01M381 1558h.01M381 1557h.01M374 1634h.01M374 1634h.01M372 1635h.01M372 1636h.01M372 1635h.01M361 1566h.01M364 1566h.01M364 1567h.01M360 1567h.01M360 1566h.01M361 1565h.01M363 1568h.01M377 1559h.01M380 1559h.01M379 1560h.01M379 1559h.01M378 1560h.01M379 1559h.01M368 1645h.01M369 1644h.01M369 1647h.01M371 1648h.01M358 1570h.01M360 1570h.01M359 1568h.01M360 1569h.01M356 1568h.01M357 1571h.01M358 1570h.01M378 1620h.01M379 1619h.01M376 1616h.01M379 1617h.01M387 1590h.01M388 1590h.01M387 1563h.01M387 1560h.01M344 1689h.01M345 1689h.01M346 1689h.01M345 1689h.01M348 1689h.01M332 1608h.01M332 1605h.01M330 1604h.01M329 1605h.01M312 1625h.01M314 1627h.01M315 1627h.01M314 1627h.01M312 1628h.01M296 1678h.01"/>
<path stroke="#00ff98" d="M348 1587h.01M348 1587h.01M356 1672h.01M356 1671h.01M293 1699h.01M294 1699h.01M294 1699h.01M294 1698h.01M296 1699h.01M295 1700h.01M296 1700h.01M295 1699h.01M383 1603h.01M381 1601h.01M381 1601h.01M380 1600h.01M382 1603h.01M380 1602h.01M367 1655h.01M365 1652h.01M366 1653h.01M365 1656h.01M367 1653h.01M364 1654h.01M362 1662h.01M362 1663h.01M363 1660h.01M362 1661h.01M335 1603h.01M332 1601h.01M334 1603h.01M334 1601h.01M334 1603h.01M370 1563h.01M368 1564h.01M371 1564h.01M372 1562h.01M369 1561h.01M372 1563h.01M375 1631h.01M373 1628h.01M385 1585h.01M385 1587h.01M385 1588h.01M388 1567h.01M384 1564h.01M387 1568h.01M387 1567h.01M388 1565h.01M385 1566h.01M378 1612h.01M377 1613h.01M378 1614h.01M377 1615h.01M377 1613h.01M379 1615h.01M380 1612h.01M381 1563h.01M381 1563h.01M382 1563h.01M380 1563h.01M381 1563h.01M299 1660h.01M299 1660h.01M298 1664h.01M296 1683h.01M295 1681h.01M295 1681h.01M296 1682h.01M294 1683h.01M301 1652h.01M302 1650h.01M301 1651h.01M369 1643h.01M371 1641h.01M369 1644h.01M370 1642h.01M324 1712h.01M320 1715h.01M323 1712h.01M323 1716h.01M321 1712h.01M323 1713h.01M322 1712h.01"/>
<path stroke="#00ff88" d="M351 1582h.01M349 1580h.01M338 1598h.01M338 1597h.01M339 1597h.01M340 1599h.01M340 1600h.01M339 1600h.01M339 1597h.01M387 1580h.01M387 1580h.01M386 1580h.01M386 1581h.01M386 1584h.01M385 1582h.01M295 1695h.01M293 1693h.01M295 1693h.01M294 1695h.01M294 1696h.01M296 1693h.01M296 1696h.01M386 1568h.01M387 1570h.01M385 1569h.01M385 1569h.01M386 1571h.01M386 1568h.01M380 1597h.01M380 1599h.01M383 1598h.01M380 1597h.01M382 1599h.01M374 1562h.01M375 1563h.01M376 1562h.01M375 1561h.01M373 1564h.01M376 1562h.01M373 1563h.01M318 1620h.01M320 1621h.01M320 1624h.01M319 1623h.01M320 1620h.01M378 1562h.01M378 1562h.01M378 1560h.01M377 1561h.01M377 1561h.01M380 1561h.01M348 1682h.01M349 1680h.01M350 1683h.01M341 1693h.01M340 1694h.01M342 1695h.01M344 1695h.01M343 1692h.01M341 1694h.01M384 1578h.01M386 1580h.01M386 1579h.01M385 1578h.01M386 1576h.01M384 1575h.01M386 1575h.01M384 1573h.01M385 1575h.01M386 1574h.01M386 1573h.01M385 1573h.01M385 1572h.01M388 1575h.01M385 1574h.01M387 1573h.01M294 1685h.01M296 1688h.01M294 1687h.01M312 1635h.01M310 1635h.01M312 1635h.01M368 1565h.01M368 1566h.01M367 1565h.01M365 1566h.01M368 1564h.01M366 1567h.01M368 1565h.01M365 1567h.01M373 1625h.01M372 1624h.01M295 1691h.01M294 1690h.01M296 1688h.01M293 1692h.01M296 1690h.01M294 1691h.01M296 1691h.01M376 1610h.01M378 1610h.01M378 1611h.01M377 1610h.01M341 1595h.01M341 1594h.01M342 1594h.01M340 1593h.01M341 1595h.01M341 1594h.01M353 1579h.01M353 1580h.01M352 1578h.01M355 1580h.01M355 1576h.01M356 1578h.01M304 1640h.01M304 1643h.01M304 1643h.01M307 1641h.01M306 1644h.01M365 1649h.01M368 1651h.01M365 1650h.01M366 1650h.01M367 1652h.01M365 1649h.01M367 1650h.01M364 1649h.01M364 1650h.01M366 1650h.01M381 1566h.01M384 1568h.01M380 1566h.01M382 1565h.01M383 1568h.01M383 1564h.01M382 1566h.01M381 1566h.01M383 1565h.01M382 1566h.01M384 1567h.01M308 1713h.01M307 1715h.01M306 1715h.01M307 1713h.01M306 1715h.01M304 1714h.01M305 1712h.01M304 1713h.01M307 1715h.01M308 1715h.01M306 1713h.01M306 1713h.01M306 1715h.01M305 1715h.01M306 1712h.01M306 1714h.01M362 1569h.01M362 1568h.01M362 1568h.01M361 1570h.01M361 1571h.01M364 1569h.01M361 1569h.01M364 1570h.01M363 1569h.01M362 1571h.01M363 1572h.01M363 1570h.01M360 1572h.01M380 1592h.01M383 1593h.01M382 1594h.01M382 1596h.01M300 1707h.01M299 1704h.01M299 1705h.01M298 1705h.01M298 1706h.01M298 1705h.01M299 1705h.01M299 1706h.01M298 1705h.01M299 1706h.01M299 1707h.01"/>
<path stroke="#00ff70" d="M353 1673h.01M354 1673h.01M352 1672h.01M354 1674h.01M354 1676h.01M368 1640h.01M369 1637h.01M371 1637h.01M358 1576h.01M357 1574h.01M358 1574h.01M359 1574h.01M360 1575h.01M359 1572h.01M357 1575h.01M359 1573h.01M356 1575h.01M360 1573h.01M359 1575h.01M324 1619h.01M323 1619h.01M322 1618h.01M321 1617h.01M322 1618h.01M361 1657h.01M363 1660h.01M362 1657h.01M360 1660h.01M361 1659h.01M361 1659h.01M364 1658h.01M373 1623h.01M374 1621h.01M376 1624h.01M375 1621h.01M374 1622h.01M375 1622h.01M358 1666h.01M358 1666h.01M360 1667h.01M357 1664h.01M345 1590h.01M344 1591h.01M344 1590h.01M346 1590h.01M346 1591h.01M344 1591h.01M345 1589h.01M345 1591h.01M346 1588h.01M370 1564h.01M369 1565h.01M369 1565h.01M370 1564h.01M369 1565h.01M369 1564h.01M370 1566h.01M370 1567h.01M368 1565h.01M371 1567h.01M371 1566h.01M337 1697h.01M337 1696h.01M384 1589h.01M382 1590h.01M380 1589h.01M382 1588h.01M383 1589h.01M378 1564h.01M378 1564h.01M376 1566h.01M377 1566h.01M379 1565h.01M378 1565h.01M376 1566h.01M382 1570h.01M382 1570h.01M381 1568h.01M382 1571h.01M380 1571h.01M384 1572h.01M384 1570h.01M382 1571h.01M383 1570h.01M383 1570h.01M384 1569h.01M384 1570h.01M328 1613h.01M324 1614h.01M324 1612h.01M298 1665h.01M299 1666h.01M299 1666h.01M327 1708h.01M326 1708h.01M325 1709h.01M327 1710h.01M325 1709h.01M326 1708h.01M325 1711h.01M319 1714h.01M319 1713h.01M319 1715h.01M317 1713h.01M317 1714h.01M319 1713h.01M373 1568h.01M373 1567h.01M375 1568h.01M375 1565h.01"/>
<path stroke="#00ff58" d="M344 1687h.01M344 1686h.01M346 1688h.01M345 1685h.01M347 1687h.01M372 1635h.01M368 1633h.01M369 1633h.01M370 1634h.01M372 1635h.01M371 1633h.01M369 1632h.01M369 1636h.01M330 1612h.01M331 1611h.01M331 1609h.01M330 1611h.01M330 1610h.01M332 1612h.01M376 1617h.01M376 1619h.01M374 1617h.01M375 1616h.01M373 1619h.01M301 1709h.01M303 1711h.01M301 1709h.01M303 1709h.01M302 1710h.01M300 1711h.01M303 1708h.01M304 1709h.01M304 1711h.01M300 1708h.01M303 1709h.01M304 1711h.01M301 1710h.01M302 1710h.01M381 1584h.01M380 1588h.01M382 1588h.01M383 1587h.01M352 1584h.01M349 1587h.01M349 1586h.01M348 1586h.01M350 1587h.01M350 1587h.01M351 1586h.01M351 1587h.01M368 1645h.01M368 1647h.01M368 1647h.01M365 1646h.01M365 1646h.01M367 1647h.01M367 1646h.01M367 1648h.01M368 1647h.01M364 1647h.01M382 1574h.01M383 1573h.01M382 1575h.01M382 1573h.01M380 1573h.01M380 1573h.01M380 1574h.01M380 1573h.01M379 1603h.01M379 1601h.01M377 1601h.01M378 1601h.01M335 1606h.01M334 1606h.01M334 1607h.01M335 1606h.01M334 1608h.01M334 1607h.01M333 1607h.01M335 1608h.01M333 1605h.01M333 1608h.01M332 1704h.01M335 1701h.01M333 1702h.01M336 1701h.01M334 1703h.01M311 1716h.01M310 1713h.01M312 1715h.01M309 1712h.01M309 1713h.01M311 1714h.01M308 1713h.01M312 1713h.01M309 1716h.01M309 1715h.01M311 1713h.01M309 1716h.01M311 1713h.01M302 1654h.01M315 1630h.01M315 1630h.01M314 1630h.01M382 1583h.01M383 1582h.01M380 1582h.01M380 1576h.01M380 1580h.01M382 1577h.01M384 1577h.01M381 1578h.01M368 1571h.01M367 1569h.01M366 1569h.01M368 1568h.01M367 1569h.01M366 1569h.01M368 1569h.01M367 1570h.01M364 1571h.01M367 1572h.01M366 1569h.01M328 1705h.01M330 1706h.01M332 1707h.01M330 1705h.01M329 1704h.01M328 1706h.01M330 1706h.01M337 1601h.01M337 1601h.01M336 1603h.01M337 1601h.01M339 1600h.01M340 1604h.01M340 1604h.01M339 1600h.01M315 1716h.01M312 1715h.01M313 1712h.01M315 1716h.01M314 1714h.01M378 1571h.01M380 1568h.01M378 1568h.01M377 1571h.01M379 1571h.01M378 1569h.01M376 1569h.01M378 1570h.01M376 1571h.01M379 1570h.01M356 1581h.01M356 1581h.01M355 1580h.01M374 1612h.01M373 1615h.01M374 1614h.01M375 1613h.01M373 1613h.01M375 1613h.01M372 1616h.01M372 1614h.01M373 1614h.01M376 1614h.01M361 1655h.01M363 1655h.01M361 1654h.01M364 1654h.01M363 1653h.01M360 1654h.01M363 1655h.01M361 1653h.01M362 1655h.01M372 1630h.01M372 1631h.01M369 1630h.01M370 1629h.01M368 1632h.01M371 1630h.01M370 1631h.01M369 1628h.01M370 1629h.01M372 1628h.01M370 1631h.01M371 1628h.01M368 1629h.01M371 1631h.01M369 1631h.01"/>
<path stroke="#58ff58" d="M350 1678h.01M348 1678h.01M351 1677h.01M349 1679h.01M348 1678h.01M349 1677h.01M351 1679h.01M351 1677h.01M380 1600h.01M380 1598h.01M379 1599h.01M378 1596h.01M378 1597h.01M380 1597h.01M379 1598h.01M344 1599h.01M341 1598h.01M342 1600h.01M342 1598h.01M343 1599h.01M341 1597h.01M341 1599h.01M362 1575h.01M362 1575h.01M362 1576h.01M362 1576h.01M361 1573h.01M362 1573h.01M362 1575h.01M360 1574h.01M361 1576h.01M362 1573h.01M361 1576h.01M357 1577h.01M358 1577h.01M359 1579h.01M358 1577h.01M356 1661h.01M358 1661h.01M359 1660h.01M358 1660h.01M356 1660h.01M358 1662h.01M359 1661h.01M357 1661h.01M357 1661h.01M352 1670h.01M355 1668h.01M354 1669h.01M354 1670h.01M355 1672h.01M354 1668h.01M353 1670h.01M298 1704h.01M299 1701h.01M300 1701h.01M299 1702h.01M300 1700h.01M297 1701h.01M297 1704h.01M297 1704h.01M372 1569h.01M368 1569h.01M370 1572h.01M371 1570h.01M370 1570h.01M370 1568h.01M374 1571h.01M374 1569h.01M376 1571h.01M372 1568h.01M376 1570h.01M373 1569h.01M372 1569h.01M373 1571h.01M375 1571h.01M373 1569h.01M368 1644h.01M367 1642h.01M368 1643h.01M367 1642h.01M365 1641h.01M367 1644h.01M299 1671h.01M300 1672h.01M296 1672h.01M344 1595h.01M346 1593h.01M346 1594h.01M345 1592h.01M345 1592h.01M346 1593h.01M345 1596h.01M344 1593h.01M373 1609h.01M376 1610h.01M374 1610h.01M375 1609h.01M343 1689h.01M340 1688h.01M341 1692h.01M341 1690h.01M376 1595h.01M379 1594h.01M379 1593h.01M380 1595h.01M377 1592h.01M380 1575h.01M377 1574h.01M380 1573h.01M378 1572h.01M311 1639h.01M312 1639h.01M311 1636h.01M307 1645h.01M307 1647h.01M305 1647h.01M368 1627h.01M370 1626h.01M371 1625h.01M371 1624h.01M372 1628h.01M372 1625h.01M369 1628h.01M318 1628h.01M317 1628h.01M319 1628h.01M318 1627h.01M319 1626h.01M317 1625h.01"/>
<path stroke="#80ff38" d="M379 1591h.01M379 1591h.01M376 1589h.01M379 1589h.01M377 1591h.01M376 1588h.01M351 1590h.01M349 1589h.01M348 1588h.01M349 1590h.01M351 1590h.01M349 1592h.01M350 1591h.01M349 1591h.01M380 1578h.01M379 1577h.01M379 1579h.01M377 1577h.01M379 1578h.01M375 1607h.01M374 1607h.01M373 1607h.01M375 1607h.01M376 1608h.01M372 1605h.01M372 1607h.01M372 1608h.01M375 1608h.01M364 1575h.01M365 1572h.01M365 1576h.01M368 1576h.01M366 1574h.01M365 1573h.01M365 1574h.01M366 1573h.01M367 1575h.01M366 1575h.01M364 1650h.01M361 1648h.01M364 1649h.01M363 1650h.01M362 1650h.01M362 1652h.01M376 1587h.01M380 1585h.01M379 1588h.01M367 1637h.01M366 1636h.01M367 1640h.01M367 1638h.01M370 1620h.01M372 1623h.01M369 1621h.01M368 1622h.01M372 1621h.01M369 1624h.01M377 1581h.01M378 1582h.01M380 1583h.01M378 1583h.01M378 1581h.01M378 1583h.01M379 1583h.01M380 1583h.01M378 1583h.01M377 1583h.01M376 1583h.01M377 1583h.01M379 1583h.01M376 1584h.01M380 1584h.01M323 1709h.01M324 1710h.01M322 1712h.01M320 1712h.01M376 1575h.01M372 1574h.01M373 1576h.01M375 1575h.01M376 1575h.01M372 1572h.01M372 1575h.01M376 1573h.01M376 1574h.01M374 1575h.01M374 1574h.01M376 1574h.01M373 1573h.01M373 1572h.01M372 1574h.01M376 1576h.01M322 1620h.01M321 1621h.01M323 1623h.01M321 1621h.01M320 1620h.01M321 1624h.01M323 1621h.01M320 1621h.01M323 1623h.01M322 1624h.01M323 1623h.01M323 1620h.01M355 1585h.01M353 1585h.01M352 1587h.01M352 1585h.01M355 1584h.01M353 1587h.01M356 1588h.01M355 1585h.01M355 1587h.01M354 1587h.01M354 1586h.01M303 1658h.01M301 1657h.01M302 1658h.01M299 1672h.01M299 1676h.01M300 1673h.01M296 1672h.01"/>
<path stroke="#98fc18" d="M369 1574h.01M368 1572h.01M371 1575h.01M371 1574h.01M370 1573h.01M371 1576h.01M369 1576h.01M344 1680h.01M346 1682h.01M346 1682h.01M364 1578h.01M363 1579h.01M361 1579h.01M360 1577h.01M360 1577h.01M363 1578h.01M361 1580h.01M363 1580h.01M360 1576h.01M362 1577h.01M361 1579h.01M363 1579h.01M363 1580h.01M362 1577h.01M362 1579h.01M356 1656h.01M358 1656h.01M357 1659h.01M359 1657h.01M356 1659h.01M357 1656h.01M359 1656h.01M359 1659h.01M358 1656h.01M358 1659h.01M308 1709h.01M304 1711h.01M308 1712h.01M306 1710h.01M305 1711h.01M305 1710h.01M308 1708h.01M306 1712h.01M304 1709h.01M307 1712h.01M307 1710h.01M306 1709h.01M305 1709h.01M372 1602h.01M373 1604h.01M373 1601h.01M375 1602h.01M372 1600h.01M373 1601h.01M374 1600h.01M373 1603h.01M356 1581h.01M358 1581h.01M359 1582h.01M356 1584h.01M357 1580h.01M357 1580h.01M357 1580h.01M357 1584h.01M357 1584h.01M325 1616h.01M326 1618h.01M328 1617h.01M326 1617h.01M325 1617h.01M325 1617h.01M328 1619h.01M299 1699h.01M300 1699h.01M296 1699h.01M298 1699h.01M336 1695h.01M336 1694h.01M339 1693h.01M337 1695h.01M338 1693h.01M371 1617h.01M371 1618h.01M371 1616h.01M370 1617h.01M369 1618h.01M371 1617h.01M372 1620h.01M332 1614h.01M332 1616h.01M329 1616h.01M329 1614h.01M330 1613h.01M329 1612h.01M330 1615h.01M334 1611h.01M333 1610h.01M335 1609h.01M334 1611h.01M333 1612h.01M335 1611h.01M333 1612h.01M336 1606h.01M339 1607h.01M340 1606h.01M340 1608h.01M339 1606h.01M339 1607h.01M338 1606h.01M340 1605h.01M339 1607h.01M340 1606h.01M301 1704h.01M302 1704h.01M301 1704h.01M301 1705h.01M304 1704h.01M303 1705h.01M303 1706h.01M301 1707h.01M354 1668h.01M353 1664h.01M355 1668h.01M355 1667h.01M355 1665h.01M352 1667h.01M352 1666h.01M356 1668h.01M352 1665h.01M352 1665h.01M353 1664h.01M354 1664h.01M351 1673h.01M350 1675h.01M351 1674h.01M350 1676h.01M349 1672h.01M348 1673h.01M365 1634h.01M368 1634h.01M368 1634h.01M366 1632h.01M366 1634h.01M367 1636h.01M368 1632h.01M344 1602h.01M343 1604h.01M340 1600h.01M341 1603h.01M373 1578h.01M376 1576h.01M375 1577h.01M376 1579h.01M375 1577h.01M376 1578h.01M375 1577h.01M375 1580h.01M375 1580h.01M375 1579h.01M373 1600h.01M374 1598h.01M374 1598h.01M374 1599h.01M373 1599h.01M374 1599h.01M374 1599h.01M374 1597h.01M374 1597h.01M372 1598h.01M346 1598h.01M346 1598h.01M345 1599h.01M344 1597h.01M346 1599h.01M344 1599h.01M347 1597h.01M348 1596h.01M361 1647h.01M362 1647h.01M362 1645h.01M360 1646h.01M361 1646h.01M362 1645h.01M361 1646h.01M364 1647h.01"/>
<path stroke="#b8ff00" d="M369 1615h.01M368 1614h.01M369 1612h.01M369 1613h.01M369 1614h.01M368 1614h.01M370 1612h.01M314 1633h.01M315 1636h.01M316 1633h.01M315 1634h.01M365 1578h.01M365 1577h.01M364 1578h.01M365 1578h.01M366 1576h.01M367 1578h.01M368 1580h.01M365 1580h.01M367 1580h.01M365 1579h.01M300 1677h.01M297 1679h.01M299 1680h.01M300 1678h.01M373 1593h.01M374 1593h.01M374 1594h.01M374 1593h.01M375 1595h.01M373 1593h.01M352 1596h.01M349 1592h.01M348 1593h.01M350 1596h.01M350 1596h.01M372 1580h.01M376 1583h.01M372 1583h.01M374 1581h.01M373 1583h.01M374 1584h.01M374 1580h.01M375 1583h.01M369 1578h.01M368 1578h.01M369 1576h.01M371 1578h.01M372 1576h.01M371 1580h.01M372 1578h.01M370 1578h.01M371 1578h.01M369 1577h.01M369 1579h.01M370 1576h.01M326 1705h.01M325 1707h.01M328 1704h.01M328 1705h.01M327 1706h.01M335 1699h.01M333 1699h.01M333 1700h.01M334 1699h.01M336 1700h.01M366 1630h.01M367 1631h.01M365 1631h.01M374 1589h.01M372 1590h.01M376 1589h.01M373 1590h.01M372 1591h.01M373 1591h.01M374 1590h.01M373 1590h.01M299 1693h.01M299 1693h.01M297 1692h.01M297 1693h.01M296 1695h.01M297 1692h.01M297 1696h.01M297 1693h.01M298 1694h.01M297 1694h.01M300 1693h.01M299 1696h.01M299 1695h.01M375 1587h.01M373 1584h.01M373 1585h.01M373 1586h.01M374 1588h.01M376 1587h.01M375 1585h.01M374 1584h.01M375 1584h.01M373 1586h.01M374 1585h.01M376 1584h.01M368 1612h.01M371 1609h.01M369 1609h.01M371 1609h.01M371 1608h.01M368 1610h.01M371 1608h.01M371 1608h.01M370 1610h.01M353 1590h.01M355 1592h.01M352 1590h.01M354 1588h.01M353 1590h.01M354 1592h.01M356 1591h.01M353 1592h.01M353 1589h.01M352 1592h.01M355 1592h.01M353 1591h.01M354 1590h.01M317 1711h.01M317 1709h.01M319 1710h.01M317 1710h.01M318 1710h.01M319 1711h.01M318 1710h.01M319 1709h.01M319 1710h.01M364 1584h.01M361 1583h.01M364 1583h.01M362 1583h.01M363 1582h.01M361 1582h.01M360 1580h.01M361 1580h.01M361 1582h.01M305 1649h.01M307 1651h.01M306 1651h.01M308 1651h.01M307 1651h.01M360 1656h.01M359 1655h.01M359 1654h.01M357 1655h.01M358 1655h.01M357 1655h.01M358 1652h.01M358 1653h.01M359 1654h.01M331 1700h.01M331 1701h.01M329 1700h.01M329 1702h.01M330 1701h.01M330 1701h.01M330 1702h.01M357 1586h.01M356 1585h.01M358 1588h.01M359 1587h.01M359 1585h.01M359 1586h.01M357 1586h.01M308 1712h.01M310 1711h.01M312 1710h.01M312 1710h.01M312 1709h.01"/>
<path stroke="#ccff00" d="M299 1683h.01M299 1681h.01M299 1681h.01M300 1680h.01M300 1681h.01M299 1681h.01M299 1681h.01M344 1685h.01M343 1686h.01M362 1640h.01M362 1641h.01M361 1642h.01M361 1644h.01M361 1642h.01M364 1640h.01M361 1641h.01M364 1640h.01M363 1641h.01M361 1644h.01M301 1662h.01M301 1663h.01M300 1660h.01M303 1661h.01M312 1641h.01M311 1643h.01M308 1643h.01M310 1642h.01M371 1607h.01M371 1605h.01M372 1606h.01M370 1604h.01M370 1607h.01M371 1604h.01M364 1627h.01M367 1626h.01M367 1625h.01M367 1625h.01M366 1624h.01M365 1627h.01M299 1692h.01M297 1690h.01M300 1691h.01M298 1690h.01M298 1688h.01M299 1692h.01M299 1691h.01M300 1691h.01M296 1690h.01M299 1688h.01M369 1581h.01M371 1582h.01M371 1582h.01M370 1582h.01M372 1581h.01M370 1581h.01M370 1582h.01M369 1581h.01M371 1582h.01M371 1581h.01M369 1583h.01M371 1583h.01M369 1580h.01M370 1584h.01M368 1584h.01M299 1687h.01M300 1684h.01M299 1685h.01M297 1686h.01M298 1687h.01M297 1687h.01M297 1684h.01M298 1685h.01M298 1687h.01M300 1685h.01M300 1686h.01M367 1582h.01M367 1583h.01M366 1583h.01M365 1582h.01M365 1582h.01M365 1583h.01M365 1580h.01M366 1582h.01M365 1581h.01M352 1661h.01M352 1663h.01M353 1662h.01M353 1662h.01M355 1660h.01M313 1712h.01M314 1708h.01M313 1708h.01M315 1708h.01M314 1712h.01M315 1710h.01M314 1712h.01M312 1710h.01M315 1710h.01M313 1711h.01M313 1712h.01M370 1601h.01M369 1603h.01M368 1601h.01M370 1604h.01M372 1602h.01M370 1603h.01M370 1601h.01M368 1601h.01M320 1630h.01M318 1631h.01M317 1631h.01M320 1628h.01M316 1630h.01M318 1630h.01M319 1629h.01M318 1628h.01M317 1629h.01M318 1628h.01M317 1631h.01M367 1622h.01M368 1624h.01M364 1622h.01M367 1624h.01M366 1622h.01M365 1622h.01M365 1623h.01M366 1622h.01M367 1621h.01M364 1620h.01M368 1623h.01M346 1679h.01M345 1680h.01M347 1678h.01M346 1677h.01M346 1676h.01M348 1679h.01M346 1679h.01M372 1587h.01M372 1586h.01M370 1587h.01M370 1586h.01M371 1588h.01M369 1588h.01M371 1585h.01M371 1588h.01M370 1586h.01M370 1587h.01M371 1586h.01M371 1587h.01M371 1585h.01M369 1587h.01M369 1584h.01M350 1671h.01M351 1670h.01M350 1671h.01M351 1669h.01M349 1672h.01M349 1672h.01M349 1670h.01"/>
<path stroke="#e8ff00" d="M370 1597h.01M372 1599h.01M372 1600h.01M369 1596h.01M368 1599h.01M371 1598h.01M347 1604h.01M347 1602h.01M345 1601h.01M346 1604h.01M346 1604h.01M346 1601h.01M347 1604h.01M348 1603h.01M348 1600h.01M345 1602h.01M346 1600h.01M344 1604h.01M341 1605h.01M342 1605h.01M342 1608h.01M343 1606h.01M344 1605h.01M350 1598h.01M351 1599h.01M352 1596h.01M350 1597h.01M352 1596h.01M350 1597h.01M351 1599h.01M349 1598h.01M363 1587h.01M362 1584h.01M364 1586h.01M360 1586h.01M362 1586h.01M363 1585h.01M362 1588h.01M362 1585h.01M360 1638h.01M362 1638h.01M364 1639h.01M363 1640h.01M362 1639h.01M363 1639h.01M364 1639h.01M364 1639h.01M364 1639h.01M369 1590h.01M369 1588h.01M370 1592h.01M369 1592h.01M372 1588h.01M369 1588h.01M372 1589h.01M370 1590h.01M369 1588h.01M370 1589h.01M371 1590h.01M370 1594h.01M370 1594h.01M369 1593h.01M370 1595h.01M372 1595h.01M369 1595h.01M368 1594h.01M368 1593h.01M369 1596h.01M368 1593h.01M371 1596h.01M369 1594h.01M369 1594h.01M370 1595h.01M355 1594h.01M356 1592h.01M356 1595h.01M355 1594h.01M356 1595h.01M338 1611h.01M337 1609h.01M338 1611h.01M340 1610h.01M337 1612h.01M359 1590h.01M359 1590h.01M358 1591h.01M360 1589h.01M359 1591h.01M359 1592h.01M360 1589h.01M356 1589h.01M359 1591h.01M357 1590h.01M358 1590h.01M357 1592h.01M359 1589h.01M357 1590h.01M359 1588h.01M359 1651h.01M358 1651h.01M360 1650h.01M357 1649h.01M358 1649h.01M357 1650h.01M357 1648h.01M357 1649h.01M358 1652h.01M359 1648h.01M358 1652h.01M366 1618h.01M368 1616h.01M366 1616h.01M366 1617h.01M368 1619h.01M368 1618h.01M366 1619h.01M366 1619h.01M303 1700h.01M303 1700h.01M301 1703h.01M301 1704h.01M303 1703h.01M300 1701h.01M302 1703h.01M304 1703h.01M304 1702h.01M303 1701h.01M303 1701h.01M301 1702h.01M304 1701h.01M304 1701h.01M301 1700h.01M365 1587h.01M366 1586h.01M366 1588h.01M368 1585h.01M365 1584h.01M366 1585h.01M365 1585h.01M366 1586h.01M367 1588h.01M367 1587h.01M365 1584h.01M365 1584h.01M364 1586h.01M367 1586h.01M323 1627h.01M322 1628h.01M323 1627h.01M323 1628h.01M336 1615h.01M334 1614h.01M332 1612h.01M334 1613h.01M336 1613h.01M333 1615h.01M333 1613h.01M334 1614h.01M334 1616h.01M366 1613h.01M364 1616h.01M367 1613h.01M367 1612h.01M365 1614h.01M364 1614h.01M365 1613h.01M365 1614h.01M364 1613h.01M329 1617h.01M329 1617h.01M332 1618h.01M332 1619h.01M330 1617h.01M328 1617h.01M340 1692h.01M338 1690h.01M339 1689h.01M338 1691h.01M324 1620h.01M327 1622h.01M328 1623h.01M327 1622h.01M328 1623h.01M327 1622h.01M328 1622h.01M326 1622h.01M324 1624h.01M324 1621h.01M326 1623h.01M326 1622h.01"/>
<path stroke="#ffff00" d="M306 1707h.01M305 1704h.01M305 1707h.01M307 1706h.01M306 1704h.01M307 1705h.01M304 1704h.01M306 1707h.01M307 1704h.01M306 1706h.01M305 1705h.01M306 1705h.01M307 1706h.01M305 1704h.01M304 1706h.01M364 1632h.01M362 1636h.01M360 1634h.01M360 1634h.01M364 1634h.01M360 1635h.01M364 1633h.01M364 1591h.01M367 1589h.01M365 1590h.01M367 1592h.01M367 1590h.01M367 1589h.01M364 1589h.01M368 1592h.01M368 1592h.01M367 1590h.01M363 1591h.01M360 1589h.01M361 1589h.01M363 1592h.01M362 1592h.01M360 1589h.01M360 1589h.01M362 1591h.01M360 1591h.01M361 1592h.01M360 1592h.01M364 1592h.01M363 1592h.01M362 1591h.01M361 1589h.01M363 1592h.01M363 1590h.01M364 1592h.01M361 1591h.01M364 1589h.01M363 1591h.01M301 1667h.01M303 1665h.01M303 1666h.01M303 1664h.01M303 1666h.01M301 1665h.01M303 1666h.01M302 1665h.01M300 1665h.01M301 1668h.01M365 1611h.01M365 1612h.01M366 1611h.01M366 1611h.01M366 1610h.01M365 1611h.01M367 1609h.01M367 1611h.01M364 1609h.01M365 1611h.01M366 1608h.01M365 1609h.01M367 1609h.01M367 1610h.01M368 1609h.01M364 1610h.01M365 1612h.01M354 1658h.01M354 1658h.01M352 1656h.01M354 1658h.01M321 1708h.01M322 1705h.01M322 1707h.01M320 1705h.01M322 1708h.01M322 1706h.01M365 1606h.01M368 1605h.01M365 1607h.01M368 1605h.01M365 1608h.01M368 1607h.01M364 1604h.01M365 1606h.01M367 1605h.01M365 1607h.01M366 1605h.01M367 1592h.01M366 1593h.01M367 1595h.01M365 1593h.01M364 1594h.01M364 1593h.01M365 1594h.01M366 1595h.01M366 1593h.01M364 1595h.01M366 1595h.01M366 1593h.01M365 1595h.01M368 1594h.01M368 1592h.01M367 1595h.01M367 1594h.01M366 1594h.01M357 1592h.01M356 1594h.01M358 1595h.01M359 1593h.01M356 1593h.01M356 1592h.01M358 1594h.01M358 1596h.01M359 1593h.01M357 1595h.01M357 1593h.01M360 1595h.01M304 1654h.01M308 1652h.01M308 1654h.01M307 1653h.01M306 1654h.01M364 1603h.01M364 1602h.01M367 1600h.01M368 1603h.01M367 1601h.01M368 1604h.01M367 1600h.01M364 1600h.01M366 1602h.01M364 1601h.01M366 1599h.01M365 1599h.01M365 1599h.01M367 1599h.01M365 1599h.01M367 1598h.01M366 1598h.01M367 1598h.01M368 1597h.01M368 1600h.01M365 1598h.01M364 1600h.01M367 1598h.01M366 1598h.01M356 1647h.01M359 1647h.01M358 1648h.01M358 1646h.01M359 1645h.01M359 1647h.01M359 1646h.01M353 1598h.01M354 1598h.01M354 1597h.01M354 1599h.01M354 1599h.01M353 1598h.01M356 1597h.01M354 1598h.01M316 1639h.01M314 1639h.01M314 1639h.01M315 1639h.01M316 1640h.01M314 1639h.01M313 1636h.01M312 1638h.01M313 1637h.01M363 1629h.01M364 1631h.01M361 1630h.01M363 1629h.01M361 1629h.01M363 1629h.01M362 1631h.01M348 1601h.01M350 1601h.01M351 1603h.01M350 1602h.01M352 1601h.01M348 1601h.01M351 1603h.01M348 1604h.01M350 1603h.01M350 1601h.01M349 1601h.01M350 1603h.01M350 1601h.01M350 1603h.01M351 1602h.01M363 1594h.01M364 1596h.01M360 1593h.01M364 1595h.01M363 1593h.01M362 1594h.01M362 1592h.01"/>
<path stroke="#fff000" d="M352 1667h.01M351 1665h.01M350 1668h.01M349 1664h.01M350 1665h.01M346 1606h.01M347 1607h.01M344 1605h.01M346 1604h.01M347 1606h.01M344 1608h.01M348 1607h.01M345 1605h.01M345 1606h.01M348 1604h.01M341 1680h.01M343 1683h.01M343 1683h.01M343 1683h.01M343 1682h.01M341 1680h.01M341 1684h.01M342 1684h.01M343 1682h.01M343 1684h.01M341 1682h.01M341 1680h.01M343 1680h.01M334 1695h.01M335 1694h.01M334 1693h.01M335 1694h.01M360 1628h.01M362 1625h.01M360 1627h.01M361 1627h.01M361 1627h.01M362 1627h.01M363 1625h.01M364 1626h.01M310 1645h.01M311 1646h.01M308 1647h.01M311 1645h.01M311 1647h.01M311 1646h.01M310 1646h.01M310 1646h.01M347 1675h.01M348 1676h.01M345 1675h.01M363 1598h.01M361 1597h.01M364 1596h.01M362 1599h.01M362 1600h.01M361 1599h.01M362 1599h.01M359 1599h.01M357 1598h.01M359 1599h.01M357 1597h.01M357 1597h.01M357 1598h.01M356 1599h.01M357 1598h.01M344 1610h.01M342 1611h.01M341 1612h.01M340 1609h.01M341 1611h.01M342 1611h.01M342 1608h.01M343 1611h.01M341 1608h.01M342 1612h.01M341 1612h.01M341 1612h.01M344 1611h.01M341 1610h.01M341 1610h.01M361 1622h.01M364 1623h.01M360 1620h.01M363 1623h.01M360 1624h.01M361 1622h.01M362 1621h.01M363 1623h.01M358 1641h.01M360 1642h.01M302 1696h.01M301 1698h.01M302 1696h.01M303 1698h.01M303 1700h.01M303 1698h.01M303 1697h.01M300 1699h.01M302 1699h.01M302 1696h.01M303 1698h.01M302 1698h.01M304 1700h.01M304 1698h.01M302 1700h.01M301 1700h.01M300 1698h.01M304 1697h.01M327 1701h.01M326 1702h.01M327 1702h.01M327 1702h.01M324 1702h.01M328 1701h.01M325 1703h.01M327 1704h.01M327 1702h.01M326 1704h.01M362 1602h.01M361 1602h.01M362 1603h.01M362 1604h.01M356 1654h.01M355 1654h.01M356 1654h.01M356 1653h.01M354 1654h.01M354 1653h.01M353 1655h.01M352 1655h.01M353 1655h.01M354 1655h.01M353 1653h.01M355 1655h.01M353 1653h.01M354 1655h.01M302 1669h.01M304 1669h.01M303 1672h.01M303 1671h.01M354 1601h.01M356 1601h.01M353 1602h.01M355 1603h.01M353 1601h.01M355 1601h.01"/>
<path stroke="#ffe000" d="M329 1696h.01M332 1697h.01M331 1697h.01M328 1696h.01M329 1697h.01M330 1699h.01M331 1698h.01M332 1697h.01M331 1697h.01M329 1697h.01M330 1697h.01M330 1700h.01M330 1698h.01M332 1699h.01M360 1617h.01M363 1620h.01M363 1618h.01M362 1618h.01M360 1619h.01M363 1618h.01M362 1617h.01M361 1620h.01M362 1606h.01M364 1605h.01M361 1604h.01M362 1607h.01M362 1606h.01M363 1606h.01M363 1605h.01M360 1607h.01M364 1607h.01M363 1607h.01M339 1613h.01M336 1615h.01M337 1615h.01M338 1614h.01M339 1614h.01M339 1612h.01M340 1613h.01M337 1614h.01M363 1614h.01M361 1615h.01M362 1613h.01M363 1615h.01M361 1612h.01M362 1612h.01M361 1616h.01M363 1614h.01M362 1612h.01M363 1615h.01M363 1615h.01M360 1612h.01M362 1613h.01M363 1613h.01M362 1613h.01M361 1612h.01M363 1612h.01M361 1610h.01M361 1611h.01M364 1612h.01M361 1611h.01M362 1611h.01M364 1611h.01M364 1609h.01M359 1600h.01M356 1600h.01M359 1601h.01M358 1601h.01M357 1602h.01M359 1601h.01M309 1705h.01M308 1705h.01M309 1705h.01M310 1708h.01M308 1706h.01M311 1706h.01M312 1705h.01M311 1705h.01M310 1706h.01M309 1706h.01M309 1705h.01M309 1707h.01M310 1704h.01M309 1705h.01M310 1707h.01M308 1704h.01M310 1707h.01M318 1704h.01M318 1707h.01M316 1705h.01M319 1706h.01M320 1706h.01M318 1707h.01M316 1705h.01M318 1705h.01M317 1705h.01M317 1705h.01M316 1705h.01M320 1705h.01M318 1707h.01M320 1704h.01M319 1706h.01M319 1634h.01M319 1636h.01M320 1634h.01M318 1633h.01M318 1635h.01M320 1633h.01M318 1634h.01M319 1635h.01M320 1636h.01M316 1635h.01M349 1606h.01M352 1608h.01M351 1606h.01M352 1607h.01M351 1607h.01M352 1604h.01M349 1605h.01M348 1605h.01M359 1636h.01M359 1640h.01M356 1638h.01M356 1638h.01M359 1637h.01M359 1639h.01M359 1636h.01M358 1637h.01M359 1638h.01M358 1638h.01M357 1637h.01M356 1639h.01M335 1617h.01M334 1618h.01M332 1618h.01M335 1617h.01M334 1620h.01M332 1619h.01M333 1619h.01M333 1620h.01M333 1619h.01M333 1617h.01M333 1617h.01M358 1605h.01M357 1604h.01M357 1608h.01M357 1608h.01M357 1606h.01M357 1607h.01M359 1607h.01M358 1607h.01M357 1607h.01M357 1605h.01M357 1605h.01"/>
<path stroke="#ffd100" d="M351 1660h.01M351 1661h.01M351 1661h.01M350 1662h.01M349 1661h.01M350 1663h.01M349 1661h.01M351 1661h.01M353 1605h.01M356 1606h.01M354 1604h.01M353 1606h.01M355 1606h.01M353 1605h.01M354 1607h.01M353 1606h.01M315 1706h.01M312 1706h.01M314 1708h.01M314 1707h.01M315 1705h.01M314 1705h.01M315 1708h.01M312 1704h.01M314 1705h.01M314 1708h.01M313 1707h.01M314 1707h.01M312 1706h.01M312 1707h.01M316 1707h.01M314 1705h.01M315 1707h.01M315 1707h.01M312 1706h.01M315 1705h.01M314 1708h.01M313 1706h.01M312 1707h.01M308 1658h.01M307 1657h.01M305 1660h.01M308 1658h.01M307 1657h.01M305 1657h.01M306 1657h.01M346 1612h.01M347 1609h.01M345 1609h.01M346 1611h.01M347 1610h.01M345 1608h.01M346 1609h.01M338 1686h.01M338 1685h.01M336 1684h.01M338 1684h.01M339 1686h.01M337 1686h.01M337 1685h.01M339 1686h.01M339 1685h.01M332 1621h.01M329 1621h.01M331 1622h.01M331 1621h.01M330 1623h.01M329 1623h.01M331 1621h.01M332 1622h.01M328 1620h.01M329 1622h.01M331 1622h.01M331 1623h.01M353 1649h.01M353 1648h.01M353 1650h.01M355 1652h.01M321 1631h.01M324 1629h.01M321 1629h.01M320 1630h.01M321 1630h.01M321 1629h.01M320 1632h.01M323 1632h.01M324 1631h.01M320 1632h.01M304 1673h.01M302 1675h.01M303 1675h.01M300 1672h.01M303 1674h.01M304 1675h.01M302 1674h.01M302 1672h.01M302 1674h.01M303 1673h.01M304 1673h.01M300 1673h.01M302 1672h.01M359 1633h.01M358 1636h.01M358 1632h.01M360 1633h.01M357 1636h.01M359 1634h.01M358 1633h.01M356 1634h.01M358 1633h.01M360 1635h.01M306 1703h.01M306 1702h.01M305 1700h.01M306 1704h.01M305 1704h.01M306 1704h.01M305 1704h.01M307 1702h.01M307 1704h.01M307 1703h.01M305 1700h.01M308 1701h.01M307 1703h.01M359 1609h.01M358 1610h.01M359 1610h.01M358 1611h.01M358 1610h.01M358 1611h.01M359 1611h.01M358 1611h.01M356 1612h.01M358 1609h.01M359 1610h.01M358 1612h.01M325 1628h.01M327 1628h.01M326 1627h.01M327 1627h.01M325 1626h.01M326 1627h.01M327 1625h.01M303 1693h.01M304 1695h.01M302 1692h.01M302 1693h.01M301 1696h.01M303 1694h.01M301 1692h.01M300 1694h.01M302 1694h.01M301 1695h.01M303 1695h.01M301 1696h.01M302 1694h.01M303 1695h.01M302 1693h.01M301 1696h.01M301 1693h.01M347 1670h.01M347 1671h.01M347 1669h.01M345 1669h.01M346 1668h.01M347 1669h.01M348 1669h.01M358 1614h.01M358 1614h.01M359 1612h.01M357 1613h.01M357 1615h.01M356 1612h.01M357 1614h.01M360 1630h.01M359 1630h.01M356 1630h.01M356 1628h.01M359 1631h.01M359 1628h.01M357 1629h.01M357 1630h.01M357 1631h.01M357 1629h.01M343 1615h.01M341 1613h.01M343 1612h.01M341 1615h.01M341 1615h.01M342 1616h.01"/>
<path stroke="#ffc100" d="M350 1609h.01M350 1609h.01M349 1612h.01M349 1608h.01M352 1610h.01M348 1610h.01M351 1609h.01M343 1677h.01M342 1678h.01M344 1680h.01M344 1679h.01M341 1677h.01M344 1679h.01M342 1679h.01M343 1677h.01M356 1611h.01M352 1609h.01M354 1612h.01M355 1609h.01M352 1611h.01M353 1611h.01M353 1608h.01M355 1608h.01M356 1608h.01M358 1617h.01M360 1616h.01M357 1618h.01M360 1617h.01M357 1616h.01M359 1618h.01M358 1619h.01M357 1617h.01M360 1616h.01M357 1617h.01M359 1627h.01M357 1628h.01M359 1627h.01M359 1625h.01M360 1625h.01M357 1626h.01M359 1625h.01M358 1626h.01M357 1624h.01M356 1627h.01M358 1626h.01M360 1625h.01M360 1627h.01M314 1644h.01M313 1643h.01M313 1644h.01M315 1641h.01M313 1642h.01M314 1642h.01M316 1640h.01M315 1643h.01M314 1644h.01M313 1642h.01M315 1641h.01M314 1643h.01M314 1641h.01M316 1643h.01M314 1641h.01M314 1641h.01M356 1621h.01M358 1623h.01M359 1621h.01M358 1621h.01M357 1621h.01M360 1624h.01M357 1623h.01M356 1624h.01M304 1679h.01M301 1679h.01M301 1678h.01M302 1678h.01M302 1678h.01M301 1678h.01M303 1677h.01M301 1677h.01M302 1678h.01M301 1678h.01M304 1678h.01M303 1678h.01M353 1644h.01M354 1648h.01M355 1646h.01M354 1647h.01M356 1645h.01M353 1644h.01M310 1648h.01M311 1649h.01M311 1652h.01M312 1650h.01M311 1651h.01M308 1651h.01M311 1650h.01M309 1649h.01M312 1650h.01M311 1650h.01M310 1650h.01M312 1651h.01M309 1649h.01M311 1652h.01M312 1648h.01M302 1689h.01M302 1689h.01M304 1690h.01M300 1689h.01M301 1690h.01M303 1691h.01M300 1691h.01M301 1692h.01M304 1689h.01M350 1657h.01M351 1658h.01M350 1658h.01M352 1660h.01M337 1619h.01M336 1616h.01M340 1618h.01M339 1619h.01M337 1619h.01M337 1618h.01M339 1617h.01M340 1619h.01M337 1619h.01M338 1619h.01M338 1617h.01M339 1618h.01M337 1619h.01M334 1688h.01M333 1690h.01M332 1689h.01M332 1691h.01M332 1688h.01M332 1691h.01M321 1704h.01M321 1702h.01M320 1702h.01M320 1702h.01M321 1703h.01M323 1700h.01M320 1700h.01M323 1701h.01M322 1700h.01M321 1702h.01M322 1703h.01M323 1701h.01"/>
<path stroke="#ffb200" d="M303 1682h.01M301 1682h.01M304 1683h.01M301 1684h.01M303 1683h.01M301 1681h.01M301 1683h.01M355 1616h.01M354 1616h.01M354 1615h.01M352 1615h.01M355 1614h.01M353 1612h.01M354 1614h.01M354 1614h.01M354 1615h.01M354 1615h.01M347 1613h.01M346 1614h.01M347 1614h.01M345 1615h.01M347 1613h.01M344 1614h.01M347 1615h.01M348 1616h.01M344 1614h.01M348 1614h.01M300 1686h.01M301 1685h.01M302 1686h.01M300 1684h.01M302 1685h.01M302 1685h.01M300 1686h.01M304 1688h.01M303 1687h.01M303 1685h.01M306 1663h.01M307 1662h.01M308 1663h.01M306 1662h.01M308 1661h.01M306 1663h.01M308 1663h.01M308 1662h.01M305 1662h.01M350 1614h.01M351 1614h.01M351 1613h.01M349 1616h.01M351 1613h.01M348 1616h.01M349 1612h.01M348 1613h.01M352 1614h.01M353 1640h.01M352 1643h.01M355 1642h.01M354 1643h.01M352 1642h.01M356 1641h.01M353 1642h.01M356 1641h.01M355 1616h.01M354 1618h.01M353 1616h.01M354 1617h.01M353 1618h.01M355 1616h.01M354 1619h.01M354 1616h.01M354 1618h.01M356 1620h.01M356 1618h.01M345 1665h.01M348 1668h.01M345 1667h.01M347 1665h.01M345 1667h.01M333 1620h.01M335 1624h.01M335 1622h.01M335 1623h.01M335 1620h.01M332 1622h.01M332 1623h.01M334 1621h.01M334 1623h.01"/>
<path stroke="#ffa200" d="M329 1692h.01M332 1693h.01M329 1692h.01M329 1694h.01M328 1693h.01M330 1695h.01M330 1692h.01M331 1696h.01M332 1695h.01M331 1695h.01M332 1696h.01M331 1696h.01M327 1699h.01M325 1699h.01M324 1699h.01M327 1699h.01M325 1697h.01M318 1637h.01M320 1640h.01M316 1639h.01M319 1636h.01M317 1639h.01M319 1639h.01M319 1638h.01M318 1639h.01M317 1640h.01M317 1636h.01M319 1639h.01M350 1653h.01M350 1655h.01M353 1637h.01M354 1637h.01M354 1638h.01M354 1638h.01M355 1636h.01M355 1638h.01M311 1701h.01M309 1700h.01M310 1701h.01M312 1704h.01M312 1704h.01M309 1704h.01M310 1700h.01M309 1700h.01M309 1701h.01M310 1704h.01M309 1701h.01M311 1704h.01M310 1703h.01M311 1701h.01M311 1703h.01M310 1703h.01M311 1701h.01M343 1616h.01M340 1616h.01M342 1620h.01M344 1618h.01M342 1616h.01M343 1617h.01M342 1617h.01M341 1618h.01M344 1616h.01M343 1617h.01M341 1619h.01M353 1620h.01M353 1621h.01M353 1621h.01M355 1623h.01M354 1620h.01M356 1620h.01M354 1622h.01M353 1621h.01M354 1622h.01M355 1622h.01M352 1621h.01M353 1623h.01M355 1624h.01M355 1620h.01M354 1620h.01M353 1620h.01M307 1697h.01M305 1697h.01M305 1699h.01M306 1696h.01M307 1700h.01M307 1696h.01M306 1698h.01M307 1697h.01M308 1700h.01M307 1697h.01M305 1698h.01M340 1681h.01M339 1683h.01M336 1683h.01M337 1682h.01M337 1683h.01M337 1683h.01M339 1681h.01M338 1681h.01M336 1683h.01M337 1684h.01M338 1682h.01M336 1681h.01M344 1675h.01M343 1673h.01M341 1675h.01M341 1673h.01M343 1673h.01M342 1676h.01M342 1672h.01M352 1635h.01M354 1634h.01M354 1633h.01M356 1635h.01M353 1635h.01M354 1634h.01M356 1634h.01M355 1633h.01M355 1633h.01M355 1632h.01M354 1626h.01M354 1624h.01M355 1627h.01M354 1628h.01M353 1625h.01M355 1626h.01M352 1627h.01M330 1627h.01M331 1628h.01M332 1627h.01M330 1627h.01M328 1626h.01M332 1626h.01M331 1625h.01M332 1627h.01M332 1626h.01M329 1626h.01M352 1620h.01M350 1617h.01M350 1617h.01M349 1620h.01M350 1618h.01M351 1620h.01M350 1620h.01M349 1620h.01M352 1617h.01M350 1618h.01M351 1619h.01M348 1619h.01M350 1617h.01M351 1618h.01M349 1618h.01M353 1629h.01M353 1631h.01M354 1629h.01M355 1631h.01M353 1630h.01M352 1632h.01M353 1631h.01M354 1631h.01M319 1701h.01M316 1703h.01M319 1700h.01M316 1703h.01M318 1702h.01M319 1701h.01M318 1702h.01M319 1703h.01M318 1704h.01M317 1702h.01M318 1701h.01M347 1619h.01M348 1617h.01M344 1619h.01M346 1617h.01M344 1619h.01M347 1618h.01M346 1616h.01"/>
<path stroke="#ff9300" d="M321 1633h.01M322 1633h.01M322 1632h.01M322 1632h.01M324 1635h.01M323 1636h.01M322 1635h.01M324 1636h.01M322 1634h.01M323 1635h.01M322 1633h.01M321 1636h.01M323 1633h.01M322 1634h.01M324 1632h.01M323 1632h.01M322 1632h.01M321 1635h.01M322 1632h.01M321 1634h.01M321 1634h.01M325 1628h.01M325 1629h.01M325 1628h.01M326 1630h.01M326 1628h.01M326 1630h.01M325 1631h.01M324 1629h.01M328 1630h.01M328 1630h.01M328 1631h.01M325 1630h.01M324 1630h.01M327 1629h.01M325 1630h.01M327 1630h.01M326 1631h.01M314 1701h.01M315 1703h.01M316 1700h.01M314 1704h.01M316 1704h.01M316 1703h.01M314 1702h.01M315 1701h.01M313 1703h.01M314 1703h.01M314 1702h.01M313 1702h.01M315 1702h.01M313 1700h.01M314 1704h.01M313 1704h.01M314 1703h.01M351 1651h.01M349 1649h.01M351 1651h.01M351 1650h.01M348 1649h.01M350 1652h.01M348 1650h.01M349 1649h.01M312 1653h.01M310 1656h.01M308 1656h.01M309 1656h.01M311 1654h.01M310 1654h.01M311 1655h.01M312 1655h.01M308 1654h.01M311 1653h.01M309 1654h.01M309 1656h.01M308 1655h.01M312 1655h.01M309 1652h.01M312 1655h.01M312 1654h.01M306 1665h.01M305 1666h.01M305 1664h.01M306 1664h.01M315 1646h.01M314 1648h.01M314 1648h.01M314 1644h.01M315 1647h.01M312 1646h.01M315 1647h.01M315 1646h.01M314 1646h.01M313 1644h.01M316 1645h.01M315 1647h.01M314 1647h.01M339 1622h.01M338 1623h.01M339 1623h.01M336 1621h.01M337 1622h.01M337 1622h.01M340 1623h.01M338 1624h.01M340 1624h.01M339 1623h.01M339 1622h.01M339 1623h.01M339 1623h.01M340 1623h.01M346 1662h.01M345 1661h.01M346 1663h.01M346 1661h.01M344 1661h.01M345 1660h.01M344 1664h.01M346 1661h.01M344 1661h.01M351 1620h.01M349 1622h.01M350 1620h.01M351 1620h.01M351 1624h.01M351 1621h.01M350 1620h.01M350 1621h.01M351 1620h.01M349 1623h.01M351 1623h.01M349 1622h.01M350 1624h.01M351 1621h.01M349 1622h.01"/>
<path stroke="#ff8300" d="M351 1647h.01M350 1644h.01M351 1647h.01M348 1648h.01M351 1648h.01M349 1646h.01M340 1623h.01M341 1620h.01M341 1621h.01M341 1620h.01M342 1624h.01M342 1620h.01M342 1620h.01M344 1620h.01M343 1621h.01M341 1621h.01M343 1623h.01M341 1623h.01M342 1622h.01M343 1620h.01M347 1622h.01M348 1623h.01M344 1621h.01M348 1621h.01M345 1622h.01M347 1621h.01M346 1621h.01M347 1620h.01M346 1624h.01M345 1623h.01M344 1624h.01M304 1695h.01M305 1693h.01M305 1694h.01M308 1694h.01M307 1694h.01M307 1693h.01M305 1694h.01M305 1695h.01M306 1694h.01M305 1693h.01M306 1694h.01M306 1693h.01M305 1693h.01M306 1695h.01M348 1628h.01M352 1628h.01M351 1626h.01M349 1626h.01M351 1626h.01M350 1626h.01M352 1624h.01M350 1626h.01M350 1624h.01M342 1672h.01M341 1670h.01M342 1672h.01M342 1671h.01M341 1669h.01M340 1670h.01M341 1670h.01M340 1670h.01M341 1671h.01M334 1628h.01M335 1628h.01M333 1627h.01M336 1624h.01M335 1628h.01M333 1626h.01M336 1627h.01M336 1627h.01M333 1624h.01"/>
<path stroke="#ff7400" d="M349 1641h.01M349 1641h.01M350 1643h.01M350 1642h.01M349 1644h.01M351 1641h.01M350 1642h.01M348 1644h.01M348 1640h.01M350 1642h.01M349 1642h.01M352 1642h.01M306 1671h.01M306 1669h.01M307 1671h.01M307 1671h.01M304 1668h.01M307 1671h.01M307 1668h.01M308 1668h.01M306 1672h.01M350 1629h.01M351 1631h.01M349 1631h.01M350 1632h.01M349 1631h.01M348 1631h.01M349 1629h.01M350 1632h.01M322 1700h.01M321 1697h.01M321 1698h.01M321 1697h.01M322 1696h.01M321 1699h.01M320 1700h.01M323 1699h.01M322 1699h.01M323 1699h.01M322 1697h.01M321 1697h.01M323 1696h.01M323 1699h.01M322 1696h.01M322 1696h.01M321 1698h.01M348 1659h.01M347 1658h.01M345 1656h.01M344 1658h.01M347 1657h.01M345 1656h.01M337 1679h.01M336 1679h.01M336 1677h.01M339 1677h.01M337 1679h.01M337 1677h.01M338 1676h.01M338 1676h.01M338 1676h.01M336 1679h.01M338 1679h.01M351 1637h.01M351 1636h.01M350 1636h.01M351 1638h.01M351 1639h.01M350 1638h.01M352 1640h.01M348 1637h.01M352 1636h.01M350 1636h.01M350 1634h.01M349 1633h.01M349 1635h.01M349 1633h.01M352 1634h.01M350 1634h.01M350 1632h.01M351 1634h.01M352 1632h.01M349 1634h.01M352 1634h.01M350 1635h.01M308 1699h.01M311 1697h.01M312 1698h.01M309 1697h.01M311 1698h.01M309 1700h.01M311 1699h.01M311 1699h.01M310 1698h.01M311 1697h.01M309 1699h.01M309 1698h.01M310 1697h.01M308 1699h.01M312 1696h.01M309 1699h.01M312 1699h.01M311 1699h.01M309 1699h.01M319 1641h.01M318 1641h.01M318 1642h.01M319 1641h.01M320 1643h.01M320 1640h.01M319 1642h.01M319 1642h.01M317 1644h.01M320 1641h.01M317 1643h.01M319 1641h.01M329 1691h.01M329 1691h.01M328 1691h.01M328 1689h.01M332 1691h.01M330 1690h.01M331 1692h.01M329 1692h.01M331 1692h.01M330 1689h.01M331 1691h.01M330 1691h.01M329 1688h.01M330 1690h.01M345 1624h.01M346 1624h.01M346 1627h.01M344 1627h.01M348 1626h.01M345 1625h.01M345 1626h.01M345 1628h.01M348 1626h.01M344 1628h.01M348 1627h.01M345 1627h.01M345 1626h.01"/>
<path stroke="#ff6400" d="M312 1656h.01M312 1657h.01M311 1657h.01M309 1658h.01M312 1659h.01M312 1658h.01M312 1657h.01M309 1657h.01M310 1658h.01M308 1658h.01M311 1659h.01M308 1656h.01M310 1657h.01M311 1658h.01M331 1628h.01M329 1629h.01M330 1628h.01M330 1628h.01M329 1629h.01M328 1630h.01M331 1630h.01M330 1631h.01M332 1631h.01M332 1630h.01M331 1628h.01M325 1695h.01M328 1693h.01M328 1695h.01M325 1696h.01M325 1695h.01M326 1694h.01M338 1627h.01M337 1625h.01M337 1624h.01M336 1626h.01M339 1626h.01M340 1627h.01M338 1626h.01M337 1628h.01M305 1689h.01M307 1689h.01M305 1689h.01M306 1689h.01M305 1691h.01M307 1691h.01M307 1692h.01M306 1691h.01M306 1690h.01M307 1692h.01M306 1691h.01M305 1692h.01M306 1690h.01M307 1689h.01M306 1674h.01M307 1675h.01M307 1675h.01M305 1675h.01M305 1673h.01M304 1673h.01M306 1672h.01M305 1672h.01M307 1675h.01M307 1676h.01M308 1674h.01M306 1674h.01M345 1653h.01M347 1654h.01M347 1654h.01M346 1655h.01M346 1653h.01M344 1655h.01M344 1654h.01M343 1626h.01M342 1626h.01M343 1626h.01M342 1627h.01M344 1625h.01M341 1627h.01M341 1627h.01M343 1627h.01M341 1626h.01M343 1627h.01M343 1626h.01M344 1627h.01M341 1628h.01M341 1626h.01M343 1626h.01M322 1638h.01M322 1638h.01M322 1637h.01M322 1640h.01M321 1638h.01M323 1637h.01M321 1639h.01M320 1637h.01M322 1639h.01M323 1640h.01M320 1639h.01M323 1639h.01M321 1639h.01M323 1636h.01M322 1636h.01M324 1636h.01M321 1637h.01M327 1632h.01M326 1632h.01M325 1633h.01M328 1636h.01M326 1634h.01M328 1634h.01M327 1634h.01M327 1634h.01M326 1633h.01M313 1650h.01M312 1649h.01M313 1651h.01M315 1648h.01M316 1651h.01M315 1651h.01M314 1652h.01M316 1651h.01M313 1652h.01M342 1668h.01M340 1666h.01M342 1667h.01M341 1667h.01M340 1667h.01"/>
<path stroke="#ff5400" d="M316 1696h.01M318 1700h.01M317 1697h.01M316 1699h.01M317 1698h.01M317 1699h.01M319 1699h.01M317 1699h.01M318 1696h.01M319 1698h.01M319 1699h.01M320 1698h.01M319 1696h.01M317 1699h.01M318 1698h.01M317 1698h.01M347 1628h.01M347 1631h.01M344 1631h.01M346 1629h.01M345 1628h.01M345 1630h.01M346 1630h.01M344 1631h.01M307 1678h.01M305 1678h.01M306 1677h.01M307 1680h.01M307 1676h.01M305 1679h.01M306 1678h.01M305 1680h.01M308 1677h.01M307 1677h.01M306 1679h.01M306 1677h.01M306 1678h.01M308 1679h.01M306 1679h.01M308 1679h.01M308 1679h.01M308 1677h.01M307 1677h.01M304 1678h.01M307 1677h.01M306 1687h.01M307 1686h.01M307 1685h.01M308 1687h.01M307 1685h.01M307 1686h.01M307 1686h.01M305 1685h.01M308 1687h.01M305 1687h.01M306 1688h.01M307 1685h.01M306 1687h.01M305 1685h.01M312 1697h.01M314 1698h.01M315 1697h.01M312 1697h.01M315 1696h.01M316 1697h.01M312 1698h.01M313 1699h.01M315 1699h.01M315 1700h.01M314 1697h.01M313 1698h.01M313 1698h.01M315 1698h.01M312 1696h.01M314 1697h.01M313 1700h.01M316 1697h.01M315 1697h.01M314 1697h.01M306 1682h.01M305 1681h.01M304 1681h.01M306 1680h.01M304 1682h.01M306 1681h.01M306 1681h.01M307 1683h.01M306 1682h.01M307 1682h.01M305 1681h.01M308 1681h.01M307 1681h.01M346 1649h.01M344 1650h.01M346 1650h.01M345 1650h.01M346 1652h.01M345 1649h.01M347 1651h.01M347 1651h.01M346 1649h.01M347 1651h.01M332 1684h.01M334 1683h.01M334 1684h.01M336 1684h.01M332 1681h.01M335 1680h.01M334 1682h.01M333 1681h.01M336 1684h.01M336 1681h.01M336 1681h.01M334 1683h.01M333 1682h.01M332 1681h.01M339 1676h.01M338 1675h.01M338 1676h.01M338 1676h.01M339 1675h.01M339 1673h.01M336 1673h.01M338 1673h.01M338 1674h.01M339 1674h.01M340 1675h.01M333 1631h.01M332 1631h.01M333 1632h.01M332 1631h.01M334 1631h.01M335 1630h.01M332 1631h.01M332 1631h.01M334 1632h.01M334 1630h.01M334 1632h.01M333 1629h.01M334 1629h.01M334 1629h.01M334 1630h.01M334 1630h.01M333 1631h.01M348 1636h.01M345 1635h.01M347 1633h.01M346 1632h.01M345 1632h.01M346 1635h.01M347 1635h.01M345 1635h.01M345 1634h.01M347 1634h.01M346 1634h.01M347 1634h.01"/>
<path stroke="#ff4000" d="M347 1647h.01M344 1645h.01M346 1647h.01M345 1645h.01M348 1646h.01M345 1647h.01M346 1646h.01M347 1648h.01M344 1645h.01M348 1645h.01M348 1645h.01M345 1648h.01M347 1646h.01M312 1662h.01M311 1662h.01M309 1663h.01M308 1661h.01M312 1661h.01M309 1664h.01M312 1663h.01M311 1663h.01M311 1664h.01M311 1663h.01M311 1662h.01M310 1664h.01M308 1664h.01M308 1661h.01M308 1663h.01M311 1662h.01M343 1628h.01M341 1630h.01M344 1630h.01M344 1630h.01M340 1630h.01M341 1628h.01M343 1628h.01M342 1630h.01M342 1631h.01M340 1630h.01M340 1630h.01M343 1631h.01M343 1628h.01M343 1630h.01M341 1629h.01M343 1630h.01M343 1630h.01M345 1638h.01M345 1637h.01M345 1640h.01M344 1636h.01M347 1640h.01M346 1638h.01M347 1640h.01M346 1637h.01M345 1639h.01M347 1641h.01M346 1643h.01M345 1641h.01M345 1641h.01M348 1641h.01M347 1642h.01M345 1641h.01M344 1641h.01M346 1643h.01M344 1642h.01M348 1641h.01M347 1643h.01M344 1642h.01M309 1693h.01M312 1694h.01M312 1693h.01M310 1693h.01M311 1693h.01M310 1695h.01M312 1695h.01M311 1692h.01M312 1694h.01M308 1693h.01M311 1694h.01M308 1696h.01M312 1693h.01M312 1695h.01M310 1692h.01M310 1693h.01M342 1662h.01M342 1663h.01M341 1660h.01M343 1661h.01M343 1661h.01M342 1662h.01M341 1660h.01M342 1664h.01M340 1664h.01M342 1661h.01M341 1660h.01M342 1662h.01M344 1661h.01M341 1661h.01M339 1630h.01M336 1629h.01M337 1632h.01M336 1631h.01M338 1628h.01M340 1630h.01M338 1629h.01M336 1629h.01M337 1628h.01M338 1630h.01M338 1631h.01M337 1630h.01M316 1648h.01M317 1647h.01M319 1645h.01M319 1645h.01M319 1644h.01M318 1647h.01M318 1646h.01M318 1646h.01M319 1646h.01M316 1646h.01M317 1645h.01M318 1646h.01M319 1647h.01M319 1645h.01"/>
<path stroke="#ff2c00" d="M322 1694h.01M322 1696h.01M321 1695h.01M322 1693h.01M324 1693h.01M323 1693h.01M323 1695h.01M322 1693h.01M320 1696h.01M322 1694h.01M323 1694h.01M324 1694h.01M321 1693h.01M330 1688h.01M331 1684h.01M332 1684h.01M329 1686h.01M328 1685h.01M330 1684h.01M329 1687h.01M329 1684h.01M328 1685h.01M329 1686h.01M329 1686h.01M331 1688h.01M330 1685h.01M330 1685h.01M330 1685h.01M329 1688h.01M329 1687h.01M328 1685h.01M331 1684h.01M331 1634h.01M330 1635h.01M330 1635h.01M328 1635h.01M331 1635h.01M331 1632h.01M330 1633h.01M331 1635h.01M329 1636h.01M329 1635h.01M331 1634h.01M332 1633h.01M331 1635h.01M332 1633h.01M329 1636h.01M315 1653h.01M312 1654h.01M314 1654h.01M316 1654h.01M315 1655h.01M313 1652h.01M315 1654h.01M313 1655h.01M313 1654h.01M315 1655h.01M315 1652h.01M314 1656h.01M314 1652h.01M313 1653h.01M344 1634h.01M342 1635h.01M342 1632h.01M344 1633h.01M341 1635h.01M344 1635h.01M342 1634h.01M344 1633h.01M341 1632h.01M344 1634h.01M342 1632h.01M342 1635h.01M341 1633h.01M343 1635h.01M328 1690h.01M327 1689h.01M327 1689h.01M325 1692h.01M328 1690h.01M328 1690h.01M324 1690h.01M326 1689h.01M325 1690h.01M328 1691h.01M327 1688h.01M326 1691h.01M326 1690h.01M327 1690h.01M328 1689h.01M341 1658h.01M344 1659h.01M342 1657h.01M342 1659h.01M341 1657h.01M337 1670h.01M336 1669h.01M336 1671h.01M339 1668h.01M337 1671h.01M338 1668h.01M340 1670h.01M336 1669h.01M337 1668h.01M337 1670h.01M339 1671h.01M339 1669h.01M340 1671h.01M327 1637h.01M326 1639h.01M325 1637h.01M326 1636h.01M328 1638h.01M327 1638h.01M325 1636h.01M327 1639h.01M328 1636h.01M326 1637h.01M327 1638h.01M325 1640h.01M322 1642h.01M321 1642h.01M322 1643h.01M322 1644h.01M322 1643h.01M320 1642h.01M323 1642h.01M322 1644h.01M323 1641h.01M321 1643h.01M320 1643h.01M323 1644h.01M322 1641h.01M323 1641h.01M322 1642h.01M324 1643h.01M320 1643h.01"/>
<path stroke="#ff1800" d="M312 1665h.01M311 1665h.01M308 1664h.01M311 1666h.01M311 1668h.01M311 1667h.01M309 1665h.01M311 1665h.01M310 1665h.01M334 1679h.01M335 1677h.01M335 1679h.01M336 1680h.01M334 1679h.01M336 1680h.01M335 1676h.01M334 1679h.01M334 1679h.01M335 1679h.01M336 1678h.01M333 1679h.01M334 1677h.01M312 1693h.01M314 1695h.01M314 1695h.01M314 1696h.01M315 1694h.01M314 1695h.01M316 1695h.01M314 1693h.01M313 1693h.01M314 1694h.01M316 1695h.01M314 1693h.01M316 1695h.01M313 1694h.01M315 1694h.01M315 1692h.01M315 1694h.01M333 1635h.01M336 1635h.01M335 1635h.01M336 1635h.01M332 1632h.01M333 1635h.01M333 1636h.01M335 1634h.01M334 1633h.01M334 1633h.01M334 1636h.01M334 1635h.01M336 1636h.01M308 1691h.01M311 1689h.01M308 1688h.01M311 1692h.01M311 1689h.01M311 1691h.01M310 1688h.01M311 1692h.01M312 1691h.01M311 1688h.01M309 1691h.01M311 1692h.01M309 1691h.01M309 1689h.01M309 1690h.01M311 1688h.01M310 1688h.01M311 1690h.01M308 1688h.01M339 1633h.01M337 1635h.01M339 1634h.01M337 1635h.01M339 1634h.01M337 1636h.01M340 1635h.01M340 1635h.01M337 1633h.01M337 1633h.01M339 1632h.01M339 1635h.01M339 1634h.01M338 1632h.01M339 1635h.01M340 1633h.01M341 1640h.01M343 1640h.01M342 1639h.01M342 1638h.01M340 1638h.01M343 1636h.01M341 1638h.01M341 1636h.01M344 1638h.01M341 1639h.01M340 1637h.01M343 1638h.01M319 1694h.01M318 1692h.01M320 1692h.01M319 1693h.01M319 1694h.01M319 1695h.01M319 1694h.01M318 1695h.01M319 1693h.01M317 1696h.01M317 1696h.01M343 1652h.01M342 1652h.01M343 1654h.01M341 1653h.01M341 1655h.01M343 1656h.01M342 1654h.01M341 1654h.01M343 1653h.01M340 1654h.01"/>
<path stroke="#ff0a00" d="M341 1640h.01M341 1643h.01M343 1642h.01M341 1643h.01M341 1642h.01M341 1650h.01M344 1651h.01M342 1652h.01M342 1649h.01M343 1649h.01M342 1652h.01M340 1648h.01M344 1644h.01M341 1644h.01M342 1646h.01M343 1647h.01M342 1646h.01M342 1646h.01M312 1671h.01M309 1672h.01M309 1669h.01M309 1670h.01M310 1671h.01M311 1672h.01M311 1670h.01M309 1670h.01M309 1669h.01M308 1671h.01M310 1669h.01M312 1670h.01M310 1668h.01M310 1671h.01M309 1670h.01M311 1669h.01M309 1669h.01M312 1669h.01M309 1670h.01M309 1669h.01M310 1672h.01M338 1664h.01M337 1664h.01M338 1668h.01M337 1666h.01M339 1668h.01M337 1667h.01M340 1665h.01M340 1667h.01M338 1668h.01M337 1668h.01M336 1668h.01M338 1668h.01M339 1666h.01M336 1667h.01M339 1665h.01M310 1686h.01M308 1685h.01M312 1684h.01M311 1688h.01M309 1687h.01M309 1688h.01M308 1686h.01M310 1684h.01M309 1686h.01M308 1684h.01M309 1688h.01M309 1684h.01M310 1686h.01M309 1687h.01M311 1688h.01M318 1651h.01M316 1648h.01M317 1650h.01M319 1652h.01M319 1649h.01M316 1651h.01M319 1652h.01M320 1650h.01M318 1651h.01M317 1652h.01M319 1652h.01M316 1652h.01M318 1652h.01M316 1659h.01M314 1657h.01M313 1658h.01M314 1659h.01M313 1656h.01M314 1658h.01M316 1659h.01M313 1659h.01M316 1659h.01M315 1656h.01M314 1658h.01M315 1657h.01M315 1660h.01M314 1658h.01M314 1656h.01M315 1658h.01M313 1660h.01M313 1657h.01M314 1659h.01M315 1659h.01M313 1656h.01M313 1659h.01M315 1660h.01M314 1658h.01M328 1640h.01M331 1637h.01M332 1639h.01M331 1639h.01M332 1637h.01M329 1638h.01M332 1637h.01M331 1639h.01M331 1639h.01M331 1638h.01M332 1639h.01M330 1636h.01M330 1637h.01M329 1637h.01M332 1637h.01M332 1638h.01M331 1639h.01"/>
<path stroke="#ff0000" d="M330 1680h.01M328 1684h.01M328 1681h.01M329 1681h.01M329 1681h.01M328 1681h.01M331 1681h.01M330 1682h.01M331 1683h.01M331 1681h.01M331 1680h.01M329 1682h.01M332 1680h.01M332 1682h.01M330 1680h.01M330 1681h.01M338 1636h.01M337 1640h.01M338 1639h.01M338 1639h.01M337 1638h.01M338 1638h.01M338 1636h.01M339 1639h.01M337 1639h.01M312 1676h.01M309 1676h.01M310 1674h.01M309 1676h.01M311 1673h.01M310 1676h.01M311 1673h.01M311 1673h.01M312 1672h.01M309 1675h.01M309 1673h.01M312 1673h.01M309 1673h.01M311 1674h.01M309 1674h.01M312 1675h.01M324 1689h.01M322 1689h.01M322 1689h.01M323 1688h.01M322 1691h.01M322 1691h.01M321 1690h.01M322 1691h.01M321 1689h.01M321 1689h.01M322 1689h.01M323 1690h.01M324 1690h.01M323 1691h.01M321 1690h.01M322 1690h.01M323 1690h.01M324 1689h.01M320 1691h.01M321 1688h.01M323 1690h.01M334 1674h.01M333 1672h.01M335 1676h.01M333 1674h.01M336 1675h.01M332 1675h.01M334 1674h.01M312 1681h.01M308 1682h.01M311 1682h.01M310 1683h.01M310 1682h.01M312 1684h.01M311 1680h.01M308 1684h.01M309 1683h.01M312 1682h.01M309 1680h.01M310 1680h.01M312 1682h.01M310 1683h.01M309 1680h.01M308 1684h.01M309 1683h.01M332 1638h.01M333 1640h.01M333 1636h.01M332 1640h.01M336 1638h.01M335 1637h.01M335 1638h.01M333 1640h.01M333 1638h.01M334 1637h.01M335 1640h.01M334 1638h.01M335 1639h.01M335 1638h.01M336 1638h.01M335 1639h.01M334 1638h.01M335 1636h.01M334 1639h.01M334 1639h.01M334 1636h.01M310 1677h.01M311 1679h.01M310 1677h.01M310 1678h.01M310 1679h.01M312 1677h.01M310 1678h.01M309 1678h.01M310 1677h.01M309 1677h.01M308 1678h.01M311 1677h.01M325 1686h.01M326 1686h.01M324 1685h.01M325 1685h.01M328 1686h.01M326 1685h.01M325 1684h.01M327 1684h.01M326 1686h.01M328 1687h.01M328 1684h.01M328 1685h.01M327 1685h.01M328 1686h.01M328 1686h.01M326 1641h.01M324 1642h.01M326 1644h.01M328 1642h.01M328 1644h.01M326 1642h.01M328 1642h.01M328 1641h.01M328 1640h.01M326 1641h.01M325 1641h.01M328 1644h.01M322 1645h.01M321 1645h.01M324 1645h.01M321 1646h.01M322 1647h.01M323 1644h.01M323 1644h.01M323 1646h.01M321 1647h.01M321 1644h.01M338 1663h.01M337 1663h.01M336 1660h.01M338 1661h.01M336 1663h.01M314 1691h.01M314 1689h.01M316 1688h.01M314 1692h.01M314 1691h.01M316 1690h.01M316 1691h.01M315 1690h.01M315 1689h.01M313 1688h.01M312 1689h.01M313 1691h.01M314 1688h.01M315 1688h.01M314 1689h.01M316 1689h.01M314 1689h.01M314 1692h.01M315 1688h.01M313 1691h.01M316 1692h.01M316 1691h.01M316 1690h.01M315 1691h.01M314 1691h.01"/>
<path stroke="#ff0000" d="M338 1643h.01M339 1641h.01M340 1641h.01M339 1641h.01M337 1641h.01M337 1641h.01M338 1640h.01M336 1640h.01M337 1643h.01M337 1643h.01M336 1641h.01M339 1642h.01M338 1642h.01M339 1640h.01M337 1641h.01M337 1641h.01M319 1690h.01M320 1691h.01M318 1690h.01M319 1688h.01M318 1689h.01M318 1689h.01M317 1691h.01M320 1692h.01M319 1692h.01M318 1688h.01M320 1689h.01M320 1688h.01M339 1660h.01M336 1659h.01M340 1657h.01M338 1659h.01M338 1657h.01M340 1657h.01M336 1657h.01M336 1659h.01M338 1659h.01M339 1659h.01M339 1657h.01M337 1660h.01M340 1658h.01M338 1658h.01M316 1662h.01M314 1661h.01M313 1663h.01M312 1663h.01M315 1662h.01M312 1662h.01M314 1664h.01M314 1661h.01M315 1663h.01M315 1662h.01M316 1664h.01M312 1663h.01M315 1662h.01M315 1663h.01M315 1660h.01M315 1664h.01M314 1663h.01M313 1661h.01M316 1660h.01M312 1663h.01M314 1662h.01M312 1663h.01M315 1664h.01"/>
<path stroke="#fc0000" d="M337 1644h.01M338 1648h.01M338 1645h.01M340 1648h.01M340 1647h.01M340 1646h.01M339 1646h.01M339 1645h.01M337 1647h.01M339 1656h.01M337 1655h.01M338 1655h.01M338 1655h.01M338 1654h.01M337 1656h.01M338 1653h.01M337 1655h.01M339 1652h.01M339 1652h.01M339 1654h.01M328 1642h.01M331 1641h.01M331 1644h.01M331 1642h.01M329 1643h.01M331 1642h.01M332 1641h.01M329 1641h.01M330 1641h.01M328 1643h.01M330 1642h.01M331 1644h.01M332 1644h.01M330 1640h.01M329 1643h.01M328 1641h.01M318 1652h.01M318 1652h.01M318 1656h.01M316 1654h.01M320 1654h.01M319 1653h.01M320 1654h.01M316 1654h.01M319 1656h.01M317 1655h.01M316 1653h.01M318 1656h.01M317 1654h.01M318 1656h.01M319 1655h.01M318 1654h.01M317 1655h.01M318 1656h.01M316 1652h.01M319 1655h.01M317 1653h.01M332 1671h.01M333 1671h.01M336 1672h.01M334 1669h.01M335 1671h.01M338 1652h.01M337 1649h.01M338 1649h.01M340 1650h.01M339 1651h.01M338 1650h.01M337 1650h.01M338 1650h.01M339 1649h.01M338 1649h.01M340 1650h.01M339 1649h.01M336 1652h.01M340 1650h.01M334 1644h.01M332 1642h.01M333 1643h.01M333 1643h.01M334 1640h.01M333 1644h.01M336 1641h.01M334 1642h.01M333 1644h.01M336 1643h.01M335 1643h.01M334 1644h.01M332 1642h.01M334 1643h.01M334 1642h.01M332 1643h.01M334 1643h.01M336 1641h.01M332 1641h.01M334 1641h.01M332 1679h.01M329 1678h.01M331 1679h.01M330 1678h.01M328 1677h.01M329 1680h.01M331 1679h.01M331 1678h.01M330 1678h.01M332 1676h.01M331 1679h.01M330 1680h.01M315 1685h.01M313 1685h.01M315 1686h.01M315 1684h.01M312 1685h.01M313 1684h.01M316 1688h.01M316 1687h.01M315 1687h.01M315 1685h.01M315 1685h.01M313 1685h.01M314 1685h.01M314 1684h.01M312 1685h.01M312 1688h.01"/>
<path stroke="#f00000" d="M321 1687h.01M323 1686h.01M324 1686h.01M321 1684h.01M322 1688h.01M321 1686h.01M321 1684h.01M320 1687h.01M322 1687h.01M324 1685h.01M323 1686h.01M321 1685h.01M321 1686h.01M323 1688h.01M313 1665h.01M312 1665h.01M312 1664h.01M313 1666h.01M312 1667h.01M316 1666h.01M312 1665h.01M313 1665h.01M315 1664h.01M316 1665h.01M315 1667h.01M313 1665h.01M316 1666h.01M312 1665h.01M313 1667h.01M315 1667h.01M315 1665h.01M315 1668h.01M315 1664h.01M316 1665h.01M316 1664h.01M326 1645h.01M325 1648h.01M324 1645h.01M325 1648h.01M326 1647h.01M326 1647h.01M325 1646h.01M324 1646h.01M324 1645h.01M327 1645h.01M325 1644h.01M325 1647h.01M328 1646h.01M327 1645h.01M325 1645h.01M327 1645h.01M325 1648h.01M327 1646h.01M326 1644h.01M324 1647h.01M326 1645h.01M327 1681h.01M327 1680h.01M328 1684h.01M327 1683h.01M325 1681h.01M325 1681h.01M326 1681h.01M325 1683h.01M326 1684h.01M326 1680h.01M325 1682h.01M327 1682h.01M322 1649h.01M321 1649h.01M322 1650h.01M321 1649h.01M321 1651h.01M322 1650h.01M321 1649h.01M322 1652h.01M321 1649h.01M322 1648h.01M323 1650h.01M321 1651h.01M323 1650h.01M321 1651h.01M320 1649h.01M321 1651h.01M322 1652h.01M333 1668h.01M334 1666h.01M335 1665h.01M334 1666h.01M335 1667h.01M333 1666h.01M336 1666h.01M332 1665h.01M333 1665h.01M334 1666h.01M333 1667h.01M332 1647h.01M335 1645h.01M335 1646h.01M335 1644h.01M332 1646h.01M332 1646h.01M335 1648h.01M332 1645h.01M332 1644h.01M335 1648h.01M335 1645h.01M334 1645h.01M335 1645h.01M333 1644h.01M332 1647h.01M332 1645h.01M334 1646h.01M335 1645h.01M335 1644h.01M336 1645h.01M333 1645h.01M332 1646h.01"/>
<path stroke="#de0000" d="M316 1684h.01M317 1685h.01M318 1685h.01M316 1687h.01M317 1687h.01M319 1686h.01M316 1685h.01M318 1684h.01M319 1687h.01M316 1685h.01M317 1686h.01M320 1687h.01M319 1687h.01M316 1687h.01M319 1687h.01M316 1685h.01M316 1685h.01M320 1686h.01M317 1688h.01M318 1687h.01M316 1686h.01M314 1681h.01M312 1682h.01M312 1681h.01M315 1682h.01M316 1682h.01M314 1680h.01M316 1684h.01M313 1684h.01M312 1683h.01M314 1681h.01M315 1682h.01M314 1683h.01M314 1682h.01M314 1682h.01M313 1683h.01M313 1683h.01M313 1682h.01M314 1684h.01M315 1671h.01M314 1669h.01M313 1672h.01M312 1671h.01M315 1668h.01M312 1669h.01M316 1669h.01M316 1669h.01M313 1668h.01M313 1670h.01M314 1670h.01M314 1671h.01M315 1669h.01M313 1670h.01M313 1669h.01M315 1669h.01M314 1671h.01M331 1646h.01M331 1644h.01M330 1645h.01M328 1646h.01M329 1645h.01M330 1644h.01M330 1644h.01M331 1645h.01M331 1648h.01M330 1645h.01M331 1646h.01M331 1646h.01M328 1645h.01M332 1646h.01M330 1647h.01M330 1647h.01M332 1646h.01M317 1660h.01M317 1658h.01M318 1658h.01M317 1657h.01M320 1659h.01M318 1657h.01M317 1659h.01M317 1659h.01M318 1657h.01M320 1660h.01M320 1660h.01M319 1659h.01M317 1657h.01M320 1657h.01M316 1657h.01M319 1660h.01M319 1659h.01M318 1660h.01M319 1656h.01M316 1657h.01M329 1675h.01M329 1672h.01M331 1673h.01M331 1675h.01M331 1672h.01M329 1673h.01M331 1673h.01M330 1673h.01M328 1674h.01M328 1675h.01M329 1672h.01M329 1674h.01M328 1676h.01M336 1662h.01M333 1662h.01M335 1661h.01M333 1662h.01M333 1662h.01M335 1662h.01M335 1663h.01M334 1662h.01M332 1660h.01M332 1662h.01M334 1661h.01M334 1663h.01M332 1662h.01M335 1664h.01M334 1663h.01M315 1678h.01M313 1677h.01M314 1679h.01M314 1676h.01M314 1678h.01M315 1679h.01M313 1676h.01M314 1679h.01M313 1679h.01M312 1680h.01M315 1676h.01M313 1678h.01M316 1678h.01M314 1676h.01M312 1678h.01M314 1680h.01M313 1678h.01M313 1676h.01M315 1678h.01M335 1652h.01M335 1651h.01M333 1651h.01M333 1649h.01M333 1652h.01M336 1649h.01M333 1651h.01M333 1650h.01M335 1650h.01M334 1649h.01M333 1649h.01M316 1675h.01M313 1673h.01M313 1674h.01M316 1676h.01M314 1676h.01M313 1674h.01M316 1673h.01M315 1674h.01M312 1673h.01M316 1676h.01M314 1673h.01M314 1672h.01M312 1673h.01M314 1675h.01M313 1675h.01M314 1676h.01M313 1675h.01"/>
<path stroke="#cc0000" d="M333 1657h.01M332 1656h.01M335 1658h.01M334 1656h.01M335 1658h.01M335 1659h.01M335 1659h.01M333 1657h.01M333 1658h.01M334 1656h.01M335 1657h.01M335 1657h.01M333 1658h.01M333 1656h.01M335 1657h.01M335 1660h.01M334 1659h.01M332 1659h.01M334 1658h.01M336 1659h.01M335 1657h.01M334 1659h.01M333 1657h.01M336 1658h.01M333 1657h.01M333 1655h.01M333 1654h.01M334 1653h.01M333 1652h.01M334 1653h.01M332 1655h.01M333 1652h.01M333 1653h.01M335 1653h.01M336 1653h.01M336 1652h.01M334 1656h.01M333 1652h.01M320 1684h.01M323 1680h.01M322 1681h.01M324 1682h.01M320 1682h.01M320 1683h.01M322 1680h.01M320 1680h.01M322 1682h.01M322 1682h.01M322 1683h.01M321 1684h.01M321 1682h.01M323 1681h.01M324 1683h.01M323 1684h.01M321 1680h.01M327 1650h.01M326 1650h.01M327 1652h.01M326 1649h.01M327 1650h.01M324 1650h.01M326 1650h.01M326 1649h.01M325 1648h.01M326 1649h.01M324 1652h.01M326 1649h.01M326 1652h.01M326 1648h.01M327 1648h.01M326 1649h.01M324 1649h.01M325 1648h.01M326 1651h.01M326 1650h.01M325 1651h.01M326 1678h.01M327 1679h.01M326 1677h.01M328 1678h.01M328 1678h.01M328 1678h.01M328 1679h.01M325 1678h.01M326 1678h.01M326 1679h.01M326 1679h.01M327 1678h.01M325 1679h.01M325 1677h.01M325 1676h.01M321 1653h.01M323 1653h.01M321 1655h.01M323 1653h.01M321 1656h.01M323 1655h.01M323 1655h.01M323 1652h.01M323 1654h.01M320 1653h.01M321 1655h.01M319 1680h.01M317 1682h.01M320 1681h.01M320 1682h.01M319 1680h.01M319 1683h.01M318 1680h.01M320 1681h.01M318 1681h.01M320 1681h.01M318 1681h.01M317 1682h.01M318 1684h.01M319 1683h.01M317 1682h.01M319 1683h.01M320 1682h.01M317 1683h.01M318 1682h.01M317 1683h.01M319 1682h.01M316 1680h.01M317 1681h.01M317 1682h.01M318 1682h.01M317 1682h.01M316 1682h.01M330 1649h.01M331 1652h.01M331 1651h.01M328 1650h.01M332 1652h.01M329 1649h.01M329 1652h.01M332 1652h.01M330 1650h.01M328 1648h.01M329 1648h.01M329 1650h.01M328 1649h.01M331 1652h.01M331 1652h.01M329 1650h.01M329 1650h.01M330 1650h.01M329 1651h.01M329 1650h.01"/>
<path stroke="#bb0000" d="M317 1663h.01M318 1662h.01M316 1662h.01M318 1662h.01M320 1662h.01M319 1664h.01M317 1660h.01M317 1660h.01M319 1660h.01M316 1662h.01M317 1663h.01M318 1661h.01M318 1662h.01M319 1663h.01M318 1664h.01M318 1661h.01M319 1662h.01M319 1663h.01M318 1664h.01M318 1660h.01M330 1670h.01M329 1669h.01M332 1669h.01M330 1672h.01M329 1669h.01M328 1669h.01M328 1668h.01M331 1668h.01M329 1671h.01M332 1670h.01M329 1668h.01M332 1670h.01M330 1672h.01M328 1669h.01M331 1671h.01M331 1671h.01M330 1669h.01"/>
<path stroke="#aa0000" d="M318 1677h.01M318 1679h.01M317 1678h.01M317 1680h.01M318 1678h.01M319 1680h.01M318 1677h.01M320 1676h.01M317 1679h.01M317 1677h.01M320 1678h.01M317 1679h.01M317 1678h.01M317 1679h.01M318 1678h.01M319 1679h.01M319 1677h.01M319 1676h.01M318 1678h.01M329 1653h.01M331 1654h.01M330 1655h.01M329 1655h.01M331 1655h.01M332 1653h.01M331 1655h.01M329 1656h.01M330 1654h.01M329 1654h.01M328 1655h.01M332 1654h.01M329 1652h.01M330 1655h.01M331 1653h.01M329 1654h.01M329 1656h.01M330 1655h.01M330 1664h.01M328 1666h.01M328 1665h.01M332 1667h.01M332 1666h.01M328 1666h.01M330 1668h.01M330 1667h.01M332 1665h.01M329 1667h.01M330 1668h.01M329 1665h.01M329 1666h.01M330 1668h.01M331 1667h.01M329 1668h.01M332 1666h.01M320 1668h.01M317 1665h.01M318 1664h.01M319 1665h.01M317 1667h.01M317 1668h.01M317 1667h.01M319 1665h.01M316 1664h.01M318 1666h.01M317 1668h.01M317 1665h.01M318 1668h.01M318 1668h.01M320 1666h.01M317 1664h.01M318 1668h.01M317 1667h.01M316 1664h.01M325 1656h.01M326 1653h.01M326 1654h.01M325 1656h.01M326 1653h.01M325 1655h.01M328 1652h.01M324 1654h.01M328 1654h.01M325 1653h.01M327 1653h.01M324 1656h.01M326 1655h.01M327 1653h.01M328 1656h.01M326 1654h.01M324 1654h.01M326 1655h.01M322 1679h.01M323 1678h.01M324 1678h.01M324 1679h.01M322 1678h.01M324 1678h.01M323 1680h.01M323 1676h.01M322 1678h.01M322 1678h.01M320 1679h.01M321 1678h.01M323 1677h.01M323 1679h.01M320 1678h.01M321 1678h.01M323 1679h.01M328 1673h.01M327 1673h.01M325 1672h.01M327 1676h.01M326 1672h.01M324 1675h.01M327 1675h.01M326 1674h.01M325 1676h.01M327 1672h.01M326 1672h.01M326 1675h.01M324 1676h.01M324 1675h.01M324 1672h.01M327 1676h.01M326 1675h.01M325 1674h.01M325 1673h.01M323 1657h.01M321 1656h.01M322 1658h.01M323 1658h.01M321 1656h.01M321 1656h.01M324 1659h.01M324 1656h.01M322 1656h.01M323 1656h.01M324 1660h.01M321 1659h.01M321 1658h.01M322 1656h.01M323 1658h.01M322 1659h.01M323 1657h.01M322 1657h.01M323 1659h.01M321 1659h.01M320 1659h.01M320 1656h.01M321 1656h.01M320 1658h.01M320 1660h.01M322 1658h.01M322 1656h.01M329 1658h.01M332 1659h.01M331 1658h.01M332 1657h.01M328 1658h.01M329 1659h.01M331 1657h.01M332 1660h.01M328 1657h.01M331 1656h.01M330 1659h.01M330 1657h.01M330 1662h.01M331 1660h.01M328 1664h.01M331 1661h.01M329 1664h.01M331 1660h.01M331 1663h.01M329 1663h.01M329 1662h.01M332 1663h.01M332 1664h.01M331 1661h.01M331 1661h.01M329 1663h.01M331 1663h.01M329 1663h.01M331 1660h.01M330 1661h.01M317 1675h.01M316 1675h.01M320 1674h.01M317 1676h.01M320 1676h.01M319 1672h.01M319 1672h.01M319 1673h.01M320 1674h.01M316 1673h.01M320 1675h.01M320 1675h.01M316 1673h.01M318 1675h.01M320 1676h.01M318 1672h.01M320 1671h.01M318 1670h.01M317 1670h.01M318 1670h.01M318 1669h.01M317 1669h.01M318 1669h.01M320 1671h.01M320 1670h.01M319 1669h.01M318 1671h.01M320 1670h.01M319 1670h.01M317 1669h.01M317 1668h.01M319 1672h.01M317 1669h.01M316 1671h.01M319 1670h.01"/>
<path stroke="#990000" d="M327 1657h.01M326 1657h.01M327 1656h.01M326 1658h.01M326 1657h.01M326 1658h.01M327 1659h.01M327 1659h.01M327 1659h.01M326 1658h.01M326 1660h.01M327 1657h.01M326 1660h.01M326 1656h.01M325 1658h.01M327 1657h.01M324 1658h.01M324 1656h.01M325 1668h.01M325 1672h.01M325 1671h.01M327 1668h.01M327 1670h.01M326 1668h.01M324 1668h.01M325 1668h.01M325 1669h.01M325 1670h.01M324 1671h.01M327 1669h.01M328 1670h.01M322 1674h.01M321 1672h.01M323 1676h.01M322 1673h.01M321 1673h.01M323 1673h.01M322 1675h.01M321 1675h.01M320 1673h.01M322 1675h.01M323 1675h.01M323 1674h.01M323 1674h.01M323 1675h.01M320 1674h.01M321 1672h.01M320 1675h.01M323 1672h.01M324 1673h.01M320 1672h.01M323 1660h.01M322 1661h.01M321 1662h.01M322 1663h.01M323 1664h.01M321 1663h.01M321 1661h.01M321 1663h.01M324 1661h.01M323 1662h.01M322 1661h.01M322 1661h.01M321 1662h.01M324 1663h.01M324 1663h.01M326 1660h.01M327 1662h.01M327 1664h.01M327 1660h.01M326 1662h.01M328 1662h.01M327 1660h.01M326 1662h.01M326 1664h.01M326 1664h.01M327 1660h.01M326 1661h.01M326 1663h.01M327 1663h.01M324 1661h.01M327 1662h.01M328 1660h.01M326 1663h.01M325 1662h.01M325 1660h.01M327 1663h.01M326 1667h.01M325 1668h.01M326 1665h.01M328 1665h.01M326 1668h.01M324 1668h.01M326 1667h.01M327 1665h.01M327 1665h.01M324 1667h.01M324 1668h.01M326 1665h.01M324 1665h.01M325 1665h.01M326 1665h.01M328 1668h.01M324 1667h.01M328 1667h.01M327 1665h.01M327 1666h.01M325 1664h.01M323 1672h.01M323 1672h.01M322 1669h.01M323 1671h.01M322 1669h.01M322 1671h.01M323 1669h.01M321 1671h.01M322 1669h.01M324 1672h.01M322 1671h.01M321 1670h.01M322 1670h.01M322 1667h.01M323 1667h.01M323 1666h.01M321 1666h.01M321 1667h.01M322 1665h.01M321 1666h.01M322 1667h.01M323 1667h.01M321 1666h.01M322 1666h.01M322 1667h.01M322 1667h.01M322 1666h.01M321 1665h.01M321 1666h.01M321 1666h.01M324 1668h.01M324 1667h.01"/>
</g>
<line x1="288.7" y1="1718.3" x2="1737.7" y2="59.3" stroke="#1c1c1c" stroke-width="2"/>
<line x1="260.0" y1="57.4" x2="1738.9" y2="57.4" stroke="#c4c4c4" stroke-width="3"/>
<line x1="1740.0" y1="59" x2="1740.0" y2="1753.0" stroke="#c8c8c8" stroke-width="2"/>
<line x1="260.0" y1="1753.9" x2="1738.9" y2="1753.9" stroke="#d0d0d0" stroke-width="2"/>
<rect x="261.5" y="60.2" width="1475.9" height="1691.3" fill="none" stroke="#000" stroke-width="3"/>
<path d="M288.7 1751.5v-16.5M288.7 60.2v15M261.5 1718.3h15.5M1737.4 1718.3h-16M578.5 1751.5v-16.5M578.5 60.2v15M261.5 1386.1h15.5M1737.4 1386.1h-16M868.3 1751.5v-16.5M868.3 60.2v15M261.5 1053.9h15.5M1737.4 1053.9h-16M1158.1 1751.5v-16.5M1158.1 60.2v15M261.5 721.7h15.5M1737.4 721.7h-16M1447.9 1751.5v-16.5M1447.9 60.2v15M261.5 389.5h15.5M1737.4 389.5h-16M1737.7 1751.5v-16.5M1737.7 60.2v15" stroke="#000" stroke-width="2.8" fill="none"/>
<path d="M260.0 57.4h17M1738.9 57.4h-18" stroke="#333" stroke-width="3" fill="none"/>
<text class="t" x="288.7" y="1838.7" text-anchor="middle">0.0</text>
<text class="t" x="241" y="1743.9" text-anchor="end">0.0</text>
<text class="t" x="578.5" y="1838.7" text-anchor="middle">1.0</text>
<text class="t" x="241" y="1411.7" text-anchor="end">1.0</text>
<text class="t" x="868.3" y="1838.7" text-anchor="middle">2.0</text>
<text class="t" x="241" y="1079.5" text-anchor="end">2.0</text>
<text class="t" x="1158.1" y="1838.7" text-anchor="middle">3.0</text>
<text class="t" x="241" y="747.3" text-anchor="end">3.0</text>
<text class="t" x="1447.9" y="1838.7" text-anchor="middle">4.0</text>
<text class="t" x="241" y="415.1" text-anchor="end">4.0</text>
<text class="t" x="1737.7" y="1838.7" text-anchor="middle">5.0</text>
<text class="t" x="241" y="82.9" text-anchor="end">5.0</text>
<text class="b" x="1003.5" y="1929.3" text-anchor="middle">AERONET AOD</text>
<text class="b" transform="translate(87.6 898.2) rotate(-90)" text-anchor="middle">Terra DTDB 10 km AOD</text>
<text class="s" x="577.5" y="308.8">N = 10677</text>
<text class="s" x="577.5" y="424"><tspan font-style="italic">R</tspan><tspan font-size="61" dy="-44" dx="-4">2</tspan><tspan dy="44"> = 0.85</tspan></text>
<text class="s" x="577.5" y="518.6">RMSE = 0.21</text>
<rect x="1821.4" y="1731.43" width="54.8" height="27.07" fill="#000092"/>
<rect x="1821.4" y="1704.96" width="54.8" height="27.07" fill="#0000a2"/>
<rect x="1821.4" y="1678.49" width="54.8" height="27.07" fill="#0000b2"/>
<rect x="1821.4" y="1652.02" width="54.8" height="27.07" fill="#0000c2"/>
<rect x="1821.4" y="1625.55" width="54.8" height="27.07" fill="#0000d2"/>
<rect x="1821.4" y="1599.08" width="54.8" height="27.07" fill="#0000e2"/>
<rect x="1821.4" y="1572.61" width="54.8" height="27.07" fill="#0000f1"/>
<rect x="1821.4" y="1546.14" width="54.8" height="27.07" fill="#0000ff"/>
<rect x="1821.4" y="1519.67" width="54.8" height="27.07" fill="#0014ff"/>
<rect x="1821.4" y="1493.20" width="54.8" height="27.07" fill="#0026ff"/>
<rect x="1821.4" y="1466.73" width="54.8" height="27.07" fill="#0036ff"/>
<rect x="1821.4" y="1440.26" width="54.8" height="27.07" fill="#0046ff"/>
<rect x="1821.4" y="1413.79" width="54.8" height="27.07" fill="#0056ff"/>
<rect x="1821.4" y="1387.32" width="54.8" height="27.07" fill="#0066ff"/>
<rect x="1821.4" y="1360.85" width="54.8" height="27.07" fill="#0076ff"/>
<rect x="1821.4" y="1334.38" width="54.8" height="27.07" fill="#0084ff"/>
<rect x="1821.4" y="1307.90" width="54.8" height="27.07" fill="#0092ff"/>
<rect x="1821.4" y="1281.43" width="54.8" height="27.07" fill="#00a0ff"/>
<rect x="1821.4" y="1254.96" width="54.8" height="27.07" fill="#00b0ff"/>
<rect x="1821.4" y="1228.49" width="54.8" height="27.07" fill="#00c0ff"/>
<rect x="1821.4" y="1202.02" width="54.8" height="27.07" fill="#00d0ff"/>
<rect x="1821.4" y="1175.55" width="54.8" height="27.07" fill="#00e0ff"/>
<rect x="1821.4" y="1149.08" width="54.8" height="27.07" fill="#00f0ff"/>
<rect x="1821.4" y="1122.61" width="54.8" height="27.07" fill="#00ffff"/>
<rect x="1821.4" y="1096.14" width="54.8" height="27.07" fill="#00ffec"/>
<rect x="1821.4" y="1069.67" width="54.8" height="27.07" fill="#00ffdc"/>
<rect x="1821.4" y="1043.20" width="54.8" height="27.07" fill="#00ffcc"/>
<rect x="1821.4" y="1016.73" width="54.8" height="27.07" fill="#00ffbc"/>
<rect x="1821.4" y="990.26" width="54.8" height="27.07" fill="#00ffac"/>
<rect x="1821.4" y="963.79" width="54.8" height="27.07" fill="#00ff98"/>
<rect x="1821.4" y="937.32" width="54.8" height="27.07" fill="#00ff88"/>
<rect x="1821.4" y="910.85" width="54.8" height="27.07" fill="#00ff70"/>
<rect x="1821.4" y="884.38" width="54.8" height="27.07" fill="#00ff58"/>
<rect x="1821.4" y="857.91" width="54.8" height="27.07" fill="#58ff58"/>
<rect x="1821.4" y="831.44" width="54.8" height="27.07" fill="#80ff38"/>
<rect x="1821.4" y="804.97" width="54.8" height="27.07" fill="#98fc18"/>
<rect x="1821.4" y="778.50" width="54.8" height="27.07" fill="#b8ff00"/>
<rect x="1821.4" y="752.03" width="54.8" height="27.07" fill="#ccff00"/>
<rect x="1821.4" y="725.56" width="54.8" height="27.07" fill="#e8ff00"/>
<rect x="1821.4" y="699.09" width="54.8" height="27.07" fill="#ffff00"/>
<rect x="1821.4" y="672.62" width="54.8" height="27.07" fill="#fff000"/>
<rect x="1821.4" y="646.15" width="54.8" height="27.07" fill="#ffe000"/>
<rect x="1821.4" y="619.68" width="54.8" height="27.07" fill="#ffd100"/>
<rect x="1821.4" y="593.21" width="54.8" height="27.07" fill="#ffc100"/>
<rect x="1821.4" y="566.74" width="54.8" height="27.07" fill="#ffb200"/>
<rect x="1821.4" y="540.27" width="54.8" height="27.07" fill="#ffa200"/>
<rect x="1821.4" y="513.80" width="54.8" height="27.07" fill="#ff9300"/>
<rect x="1821.4" y="487.33" width="54.8" height="27.07" fill="#ff8300"/>
<rect x="1821.4" y="460.85" width="54.8" height="27.07" fill="#ff7400"/>
<rect x="1821.4" y="434.38" width="54.8" height="27.07" fill="#ff6400"/>
<rect x="1821.4" y="407.91" width="54.8" height="27.07" fill="#ff5400"/>
<rect x="1821.4" y="381.44" width="54.8" height="27.07" fill="#ff4000"/>
<rect x="1821.4" y="354.97" width="54.8" height="27.07" fill="#ff2c00"/>
<rect x="1821.4" y="328.50" width="54.8" height="27.07" fill="#ff1800"/>
<rect x="1821.4" y="302.03" width="54.8" height="27.07" fill="#ff0a00"/>
<rect x="1821.4" y="275.56" width="54.8" height="27.07" fill="#ff0000"/>
<rect x="1821.4" y="249.09" width="54.8" height="27.07" fill="#ff0000"/>
<rect x="1821.4" y="222.62" width="54.8" height="27.07" fill="#fc0000"/>
<rect x="1821.4" y="196.15" width="54.8" height="27.07" fill="#f00000"/>
<rect x="1821.4" y="169.68" width="54.8" height="27.07" fill="#de0000"/>
<rect x="1821.4" y="143.21" width="54.8" height="27.07" fill="#cc0000"/>
<rect x="1821.4" y="116.74" width="54.8" height="27.07" fill="#bb0000"/>
<rect x="1821.4" y="90.27" width="54.8" height="27.07" fill="#aa0000"/>
<rect x="1821.4" y="64.60" width="54.8" height="26.27" fill="#990000"/>
<path d="M1819.0 62.599999999999994V1760.3M1819.4 62.199999999999996H1877.2" stroke="#999" stroke-width="2.4" fill="none"/>
<path d="M1878.4 64.6V1760.3M1821.4 1761.5H1877.2" stroke="#ddd" stroke-width="1.6" fill="none"/>
<rect x="1821.4" y="64.6" width="54.8" height="1694.7" fill="none" stroke="#0a0a0a" stroke-width="2.5"/>
<text class="c" x="1893" y="1541.9">10</text>
<text class="c" x="1893" y="1277.2">20</text>
<text class="c" x="1893" y="1012.5">30</text>
<text class="c" x="1893" y="747.8">40</text>
<text class="c" x="1893" y="483.1">50</text>
<text class="c" x="1893" y="218.4">60</text>
<path d="M1821.4 1519.7h15M1876.2 1519.7h-16M1821.4 1255.0h15M1876.2 1255.0h-16M1821.4 990.3h15M1876.2 990.3h-16M1821.4 725.6h15M1876.2 725.6h-16M1821.4 460.9h15M1876.2 460.9h-16M1821.4 196.2h15M1876.2 196.2h-16" stroke="#000" stroke-width="2.6" fill="none"/>
</svg></body></html>
